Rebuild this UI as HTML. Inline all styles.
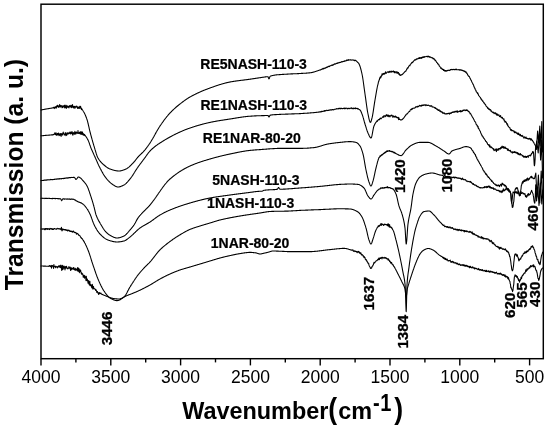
<!DOCTYPE html>
<html lang="en">
<head>
<meta charset="utf-8">
<title>FTIR spectra</title>
<style>
html,body{margin:0;padding:0;background:#fff;}
body{width:550px;height:435px;overflow:hidden;}
svg{display:block;}
text{font-family:"Liberation Sans",Arial,Helvetica,sans-serif;fill:#000;}
.curves path{fill:none;stroke:#000;stroke-width:1.08;stroke-linejoin:round;stroke-linecap:round;}
.frame{fill:none;stroke:#000;stroke-width:1.45;}
.ticks line{stroke:#000;stroke-width:1.4;}
.tl text{font-size:18.2px;text-anchor:middle;}
.sl text{font-size:15.2px;font-weight:bold;stroke:#000;stroke-width:0.25;}
.pl text{font-size:15.2px;font-weight:bold;stroke:#000;stroke-width:0.3;}
.ax{font-weight:bold;}
</style>
</head>
<body>
<svg width="550" height="435" viewBox="0 0 550 435">
<rect x="0" y="0" width="550" height="435" fill="#fff"/>
<g class="curves">
<path d="M41.0 110.0L41.3 109.9L41.6 109.9L41.9 109.8L42.2 109.8L42.5 109.7L42.8 109.6L43.1 109.6L43.4 109.5L43.7 109.5L44.0 109.4L44.3 109.4L44.6 109.3L44.9 109.2L45.2 109.2L45.5 109.1L45.8 109.1L46.1 109.0L46.4 109.0L46.7 108.9L47.0 108.9L47.3 108.8L47.6 108.8L47.9 108.7L48.0 108.7L48.2 108.7L48.5 108.6L48.8 108.6L49.1 108.5L49.4 108.5L49.7 108.4L50.0 108.4L50.3 108.3L50.6 108.3L50.9 108.2L51.2 108.2L51.5 108.1L51.8 108.1L52.1 108.0L52.4 108.0L52.7 107.9L53.0 107.6L53.3 107.7L53.6 107.3L53.9 107.8L54.2 108.6L54.5 107.3L54.8 107.1L55.0 108.0L55.1 107.9L55.4 107.7L55.7 106.6L56.0 107.4L56.3 108.1L56.6 106.0L56.9 106.9L57.2 105.4L57.5 106.0L57.8 105.4L58.1 106.9L58.4 105.9L58.7 107.4L59.0 107.2L59.3 106.8L59.6 104.5L59.9 106.4L60.2 106.8L60.5 107.0L60.8 105.3L61.1 106.3L61.4 105.8L61.7 105.9L62.0 107.8L62.3 105.9L62.6 106.6L62.9 107.5L63.2 106.0L63.5 106.5L63.8 106.7L64.0 106.7L64.1 105.4L64.4 106.7L64.7 107.9L65.0 105.0L65.3 107.4L65.6 106.7L65.9 105.9L66.2 108.5L66.5 107.3L66.8 105.3L67.1 106.6L67.4 107.1L67.7 106.3L68.0 107.2L68.3 106.4L68.6 107.2L68.9 107.9L69.2 105.8L69.5 106.7L69.8 106.0L70.0 106.6L70.1 105.3L70.4 105.9L70.7 106.3L71.0 107.4L71.3 107.7L71.6 105.2L71.9 105.8L72.2 107.2L72.5 104.6L72.8 106.2L73.1 106.5L73.4 107.9L73.7 107.4L74.0 106.4L74.3 106.4L74.6 106.6L74.9 108.4L75.2 106.4L75.5 106.6L75.8 107.3L76.1 106.9L76.4 106.8L76.7 106.0L77.0 107.1L77.3 106.7L77.6 108.4L77.9 107.9L78.0 107.3L78.2 108.0L78.5 107.1L78.8 108.5L79.1 107.5L79.4 108.2L79.7 106.4L80.0 108.2L80.3 106.4L80.6 106.4L80.9 108.0L81.0 107.7L81.2 108.5L81.5 109.7L81.8 108.7L82.1 109.2L82.4 109.8L82.7 110.3L83.0 110.7L83.3 111.2L83.5 111.5L83.6 111.7L83.9 112.2L84.2 112.7L84.5 113.3L84.8 113.9L85.1 114.6L85.4 115.3L85.7 116.0L86.0 116.7L86.3 117.5L86.6 118.4L86.9 119.2L87.0 119.5L87.2 120.1L87.5 121.1L87.8 122.3L88.1 123.5L88.4 124.8L88.7 126.1L89.0 127.4L89.3 128.8L89.6 130.1L89.9 131.3L90.2 132.5L90.2 132.5L90.5 133.6L90.8 134.8L91.1 135.9L91.4 137.0L91.7 138.1L92.0 139.2L92.3 140.2L92.6 141.3L92.9 142.3L93.2 143.3L93.5 144.3L93.8 145.3L94.0 146.0L94.1 146.3L94.4 147.3L94.7 148.3L95.0 149.4L95.3 150.4L95.6 151.4L95.9 152.4L96.2 153.4L96.5 154.3L96.8 155.2L97.1 156.0L97.4 156.8L97.7 157.4L98.0 158.0L98.0 158.0L98.3 158.5L98.6 159.0L98.9 159.5L99.2 159.9L99.5 160.3L99.8 160.7L100.1 161.1L100.4 161.5L100.7 161.8L101.0 162.2L101.3 162.5L101.6 162.8L101.9 163.1L102.2 163.4L102.5 163.7L102.8 164.0L103.1 164.2L103.4 164.5L103.7 164.7L104.0 165.0L104.0 165.0L104.3 165.3L104.6 165.5L104.9 165.8L105.2 166.0L105.5 166.2L105.8 166.5L106.1 166.7L106.4 166.9L106.7 167.2L107.0 167.4L107.3 167.6L107.6 167.8L107.9 168.0L108.2 168.2L108.5 168.3L108.8 168.5L109.1 168.6L109.4 168.8L109.7 168.9L110.0 169.0L110.0 169.0L110.3 169.1L110.6 169.2L110.9 169.3L111.2 169.4L111.5 169.5L111.8 169.6L112.1 169.7L112.4 169.8L112.7 169.9L113.0 170.0L113.3 170.1L113.6 170.2L113.9 170.2L114.2 170.3L114.5 170.4L114.8 170.5L115.1 170.5L115.4 170.6L115.7 170.7L116.0 170.7L116.3 170.8L116.6 170.8L116.9 170.9L117.2 170.9L117.5 170.9L117.8 171.0L118.1 171.0L118.4 171.0L118.7 171.0L119.0 171.0L119.0 171.0L119.3 171.0L119.6 171.0L119.9 171.0L120.2 170.9L120.5 170.9L120.8 170.8L121.1 170.8L121.4 170.7L121.7 170.6L122.0 170.5L122.3 170.4L122.6 170.3L122.9 170.2L123.2 170.1L123.5 170.0L123.8 169.9L124.1 169.8L124.4 169.7L124.7 169.5L125.0 169.4L125.3 169.3L125.6 169.2L125.9 169.0L126.0 169.0L126.2 168.9L126.5 168.8L126.8 168.6L127.1 168.4L127.4 168.2L127.7 168.0L128.0 167.8L128.3 167.6L128.6 167.4L128.9 167.1L129.2 166.9L129.5 166.6L129.8 166.3L130.1 166.0L130.4 165.7L130.7 165.4L131.0 165.1L131.3 164.8L131.6 164.5L131.9 164.2L132.2 163.9L132.5 163.6L132.8 163.3L133.1 163.0L133.4 162.6L133.7 162.3L134.0 162.0L134.0 162.0L134.3 161.7L134.6 161.3L134.9 161.0L135.2 160.6L135.5 160.2L135.8 159.8L136.1 159.4L136.4 159.0L136.7 158.6L137.0 158.2L137.3 157.8L137.6 157.5L137.9 157.1L138.0 157.0L138.2 156.8L138.5 156.5L138.8 156.1L139.1 155.8L139.4 155.5L139.7 155.2L140.0 155.0L140.3 154.7L140.6 154.4L140.9 154.1L141.2 153.8L141.5 153.5L141.8 153.3L142.1 153.0L142.4 152.7L142.7 152.4L143.0 152.1L143.3 151.8L143.6 151.4L143.9 151.1L144.0 151.0L144.2 150.8L144.5 150.4L144.8 150.1L145.1 149.7L145.4 149.3L145.7 149.0L146.0 148.6L146.3 148.2L146.6 147.8L146.9 147.4L147.2 147.0L147.5 146.6L147.8 146.2L148.1 145.7L148.4 145.3L148.7 144.9L149.0 144.5L149.3 144.0L149.6 143.6L149.9 143.1L150.0 143.0L150.2 142.7L150.5 142.2L150.8 141.8L151.1 141.3L151.4 140.8L151.7 140.3L152.0 139.8L152.3 139.3L152.6 138.8L152.9 138.3L153.2 137.7L153.5 137.2L153.8 136.7L154.1 136.1L154.4 135.6L154.7 135.0L155.0 134.5L155.3 133.9L155.6 133.4L155.9 132.9L156.2 132.3L156.5 131.8L156.8 131.3L157.1 130.7L157.4 130.2L157.7 129.7L158.0 129.2L158.3 128.7L158.6 128.2L158.9 127.7L159.2 127.2L159.5 126.8L159.8 126.3L160.0 126.0L160.1 125.9L160.4 125.4L160.7 125.0L161.0 124.5L161.3 124.1L161.6 123.7L161.9 123.2L162.2 122.8L162.5 122.4L162.8 122.0L163.1 121.6L163.4 121.1L163.7 120.7L164.0 120.3L164.3 119.9L164.6 119.5L164.9 119.1L165.2 118.7L165.5 118.3L165.8 117.9L166.1 117.6L166.4 117.2L166.7 116.8L167.0 116.4L167.3 116.1L167.6 115.7L167.9 115.4L168.2 115.0L168.5 114.7L168.8 114.3L169.1 114.0L169.4 113.6L169.7 113.3L170.0 113.0L170.0 113.0L170.3 112.7L170.6 112.4L170.9 112.1L171.2 111.8L171.5 111.5L171.8 111.2L172.1 110.9L172.4 110.6L172.7 110.3L173.0 110.0L173.3 109.7L173.6 109.4L173.9 109.1L174.2 108.9L174.5 108.6L174.8 108.3L175.1 108.1L175.4 107.8L175.7 107.5L176.0 107.3L176.3 107.0L176.6 106.8L176.9 106.5L177.2 106.3L177.5 106.0L177.8 105.8L178.1 105.5L178.4 105.3L178.7 105.0L179.0 104.8L179.3 104.6L179.6 104.3L179.9 104.1L180.0 104.0L180.2 103.8L180.5 103.6L180.8 103.4L181.1 103.1L181.4 102.9L181.7 102.7L182.0 102.4L182.3 102.2L182.6 102.0L182.9 101.8L183.2 101.5L183.5 101.3L183.8 101.1L184.1 100.9L184.4 100.6L184.7 100.4L185.0 100.2L185.3 100.0L185.6 99.8L185.9 99.6L186.2 99.4L186.5 99.2L186.8 99.0L187.1 98.8L187.4 98.6L187.7 98.4L188.0 98.2L188.3 98.0L188.6 97.8L188.9 97.6L189.2 97.5L189.5 97.3L189.8 97.1L190.0 97.0L190.1 96.9L190.4 96.8L190.7 96.6L191.0 96.4L191.3 96.3L191.6 96.1L191.9 96.0L192.2 95.8L192.5 95.6L192.8 95.5L193.1 95.3L193.4 95.2L193.7 95.0L194.0 94.9L194.3 94.7L194.6 94.6L194.9 94.4L195.2 94.3L195.5 94.1L195.8 94.0L196.1 93.8L196.4 93.7L196.7 93.5L197.0 93.4L197.3 93.2L197.6 93.1L197.9 93.0L198.2 92.8L198.5 92.7L198.8 92.5L199.1 92.4L199.4 92.3L199.7 92.1L200.0 92.0L200.3 91.9L200.6 91.7L200.9 91.6L201.2 91.5L201.5 91.3L201.8 91.2L202.1 91.1L202.4 91.0L202.7 90.8L203.0 90.7L203.3 90.6L203.6 90.5L203.9 90.3L204.2 90.2L204.5 90.1L204.8 90.0L205.1 89.9L205.4 89.7L205.7 89.6L206.0 89.5L206.3 89.4L206.6 89.3L206.9 89.2L207.2 89.0L207.5 88.9L207.8 88.8L208.1 88.7L208.4 88.6L208.7 88.5L209.0 88.4L209.3 88.3L209.6 88.1L209.9 88.0L210.0 88.0L210.2 87.9L210.5 87.8L210.8 87.7L211.1 87.6L211.4 87.5L211.7 87.4L212.0 87.3L212.3 87.2L212.6 87.1L212.9 87.0L213.2 86.9L213.5 86.8L213.8 86.6L214.1 86.5L214.4 86.4L214.7 86.3L215.0 86.2L215.3 86.1L215.6 86.0L215.9 85.9L216.2 85.8L216.5 85.7L216.8 85.6L217.1 85.5L217.4 85.4L217.7 85.3L218.0 85.2L218.3 85.1L218.6 85.0L218.9 84.9L219.2 84.8L219.5 84.7L219.8 84.6L220.1 84.5L220.4 84.5L220.7 84.4L221.0 84.3L221.3 84.2L221.6 84.1L221.9 84.0L222.2 83.9L222.5 83.8L222.8 83.7L223.1 83.7L223.4 83.6L223.7 83.5L224.0 83.4L224.3 83.3L224.6 83.2L224.9 83.2L225.2 83.1L225.5 83.0L225.8 82.9L226.1 82.9L226.4 82.8L226.7 82.7L227.0 82.6L227.3 82.6L227.6 82.5L227.9 82.4L228.2 82.4L228.5 82.3L228.8 82.2L229.1 82.2L229.4 82.1L229.7 82.1L230.0 82.0L230.0 82.0L230.3 81.9L230.6 81.9L230.9 81.8L231.2 81.8L231.5 81.7L231.8 81.7L232.1 81.6L232.4 81.6L232.7 81.5L233.0 81.5L233.3 81.4L233.6 81.4L233.9 81.3L234.2 81.3L234.5 81.2L234.8 81.2L235.1 81.1L235.4 81.1L235.7 81.1L236.0 81.0L236.3 81.0L236.6 80.9L236.9 80.9L237.2 80.9L237.5 80.8L237.8 80.8L238.1 80.7L238.4 80.7L238.7 80.7L239.0 80.6L239.3 80.6L239.6 80.5L239.9 80.5L240.2 80.5L240.5 80.4L240.8 80.4L241.1 80.3L241.4 80.3L241.7 80.3L242.0 80.2L242.3 80.2L242.6 80.2L242.9 80.1L243.2 80.1L243.5 80.1L243.8 80.0L244.1 80.0L244.4 79.9L244.7 79.9L245.0 79.9L245.3 79.8L245.6 79.8L245.9 79.8L246.2 79.7L246.5 79.7L246.8 79.6L247.1 79.6L247.4 79.6L247.7 79.5L248.0 79.5L248.3 79.4L248.6 79.4L248.9 79.4L249.2 79.3L249.5 79.3L249.8 79.2L250.0 79.2L250.1 79.2L250.4 79.1L250.7 79.1L251.0 79.1L251.3 79.0L251.6 79.0L251.9 78.9L252.2 78.9L252.5 78.8L252.8 78.8L253.1 78.7L253.4 78.7L253.7 78.6L254.0 78.6L254.3 78.6L254.6 78.5L254.9 78.5L255.2 78.4L255.5 78.4L255.8 78.3L256.1 78.3L256.4 78.2L256.7 78.2L257.0 78.1L257.3 78.1L257.6 78.1L257.9 78.0L258.2 78.0L258.5 77.9L258.8 77.9L259.1 77.8L259.4 77.8L259.7 77.7L260.0 77.7L260.0 77.7L260.3 77.7L260.6 77.6L260.9 77.6L261.2 77.5L261.5 77.5L261.8 77.4L262.1 77.4L262.4 77.3L262.7 77.3L263.0 77.2L263.3 77.2L263.6 77.2L263.9 77.1L264.2 77.1L264.5 77.0L264.8 77.0L265.1 76.9L265.4 76.9L265.7 76.9L266.0 76.8L266.3 76.8L266.5 76.8L266.6 76.8L266.9 76.8L267.2 76.7L267.5 76.7L267.8 76.7L267.9 76.7L268.1 76.9L268.4 77.7L268.7 78.5L269.0 78.9L269.0 78.9L269.3 78.5L269.6 77.6L269.9 76.7L270.2 76.2L270.2 76.2L270.5 76.1L270.8 76.0L271.1 75.9L271.4 75.8L271.7 75.7L272.0 75.7L272.3 75.6L272.6 75.5L272.9 75.5L273.2 75.4L273.5 75.3L273.8 75.3L274.1 75.2L274.4 75.2L274.7 75.1L275.0 75.1L275.3 75.0L275.6 75.0L275.9 74.9L276.2 74.9L276.5 74.9L276.8 74.8L277.1 74.8L277.4 74.8L277.7 74.8L278.0 74.7L278.3 74.7L278.6 74.7L278.9 74.7L279.2 74.6L279.5 74.6L279.8 74.6L280.1 74.6L280.4 74.6L280.7 74.5L281.0 74.5L281.3 74.5L281.6 74.5L281.9 74.5L282.2 74.4L282.5 74.4L282.8 74.4L283.1 74.4L283.4 74.4L283.7 74.4L284.0 74.3L284.3 74.3L284.5 74.3L284.6 74.3L284.9 74.3L285.2 74.2L285.5 74.2L285.8 74.2L286.1 74.2L286.4 74.2L286.7 74.2L287.0 74.1L287.3 74.1L287.6 74.1L287.9 74.1L288.2 74.1L288.5 74.0L288.8 74.0L289.1 74.0L289.4 74.0L289.7 74.0L290.0 74.0L290.3 74.0L290.6 73.9L290.9 73.9L291.2 73.9L291.5 73.9L291.8 73.9L292.1 73.9L292.4 73.9L292.7 73.9L293.0 73.8L293.3 73.8L293.6 73.8L293.9 73.8L294.2 73.8L294.5 73.8L294.8 73.8L295.1 73.7L295.4 73.7L295.7 73.7L296.0 73.7L296.3 73.7L296.6 73.7L296.9 73.7L297.2 73.7L297.5 73.6L297.8 73.6L298.1 73.6L298.4 73.6L298.7 73.6L299.0 73.6L299.3 73.5L299.6 73.5L299.9 73.5L300.0 73.5L300.2 73.5L300.5 73.5L300.8 73.5L301.1 73.4L301.4 73.4L301.7 73.4L302.0 73.4L302.3 73.4L302.6 73.4L302.9 73.3L303.2 73.3L303.5 73.3L303.8 73.3L304.1 73.3L304.4 73.3L304.7 73.2L305.0 73.2L305.3 73.2L305.6 73.2L305.9 73.2L306.2 73.1L306.5 73.1L306.8 73.1L307.1 73.1L307.4 73.0L307.7 73.0L308.0 73.0L308.3 73.0L308.6 72.9L308.9 72.9L309.2 72.9L309.5 72.9L309.8 72.8L310.0 72.8L310.1 72.8L310.4 72.8L310.7 72.7L311.0 72.7L311.3 72.6L311.6 72.6L311.9 72.5L312.2 72.4L312.5 72.4L312.8 72.3L313.1 72.2L313.4 72.1L313.7 72.1L314.0 72.0L314.3 71.9L314.6 71.8L314.9 71.7L315.2 71.6L315.5 71.5L315.8 71.4L316.1 71.3L316.4 71.2L316.7 71.1L317.0 71.0L317.3 70.9L317.6 70.8L317.9 70.7L318.2 70.6L318.5 70.5L318.8 70.4L319.1 70.2L319.4 70.2L319.7 70.1L320.0 69.9L320.0 70.0L320.3 69.8L320.6 70.0L320.9 69.7L321.2 69.6L321.5 69.3L321.8 69.3L322.1 68.8L322.4 68.9L322.7 69.1L323.0 68.4L323.3 69.0L323.6 68.3L323.9 68.7L324.2 68.2L324.5 68.4L324.8 68.2L325.1 67.7L325.4 68.2L325.7 68.1L326.0 67.6L326.3 67.4L326.6 67.3L326.9 67.0L327.2 67.4L327.5 66.9L327.8 66.9L328.1 66.6L328.4 66.5L328.7 66.2L329.0 66.7L329.3 66.2L329.6 66.4L329.9 66.0L330.0 65.8L330.2 65.9L330.5 65.7L330.8 65.7L331.1 65.5L331.4 65.4L331.7 65.0L332.0 65.1L332.3 65.5L332.6 64.9L332.9 64.7L333.2 64.8L333.5 65.0L333.8 64.2L334.1 64.4L334.4 64.2L334.7 63.8L335.0 64.2L335.3 64.0L335.6 63.9L335.9 63.6L336.2 63.7L336.5 63.4L336.8 63.4L337.1 63.1L337.4 63.0L337.7 63.4L338.0 62.9L338.3 63.0L338.6 62.8L338.9 62.6L339.2 62.5L339.5 62.7L339.8 62.4L340.0 62.4L340.1 62.4L340.4 62.5L340.7 62.3L341.0 62.2L341.3 61.9L341.6 61.6L341.9 62.0L342.2 61.9L342.5 61.6L342.8 61.6L343.1 61.6L343.4 61.5L343.7 61.4L344.0 61.0L344.3 61.4L344.6 60.7L344.9 61.1L345.2 60.9L345.5 60.9L345.8 61.0L346.1 60.9L346.4 60.2L346.7 60.0L347.0 60.5L347.3 60.1L347.6 60.2L347.9 60.4L348.2 59.8L348.5 59.6L348.8 60.1L349.1 60.0L349.4 60.0L349.7 60.0L350.0 59.8L350.0 59.7L350.3 60.0L350.6 59.8L350.9 59.7L351.2 60.1L351.5 60.0L351.8 60.1L352.1 59.9L352.4 60.0L352.7 59.9L353.0 60.0L353.3 60.2L353.6 60.0L353.9 60.3L354.2 60.4L354.5 60.8L354.8 60.1L355.0 60.6L355.1 60.4L355.4 60.5L355.7 60.3L356.0 60.7L356.3 61.1L356.6 61.2L356.9 61.5L357.2 61.7L357.5 62.3L357.8 62.4L358.1 62.5L358.4 63.1L358.7 63.4L359.0 63.7L359.0 64.0L359.3 64.6L359.6 65.2L359.9 66.0L360.2 66.9L360.5 67.9L360.8 69.0L361.1 70.2L361.4 71.4L361.7 72.7L362.0 74.0L362.0 74.0L362.3 75.5L362.6 77.1L362.9 79.0L363.2 81.0L363.5 83.2L363.8 85.4L364.1 87.6L364.4 89.8L364.7 91.9L365.0 94.0L365.0 94.0L365.3 96.1L365.6 98.2L365.9 100.4L366.2 102.6L366.5 104.8L366.8 106.9L367.1 108.9L367.4 110.8L367.7 112.5L368.0 114.0L368.0 114.0L368.3 115.4L368.6 116.8L368.9 118.3L369.2 119.6L369.5 120.7L369.8 121.6L370.1 122.2L370.4 122.4L370.4 122.4L370.7 122.2L371.0 121.5L371.3 120.6L371.6 119.5L371.9 118.4L372.0 118.0L372.2 117.2L372.5 115.8L372.8 114.2L373.1 112.4L373.4 110.4L373.7 108.4L374.0 106.4L374.3 104.4L374.6 102.4L374.9 100.6L375.0 100.0L375.2 98.9L375.5 97.1L375.8 95.4L376.1 93.6L376.4 91.9L376.7 90.2L377.0 88.6L377.3 87.0L377.6 85.7L377.9 84.6L378.0 84.2L378.2 83.3L378.5 81.7L378.8 81.4L379.1 79.8L379.4 79.9L379.7 77.9L380.0 77.9L380.0 78.0L380.3 76.8L380.6 78.0L380.9 77.4L381.2 75.9L381.5 76.2L381.8 75.6L382.1 73.7L382.4 74.9L382.7 74.5L383.0 74.3L383.3 73.4L383.6 73.7L383.9 73.6L384.0 74.3L384.2 73.7L384.5 73.3L384.8 74.0L385.1 72.7L385.4 72.7L385.7 71.7L386.0 73.5L386.3 73.0L386.6 72.9L386.9 72.6L387.2 72.2L387.5 72.1L387.8 71.8L388.1 71.7L388.4 71.8L388.7 72.6L389.0 72.0L389.3 71.6L389.6 71.3L389.9 71.3L390.0 72.5L390.2 71.9L390.5 71.6L390.8 71.4L391.1 71.0L391.4 71.6L391.7 72.1L392.0 71.5L392.3 71.6L392.6 71.6L392.9 71.8L393.2 70.9L393.5 71.7L393.8 71.4L394.1 72.4L394.4 71.5L394.7 72.3L395.0 72.9L395.3 71.9L395.6 71.8L395.9 72.3L396.2 72.2L396.5 71.8L396.8 72.6L397.0 73.5L397.1 72.3L397.4 72.4L397.7 72.1L398.0 73.1L398.3 72.5L398.6 72.8L398.9 74.4L399.2 73.5L399.5 74.7L399.8 75.1L400.1 74.8L400.4 75.0L400.7 75.5L401.0 75.0L401.0 74.9L401.3 74.8L401.6 74.9L401.9 74.7L402.2 74.5L402.5 74.3L402.8 74.0L403.1 73.7L403.4 73.4L403.7 73.0L404.0 72.7L404.3 72.4L404.6 72.0L404.9 71.7L405.0 71.7L405.2 71.4L405.5 71.2L405.8 71.3L406.1 70.5L406.4 69.9L406.7 69.0L407.0 69.2L407.3 68.1L407.6 67.8L407.9 68.1L408.2 67.6L408.5 66.9L408.8 66.0L409.1 66.0L409.4 65.5L409.7 65.5L410.0 65.7L410.0 65.1L410.3 64.4L410.6 64.0L410.9 63.9L411.2 63.6L411.5 62.9L411.8 63.0L412.1 62.2L412.4 62.6L412.7 62.3L413.0 62.0L413.3 61.2L413.6 61.2L413.9 60.7L414.2 60.4L414.5 60.2L414.8 59.7L415.0 59.6L415.1 60.2L415.4 59.7L415.7 59.7L416.0 59.8L416.3 58.8L416.6 58.9L416.9 59.1L417.2 59.0L417.5 58.7L417.8 59.0L418.1 58.6L418.4 58.1L418.7 58.1L419.0 58.5L419.3 58.3L419.6 57.5L419.9 58.4L420.0 58.2L420.2 58.4L420.5 57.8L420.8 57.7L421.1 57.4L421.4 58.4L421.7 57.5L422.0 58.0L422.3 57.2L422.6 57.4L422.9 56.8L423.2 57.1L423.5 57.4L423.8 56.7L424.1 57.4L424.4 57.1L424.7 56.6L425.0 56.7L425.3 56.7L425.6 56.8L425.9 56.6L426.2 56.5L426.5 56.6L426.8 56.3L427.1 56.2L427.4 56.6L427.7 56.9L428.0 56.1L428.0 56.6L428.3 56.4L428.6 56.3L428.9 56.9L429.2 56.6L429.5 57.3L429.8 56.7L430.1 57.1L430.4 57.1L430.7 57.0L431.0 57.6L431.3 57.5L431.6 57.8L431.9 57.8L432.2 57.6L432.5 58.1L432.8 58.3L433.0 58.7L433.1 58.2L433.4 58.6L433.7 58.4L434.0 59.3L434.3 59.1L434.6 59.2L434.9 60.1L435.2 60.8L435.5 60.3L435.8 60.9L436.1 61.3L436.4 61.6L436.7 62.5L437.0 62.5L437.3 62.9L437.6 63.7L437.9 63.7L438.0 64.1L438.2 64.0L438.5 64.3L438.8 64.5L439.1 66.0L439.4 65.8L439.7 66.4L440.0 66.7L440.3 67.2L440.6 67.6L440.9 68.5L441.2 68.0L441.5 68.1L441.8 68.5L442.0 68.6L442.1 69.3L442.4 69.5L442.7 69.2L443.0 69.3L443.3 69.8L443.6 70.5L443.9 69.5L444.2 70.6L444.5 70.3L444.8 71.1L445.1 70.5L445.4 70.8L445.7 70.5L446.0 70.7L446.0 71.4L446.3 71.2L446.6 70.8L446.9 70.7L447.2 70.3L447.5 70.7L447.8 70.7L448.1 70.6L448.4 70.5L448.7 70.1L449.0 70.3L449.3 70.2L449.6 70.5L449.9 70.6L450.2 69.9L450.5 69.6L450.8 69.7L451.1 69.5L451.4 69.4L451.7 69.6L452.0 69.3L452.0 69.8L452.3 69.6L452.6 69.7L452.9 69.6L453.2 69.4L453.5 69.3L453.8 69.6L454.1 69.5L454.4 69.7L454.7 69.7L455.0 69.3L455.3 69.7L455.6 69.3L455.9 69.5L456.2 69.6L456.5 69.1L456.8 69.8L457.1 69.8L457.4 69.7L457.7 69.7L458.0 69.7L458.3 69.6L458.6 69.8L458.9 69.7L459.2 70.0L459.5 69.6L459.8 70.1L460.0 70.0L460.1 70.0L460.4 69.9L460.7 70.2L461.0 69.6L461.3 70.3L461.6 70.3L461.9 70.4L462.2 70.5L462.5 70.3L462.8 70.5L463.1 70.9L463.4 70.9L463.7 70.9L464.0 70.5L464.0 71.2L464.3 71.5L464.6 71.6L464.9 71.6L465.2 71.3L465.5 72.3L465.8 72.3L466.1 71.9L466.4 73.1L466.7 72.9L467.0 73.3L467.3 73.9L467.6 74.9L467.9 74.8L468.0 75.1L468.2 75.8L468.5 76.2L468.8 76.1L469.1 76.5L469.4 76.7L469.7 77.4L470.0 78.3L470.3 78.8L470.6 79.3L470.9 80.1L471.2 80.2L471.5 81.0L471.8 81.8L472.0 82.2L472.1 82.5L472.4 82.9L472.7 83.4L473.0 84.3L473.3 84.6L473.6 85.1L473.9 86.5L474.2 87.1L474.5 87.9L474.8 88.0L475.1 89.1L475.4 89.7L475.7 90.2L476.0 90.3L476.0 90.9L476.3 91.8L476.6 92.1L476.9 92.2L477.2 92.8L477.5 93.5L477.8 92.9L478.0 94.0L478.1 94.3L478.4 94.8L478.7 95.6L479.0 95.9L479.3 96.1L479.6 96.5L479.9 97.1L480.2 97.2L480.5 97.8L480.8 98.5L481.1 99.3L481.4 99.1L481.7 99.6L482.0 100.1L482.0 100.4L482.3 100.4L482.6 101.3L482.9 101.0L483.2 101.7L483.5 102.1L483.8 102.8L484.1 103.3L484.4 103.0L484.7 103.6L485.0 104.4L485.3 104.5L485.6 104.7L485.9 105.8L486.2 106.1L486.5 106.5L486.8 106.5L487.1 107.2L487.4 107.5L487.7 108.4L488.0 108.4L488.0 107.9L488.3 108.4L488.6 109.2L488.9 108.9L489.2 108.7L489.5 109.6L489.8 110.0L490.1 109.7L490.4 109.6L490.7 109.9L491.0 111.3L491.3 110.8L491.6 111.4L491.9 111.8L492.2 112.2L492.5 112.0L492.8 112.6L493.1 112.1L493.4 112.5L493.7 112.3L494.0 113.6L494.0 113.0L494.3 112.8L494.6 113.1L494.9 113.2L495.2 113.8L495.5 112.7L495.8 113.1L496.1 113.5L496.4 115.0L496.7 114.4L497.0 113.9L497.0 114.4L497.3 115.2L497.6 114.2L497.9 114.3L498.2 115.3L498.5 115.1L498.8 115.4L499.1 115.0L499.4 116.5L499.7 116.6L500.0 116.3L500.3 116.6L500.6 115.5L500.9 117.1L501.2 117.0L501.5 117.6L501.8 118.0L502.1 117.8L502.4 117.4L502.7 118.7L503.0 118.5L503.3 119.0L503.6 119.2L503.8 119.5L503.9 118.7L504.2 120.8L504.5 120.6L504.8 121.5L505.1 122.3L505.4 121.8L505.7 121.3L506.0 122.2L506.3 122.5L506.6 123.4L506.9 124.2L507.2 123.6L507.5 125.3L507.8 124.8L508.1 126.2L508.4 126.4L508.7 126.8L509.0 127.3L509.3 127.5L509.6 127.8L509.9 127.7L510.2 128.8L510.5 130.0L510.7 130.3L510.8 130.0L511.1 130.0L511.4 129.5L511.7 130.8L512.0 130.2L512.3 130.4L512.6 130.5L512.9 130.9L513.2 130.8L513.5 131.2L513.8 130.8L514.1 131.3L514.4 132.8L514.7 131.8L515.0 131.9L515.3 132.4L515.6 132.7L515.9 131.9L516.2 132.5L516.5 133.2L516.8 133.1L517.1 133.2L517.4 134.1L517.6 133.1L517.7 133.5L518.0 133.4L518.3 134.6L518.6 133.1L518.9 133.9L519.2 134.2L519.5 135.0L519.8 135.1L520.1 135.7L520.4 134.4L520.7 135.8L521.0 135.5L521.3 135.5L521.6 136.3L521.9 135.8L522.2 135.4L522.5 136.4L522.8 136.0L523.1 136.6L523.4 137.3L523.7 137.4L524.0 138.2L524.3 137.4L524.5 136.8L524.6 137.3L524.9 137.3L525.2 137.2L525.5 138.2L525.8 137.7L526.1 137.1L526.4 138.5L526.7 138.2L527.0 138.5L527.3 138.4L527.6 138.8L527.9 138.5L528.2 139.2L528.5 138.9L528.8 138.9L529.1 139.0L529.4 138.2L529.7 138.9L530.0 139.0L530.3 139.3L530.6 138.6L530.9 140.3L531.2 139.6L531.4 139.1L531.5 138.9L531.8 139.8L532.1 140.2L532.4 140.3L532.7 141.0L533.0 141.2L533.3 142.0L533.6 142.2L533.9 142.8L534.2 143.5L534.5 144.1L534.8 144.5L535.1 145.1L535.4 145.7L535.5 145.9L536.4 149.5L537.6 131.0L538.6 143.0L539.8 126.0L540.8 146.0L541.8 121.5L542.6 152.0"/>
<path d="M41.0 135.8L41.3 135.8L41.6 135.8L41.9 135.7L42.2 135.7L42.5 135.7L42.8 135.7L43.1 135.6L43.4 135.6L43.7 135.6L44.0 135.5L44.3 135.5L44.6 135.5L44.9 135.5L45.2 135.4L45.5 135.4L45.8 135.4L46.1 135.4L46.4 135.3L46.7 135.3L47.0 135.3L47.3 135.3L47.6 135.2L47.9 135.2L48.2 135.2L48.5 135.2L48.8 135.1L49.1 135.1L49.4 135.1L49.7 135.1L50.0 135.0L50.3 135.0L50.6 135.0L50.9 135.0L51.2 134.9L51.5 134.9L51.8 134.9L52.1 134.9L52.4 134.8L52.7 134.9L53.0 134.5L53.3 134.6L53.6 134.7L53.9 134.2L54.2 134.1L54.5 134.3L54.8 132.9L55.0 133.3L55.1 134.2L55.4 134.7L55.7 134.4L56.0 132.7L56.3 134.0L56.6 135.3L56.9 135.0L57.2 134.3L57.5 133.5L57.8 135.0L58.1 133.7L58.4 133.1L58.7 133.5L59.0 135.7L59.3 134.4L59.6 135.3L59.9 133.7L60.2 135.1L60.5 133.5L60.8 133.9L61.1 136.5L61.4 134.8L61.7 133.5L62.0 133.9L62.3 134.3L62.6 135.1L62.9 133.4L63.2 132.1L63.5 133.5L63.8 133.8L64.1 133.9L64.4 135.1L64.7 134.0L65.0 134.5L65.3 132.6L65.6 134.5L65.9 135.7L66.0 134.4L66.2 133.8L66.5 133.7L66.8 135.3L67.1 132.6L67.4 133.4L67.7 133.9L68.0 134.1L68.3 132.9L68.6 133.6L68.9 133.0L69.2 133.4L69.5 133.1L69.8 132.1L70.1 133.2L70.4 134.0L70.7 132.1L71.0 132.8L71.3 133.7L71.6 131.9L71.9 133.2L72.2 131.9L72.5 134.1L72.8 135.2L73.1 134.9L73.4 132.6L73.7 133.5L74.0 132.9L74.3 132.9L74.6 134.3L74.9 131.4L75.2 133.7L75.5 132.6L75.8 134.1L76.1 132.8L76.4 132.0L76.7 132.9L77.0 133.3L77.3 132.6L77.6 133.1L77.9 132.1L78.0 130.5L78.2 133.5L78.5 133.3L78.8 132.8L79.1 132.7L79.4 133.7L79.7 132.3L80.0 132.1L80.3 132.6L80.6 134.1L80.9 131.6L81.2 134.2L81.5 132.4L81.8 132.0L82.0 134.5L82.1 133.1L82.4 132.0L82.7 133.1L83.0 134.6L83.3 135.1L83.6 133.7L83.9 134.8L84.2 135.3L84.5 134.5L84.8 135.6L85.0 135.5L85.1 135.3L85.4 135.7L85.7 136.3L86.0 136.7L86.3 137.0L86.6 137.5L86.9 138.0L87.2 138.5L87.5 139.1L87.8 139.6L88.0 140.0L88.1 140.2L88.4 140.9L88.7 141.6L89.0 142.4L89.3 143.2L89.6 144.1L89.9 145.0L90.2 145.8L90.5 146.7L90.8 147.5L91.0 148.0L91.1 148.2L91.4 149.0L91.7 149.7L92.0 150.4L92.3 151.1L92.6 151.7L92.9 152.4L93.2 153.1L93.5 153.7L93.8 154.4L94.1 155.0L94.4 155.7L94.7 156.3L95.0 157.0L95.0 157.0L95.3 157.7L95.6 158.4L95.9 159.0L96.2 159.7L96.5 160.4L96.8 161.1L97.1 161.8L97.4 162.5L97.7 163.2L98.0 163.8L98.3 164.5L98.6 165.1L98.9 165.8L99.2 166.4L99.5 167.0L99.8 167.6L100.0 168.0L100.1 168.2L100.4 168.8L100.7 169.3L101.0 169.9L101.3 170.4L101.6 171.0L101.9 171.5L102.2 172.1L102.5 172.6L102.8 173.1L103.1 173.7L103.4 174.2L103.7 174.7L104.0 175.1L104.3 175.6L104.6 176.1L104.9 176.5L105.2 176.9L105.5 177.4L105.8 177.7L106.0 178.0L106.1 178.1L106.4 178.5L106.7 178.9L107.0 179.2L107.3 179.6L107.6 179.9L107.9 180.3L108.2 180.6L108.5 180.9L108.8 181.2L109.1 181.5L109.4 181.8L109.7 182.1L110.0 182.4L110.3 182.7L110.6 182.9L110.9 183.2L111.2 183.4L111.5 183.6L111.8 183.9L112.0 184.0L112.1 184.1L112.4 184.3L112.7 184.5L113.0 184.7L113.3 184.9L113.6 185.1L113.9 185.3L114.2 185.5L114.5 185.7L114.8 185.9L115.1 186.1L115.4 186.2L115.7 186.4L116.0 186.5L116.3 186.6L116.6 186.8L116.9 186.8L117.2 186.9L117.5 187.0L117.8 187.0L118.0 187.0L118.1 187.0L118.4 187.0L118.7 187.0L119.0 186.9L119.3 186.9L119.6 186.8L119.9 186.7L120.2 186.6L120.5 186.6L120.8 186.4L121.1 186.3L121.4 186.2L121.7 186.1L122.0 186.0L122.3 185.8L122.6 185.7L122.9 185.5L123.2 185.4L123.5 185.2L123.8 185.1L124.0 185.0L124.1 184.9L124.4 184.8L124.7 184.6L125.0 184.4L125.3 184.1L125.6 183.9L125.9 183.6L126.2 183.3L126.5 183.0L126.8 182.7L127.1 182.4L127.4 182.1L127.7 181.7L128.0 181.4L128.3 181.0L128.6 180.7L128.9 180.3L129.2 180.0L129.5 179.6L129.8 179.2L130.0 179.0L130.1 178.9L130.4 178.5L130.7 178.1L131.0 177.7L131.3 177.3L131.6 176.9L131.9 176.5L132.2 176.0L132.5 175.6L132.8 175.1L133.1 174.6L133.4 174.2L133.7 173.7L134.0 173.2L134.3 172.7L134.6 172.3L134.9 171.8L135.2 171.3L135.5 170.8L135.8 170.3L136.1 169.9L136.4 169.4L136.7 168.9L137.0 168.5L137.3 168.0L137.6 167.6L137.9 167.1L138.0 167.0L138.2 166.7L138.5 166.3L138.8 165.9L139.1 165.5L139.4 165.1L139.7 164.7L140.0 164.3L140.3 163.9L140.6 163.5L140.9 163.1L141.2 162.7L141.5 162.3L141.8 161.9L142.1 161.5L142.4 161.1L142.7 160.7L143.0 160.3L143.3 159.9L143.6 159.5L143.9 159.1L144.0 159.0L144.2 158.7L144.5 158.3L144.8 157.9L145.1 157.5L145.4 157.1L145.7 156.6L146.0 156.2L146.3 155.8L146.6 155.4L146.9 154.9L147.2 154.5L147.5 154.1L147.8 153.7L148.1 153.3L148.4 152.9L148.7 152.5L149.0 152.1L149.3 151.8L149.6 151.4L149.9 151.1L150.0 151.0L150.2 150.8L150.5 150.5L150.8 150.2L151.1 149.9L151.4 149.6L151.7 149.3L152.0 149.0L152.3 148.8L152.6 148.5L152.9 148.2L153.2 148.0L153.5 147.7L153.8 147.5L154.1 147.2L154.4 147.0L154.7 146.7L155.0 146.5L155.0 146.5L155.3 146.3L155.6 146.0L155.9 145.8L156.2 145.6L156.5 145.4L156.8 145.2L157.1 144.9L157.4 144.7L157.7 144.5L158.0 144.3L158.3 144.1L158.6 143.9L158.9 143.7L159.2 143.5L159.5 143.3L159.8 143.1L160.0 143.0L160.1 142.9L160.4 142.7L160.7 142.5L161.0 142.4L161.3 142.2L161.6 142.0L161.9 141.8L162.2 141.6L162.5 141.4L162.8 141.2L163.1 141.0L163.4 140.8L163.7 140.7L164.0 140.5L164.3 140.3L164.6 140.1L164.9 139.9L165.2 139.7L165.5 139.6L165.8 139.4L166.1 139.2L166.4 139.0L166.7 138.9L167.0 138.7L167.3 138.5L167.6 138.3L167.9 138.2L168.2 138.0L168.5 137.8L168.8 137.7L169.1 137.5L169.4 137.3L169.7 137.2L170.0 137.0L170.0 137.0L170.3 136.8L170.6 136.7L170.9 136.5L171.2 136.4L171.5 136.2L171.8 136.0L172.1 135.9L172.4 135.7L172.7 135.6L173.0 135.4L173.3 135.2L173.6 135.1L173.9 134.9L174.2 134.8L174.5 134.6L174.8 134.5L175.1 134.3L175.4 134.2L175.7 134.0L176.0 133.9L176.3 133.7L176.6 133.6L176.9 133.4L177.2 133.3L177.5 133.2L177.8 133.0L178.1 132.9L178.4 132.7L178.7 132.6L179.0 132.5L179.3 132.3L179.6 132.2L179.9 132.0L180.0 132.0L180.2 131.9L180.5 131.8L180.8 131.6L181.1 131.5L181.4 131.4L181.7 131.3L182.0 131.1L182.3 131.0L182.6 130.9L182.9 130.7L183.2 130.6L183.5 130.5L183.8 130.4L184.1 130.2L184.4 130.1L184.7 130.0L185.0 129.9L185.3 129.7L185.6 129.6L185.9 129.5L186.2 129.4L186.5 129.3L186.8 129.2L187.1 129.0L187.4 128.9L187.7 128.8L188.0 128.7L188.3 128.6L188.6 128.5L188.9 128.4L189.2 128.3L189.5 128.2L189.8 128.1L190.0 128.0L190.1 128.0L190.4 127.9L190.7 127.8L191.0 127.7L191.3 127.6L191.6 127.5L191.9 127.4L192.2 127.3L192.5 127.2L192.8 127.1L193.1 127.0L193.4 126.9L193.7 126.8L194.0 126.7L194.3 126.6L194.6 126.5L194.9 126.4L195.2 126.3L195.5 126.2L195.8 126.1L196.1 126.0L196.4 125.9L196.7 125.9L197.0 125.8L197.3 125.7L197.6 125.6L197.9 125.5L198.2 125.4L198.5 125.3L198.8 125.2L199.1 125.1L199.4 125.1L199.7 125.0L200.0 124.9L200.3 124.8L200.6 124.7L200.9 124.6L201.2 124.6L201.5 124.5L201.8 124.4L202.1 124.3L202.4 124.2L202.7 124.1L203.0 124.1L203.3 124.0L203.6 123.9L203.9 123.8L204.2 123.8L204.5 123.7L204.8 123.6L205.1 123.5L205.4 123.5L205.7 123.4L206.0 123.3L206.3 123.2L206.6 123.2L206.9 123.1L207.2 123.0L207.5 123.0L207.8 122.9L208.1 122.8L208.4 122.7L208.7 122.7L209.0 122.6L209.3 122.6L209.6 122.5L209.9 122.4L210.0 122.4L210.2 122.4L210.5 122.3L210.8 122.2L211.1 122.2L211.4 122.1L211.7 122.0L212.0 122.0L212.3 121.9L212.6 121.9L212.9 121.8L213.2 121.8L213.5 121.7L213.8 121.6L214.1 121.6L214.4 121.5L214.7 121.5L215.0 121.4L215.3 121.4L215.6 121.3L215.9 121.3L216.2 121.2L216.5 121.1L216.8 121.1L217.1 121.0L217.4 121.0L217.7 120.9L218.0 120.9L218.3 120.8L218.6 120.8L218.9 120.7L219.2 120.7L219.5 120.6L219.8 120.6L220.1 120.5L220.4 120.5L220.7 120.4L221.0 120.4L221.3 120.3L221.6 120.3L221.9 120.2L222.2 120.2L222.5 120.2L222.8 120.1L223.1 120.1L223.4 120.0L223.7 120.0L224.0 119.9L224.3 119.9L224.6 119.8L224.9 119.8L225.2 119.7L225.5 119.7L225.8 119.6L226.1 119.6L226.4 119.6L226.7 119.5L227.0 119.5L227.3 119.4L227.6 119.4L227.9 119.3L228.2 119.3L228.5 119.2L228.8 119.2L229.1 119.1L229.4 119.1L229.7 119.0L230.0 119.0L230.0 119.0L230.3 119.0L230.6 118.9L230.9 118.9L231.2 118.8L231.5 118.8L231.8 118.7L232.1 118.7L232.4 118.6L232.7 118.6L233.0 118.5L233.3 118.5L233.6 118.4L233.9 118.4L234.2 118.3L234.5 118.3L234.8 118.2L235.1 118.2L235.4 118.1L235.7 118.1L236.0 118.0L236.3 118.0L236.6 117.9L236.9 117.9L237.2 117.8L237.5 117.8L237.8 117.7L238.1 117.7L238.4 117.6L238.7 117.6L239.0 117.5L239.3 117.5L239.6 117.5L239.9 117.4L240.2 117.4L240.5 117.3L240.8 117.3L241.1 117.2L241.4 117.2L241.7 117.1L242.0 117.1L242.3 117.0L242.6 117.0L242.9 117.0L243.2 116.9L243.5 116.9L243.8 116.8L244.1 116.8L244.4 116.8L244.7 116.7L245.0 116.7L245.3 116.7L245.6 116.6L245.9 116.6L246.2 116.5L246.5 116.5L246.8 116.5L247.1 116.5L247.4 116.4L247.7 116.4L248.0 116.4L248.3 116.3L248.6 116.3L248.9 116.3L249.2 116.3L249.5 116.2L249.8 116.2L250.0 116.2L250.1 116.2L250.4 116.2L250.7 116.2L251.0 116.1L251.3 116.1L251.6 116.1L251.9 116.1L252.2 116.1L252.5 116.0L252.8 116.0L253.1 116.0L253.4 116.0L253.7 116.0L254.0 116.0L254.3 115.9L254.6 115.9L254.9 115.9L255.2 115.9L255.5 115.9L255.8 115.9L256.1 115.9L256.4 115.8L256.7 115.8L257.0 115.8L257.3 115.8L257.6 115.8L257.9 115.8L258.2 115.8L258.5 115.8L258.8 115.7L259.1 115.7L259.4 115.7L259.7 115.7L260.0 115.7L260.0 115.7L260.3 115.7L260.6 115.7L260.9 115.7L261.2 115.7L261.5 115.6L261.8 115.6L262.1 115.6L262.4 115.6L262.7 115.6L263.0 115.6L263.3 115.6L263.6 115.6L263.9 115.6L264.2 115.6L264.5 115.6L264.8 115.5L265.1 115.5L265.4 115.5L265.7 115.5L266.0 115.5L266.3 115.5L266.6 115.5L266.9 115.5L267.2 115.5L267.5 115.5L267.8 115.5L267.9 115.5L268.1 115.6L268.4 116.1L268.7 116.7L269.0 117.0L269.0 117.0L269.3 116.7L269.6 116.1L269.9 115.5L270.2 115.2L270.2 115.2L270.5 115.1L270.8 115.1L271.1 115.0L271.4 115.0L271.7 114.9L272.0 114.9L272.3 114.9L272.6 114.8L272.9 114.8L273.2 114.8L273.5 114.7L273.8 114.7L274.1 114.7L274.4 114.7L274.7 114.6L275.0 114.6L275.3 114.6L275.6 114.6L275.9 114.6L276.2 114.6L276.5 114.6L276.8 114.5L277.1 114.5L277.4 114.5L277.7 114.5L278.0 114.5L278.3 114.5L278.6 114.5L278.9 114.5L279.2 114.4L279.5 114.4L279.8 114.4L280.0 114.4L280.1 114.4L280.4 114.4L280.7 114.4L281.0 114.3L281.3 114.3L281.6 114.3L281.9 114.3L282.2 114.3L282.5 114.3L282.8 114.3L283.1 114.2L283.4 114.2L283.7 114.2L284.0 114.2L284.3 114.2L284.6 114.2L284.9 114.2L285.2 114.2L285.5 114.1L285.8 114.1L286.1 114.1L286.4 114.1L286.7 114.1L287.0 114.1L287.3 114.1L287.6 114.1L287.9 114.1L288.2 114.1L288.5 114.0L288.8 114.0L289.1 114.0L289.4 114.0L289.7 114.0L290.0 114.0L290.3 114.0L290.6 114.0L290.9 114.0L291.2 114.0L291.5 113.9L291.8 113.9L292.1 113.9L292.4 113.9L292.7 113.9L293.0 113.9L293.3 113.9L293.6 113.9L293.9 113.9L294.2 113.9L294.5 113.8L294.8 113.8L295.1 113.8L295.4 113.8L295.7 113.8L296.0 113.8L296.3 113.8L296.6 113.8L296.9 113.7L297.2 113.7L297.5 113.7L297.8 113.7L298.1 113.7L298.4 113.7L298.7 113.7L299.0 113.7L299.3 113.6L299.6 113.6L299.9 113.6L300.0 113.6L300.2 113.6L300.5 113.6L300.8 113.6L301.1 113.5L301.4 113.5L301.7 113.5L302.0 113.5L302.3 113.5L302.6 113.5L302.9 113.4L303.2 113.4L303.5 113.4L303.8 113.4L304.1 113.4L304.4 113.3L304.7 113.3L305.0 113.3L305.3 113.3L305.6 113.3L305.9 113.3L306.2 113.2L306.5 113.2L306.8 113.2L307.1 113.2L307.4 113.1L307.7 113.1L308.0 113.1L308.3 113.1L308.6 113.1L308.9 113.0L309.2 113.0L309.5 113.0L309.8 113.0L310.1 112.9L310.4 112.9L310.7 112.9L311.0 112.9L311.3 112.8L311.6 112.8L311.9 112.8L312.2 112.8L312.5 112.7L312.8 112.7L313.1 112.7L313.4 112.7L313.7 112.6L314.0 112.6L314.3 112.6L314.6 112.5L314.9 112.5L315.2 112.5L315.5 112.5L315.8 112.4L316.0 112.4L316.1 112.4L316.4 112.4L316.7 112.3L317.0 112.3L317.3 112.2L317.6 112.2L317.9 112.2L318.2 112.1L318.5 112.1L318.8 112.1L319.1 112.0L319.4 112.1L319.7 111.8L320.0 111.9L320.3 111.7L320.6 112.0L320.9 112.0L321.2 111.2L321.5 111.3L321.8 111.6L322.1 111.6L322.4 111.5L322.7 111.3L323.0 111.4L323.3 111.3L323.6 111.1L323.9 111.3L324.2 110.5L324.5 111.1L324.8 110.7L325.1 111.1L325.4 110.7L325.7 110.5L326.0 110.8L326.3 110.4L326.6 110.4L326.9 110.2L327.2 110.4L327.5 110.5L327.8 110.6L328.1 110.3L328.4 110.5L328.7 110.2L329.0 110.1L329.3 110.2L329.6 110.3L329.9 109.9L330.0 109.9L330.2 109.9L330.5 109.9L330.8 109.7L331.1 110.1L331.4 109.7L331.7 109.9L332.0 109.5L332.3 109.7L332.6 109.7L332.9 109.5L333.2 110.0L333.5 109.6L333.8 109.8L334.1 109.6L334.4 109.2L334.7 109.2L335.0 109.3L335.3 109.2L335.6 109.2L335.9 109.1L336.2 108.7L336.5 109.0L336.8 108.5L337.1 109.0L337.4 108.7L337.7 108.7L338.0 108.8L338.3 108.9L338.6 108.4L338.9 108.3L339.2 108.5L339.5 108.2L339.8 108.4L340.1 108.9L340.4 108.3L340.7 108.7L341.0 108.2L341.3 108.6L341.6 108.4L341.9 108.4L342.2 108.6L342.5 108.8L342.8 108.5L343.1 108.4L343.4 108.2L343.7 108.5L344.0 108.3L344.0 108.6L344.3 108.4L344.6 108.8L344.9 108.0L345.2 108.3L345.5 108.6L345.8 108.3L346.1 108.2L346.4 108.3L346.7 108.1L347.0 108.4L347.3 108.9L347.6 108.7L347.9 108.2L348.2 108.2L348.5 108.3L348.8 108.6L349.1 108.2L349.4 108.2L349.7 108.6L350.0 108.6L350.3 108.3L350.6 108.2L350.9 108.1L351.2 108.2L351.5 107.9L351.8 108.6L352.1 108.3L352.4 108.5L352.7 108.8L353.0 108.7L353.3 108.1L353.6 108.6L353.9 108.7L354.2 108.2L354.5 108.2L354.8 108.4L355.1 108.0L355.4 108.7L355.7 107.9L356.0 108.2L356.0 108.3L356.3 108.4L356.6 108.5L356.9 108.6L357.2 108.5L357.5 108.9L357.8 108.4L358.1 108.9L358.4 108.9L358.7 109.2L359.0 109.4L359.3 109.5L359.6 109.7L359.9 109.9L360.0 110.0L360.2 110.2L360.5 110.6L360.8 111.1L361.1 111.8L361.4 112.5L361.7 113.3L362.0 114.0L362.0 114.0L362.3 114.8L362.6 115.7L362.9 116.6L363.2 117.7L363.5 118.7L363.8 119.8L364.1 120.9L364.4 122.0L364.7 123.0L365.0 124.0L365.0 124.0L365.3 125.0L365.6 125.9L365.9 126.9L366.2 127.9L366.5 128.9L366.8 129.8L367.1 130.7L367.4 131.5L367.7 132.3L368.0 133.0L368.0 133.0L368.3 133.7L368.6 134.3L368.9 135.0L369.2 135.7L369.5 136.3L369.8 136.9L370.1 137.3L370.4 137.7L370.7 137.9L371.0 138.0L371.0 138.0L371.3 137.7L371.6 137.0L371.9 135.9L372.2 134.5L372.5 132.9L372.8 131.2L373.1 129.6L373.4 128.2L373.7 126.9L374.0 126.0L374.0 126.0L374.3 125.3L374.6 124.7L374.9 124.1L375.2 123.5L375.5 123.0L375.8 122.5L376.1 122.1L376.4 121.8L376.7 121.5L377.0 120.8L377.0 121.1L377.3 121.4L377.6 120.7L377.9 120.3L378.2 120.0L378.5 119.6L378.8 119.6L379.1 119.2L379.4 119.8L379.7 119.0L380.0 118.8L380.0 118.3L380.3 118.8L380.6 118.1L380.9 118.2L381.2 118.7L381.5 118.1L381.8 117.9L382.1 117.6L382.4 117.2L382.7 116.9L383.0 116.6L383.3 117.1L383.6 115.9L383.9 117.2L384.0 116.4L384.2 115.9L384.5 116.0L384.8 115.8L385.1 116.2L385.4 115.7L385.7 116.7L386.0 115.6L386.3 114.7L386.6 115.5L386.9 114.7L387.2 115.8L387.5 116.3L387.8 116.1L388.1 115.0L388.4 115.2L388.7 116.6L389.0 115.8L389.3 115.6L389.6 116.2L389.9 116.9L390.0 116.3L390.2 115.7L390.5 115.8L390.8 116.0L391.1 115.3L391.4 115.1L391.7 115.8L392.0 115.3L392.3 115.9L392.6 116.0L392.9 117.4L393.2 115.7L393.5 116.2L393.8 116.3L394.1 116.7L394.4 117.1L394.7 116.4L395.0 116.3L395.3 116.0L395.6 116.5L395.9 117.4L396.2 117.3L396.5 116.8L396.8 117.3L397.0 117.6L397.1 117.9L397.4 117.5L397.7 117.8L398.0 117.2L398.3 117.8L398.6 119.6L398.9 117.7L399.2 119.0L399.5 119.5L399.8 119.4L400.1 119.5L400.4 119.9L400.7 120.0L401.0 120.0L401.0 119.7L401.3 120.0L401.6 119.8L401.9 119.7L402.2 119.5L402.5 119.3L402.8 119.0L403.1 118.6L403.4 118.3L403.7 118.0L404.0 117.7L404.3 117.3L404.6 116.7L404.9 116.2L405.2 116.1L405.5 115.1L405.8 115.3L406.0 114.8L406.1 114.8L406.4 114.1L406.7 114.0L407.0 113.9L407.3 113.9L407.6 113.6L407.9 112.9L408.2 112.5L408.5 112.0L408.8 112.0L409.1 111.5L409.4 111.5L409.7 111.5L410.0 110.6L410.3 109.9L410.6 109.8L410.9 109.4L411.2 109.2L411.5 109.7L411.8 109.2L412.0 108.5L412.1 109.1L412.4 109.1L412.7 108.5L413.0 108.2L413.3 108.2L413.6 108.2L413.9 108.1L414.2 108.2L414.5 108.0L414.8 107.9L415.1 107.8L415.4 107.5L415.7 106.7L416.0 107.0L416.3 107.0L416.6 106.7L416.9 107.0L417.2 106.5L417.5 106.3L417.8 106.9L418.0 106.6L418.1 106.4L418.4 106.6L418.7 106.5L419.0 106.2L419.3 105.3L419.6 105.8L419.9 105.8L420.2 105.6L420.5 105.8L420.8 106.1L421.1 105.5L421.4 105.2L421.7 106.1L422.0 105.3L422.3 105.0L422.6 105.4L422.9 105.4L423.2 105.0L423.5 105.4L423.8 105.0L424.1 104.8L424.4 105.1L424.7 105.3L425.0 104.8L425.3 105.1L425.6 105.0L425.9 105.8L426.0 104.8L426.2 105.4L426.5 105.0L426.8 105.0L427.1 105.3L427.4 105.4L427.7 105.5L428.0 105.3L428.3 105.1L428.6 105.2L428.9 105.6L429.2 105.7L429.5 106.0L429.8 105.8L430.1 106.1L430.4 106.3L430.7 106.0L431.0 105.6L431.3 105.8L431.6 105.8L431.9 106.8L432.0 106.1L432.2 106.8L432.5 106.8L432.8 107.2L433.1 107.1L433.4 107.0L433.7 107.1L434.0 107.3L434.3 107.5L434.6 107.5L434.9 107.8L435.2 108.5L435.5 107.7L435.8 108.5L436.1 108.3L436.4 108.9L436.7 109.3L437.0 109.2L437.3 109.6L437.6 109.1L437.9 110.1L438.2 109.8L438.5 110.4L438.8 110.4L439.1 109.7L439.4 110.5L439.7 110.9L440.0 111.5L440.0 111.1L440.3 111.2L440.6 110.9L440.9 111.9L441.2 112.2L441.5 111.8L441.8 111.9L442.1 111.7L442.4 112.6L442.7 113.3L443.0 112.9L443.3 113.2L443.6 113.1L443.9 112.8L444.2 113.7L444.5 113.0L444.8 113.5L445.1 113.7L445.4 114.0L445.7 113.9L446.0 114.0L446.3 113.7L446.6 113.6L446.9 114.0L447.0 113.8L447.2 113.6L447.5 113.6L447.8 113.8L448.1 113.3L448.4 113.4L448.7 113.3L449.0 113.7L449.3 113.7L449.6 114.1L449.9 112.9L450.2 113.1L450.5 113.4L450.8 113.0L451.1 112.8L451.4 113.3L451.7 112.6L452.0 112.2L452.3 112.1L452.6 112.5L452.9 112.4L453.2 111.8L453.5 111.8L453.8 112.2L454.0 112.2L454.1 111.8L454.4 112.1L454.7 112.1L455.0 111.3L455.3 111.7L455.6 111.9L455.9 111.6L456.2 111.0L456.5 111.6L456.8 111.8L457.1 112.1L457.4 110.9L457.7 112.3L458.0 111.2L458.3 111.8L458.6 111.8L458.9 111.7L459.2 111.4L459.5 111.0L459.8 111.5L460.1 111.1L460.4 110.5L460.7 112.0L461.0 111.4L461.3 111.7L461.6 110.8L461.9 111.5L462.0 111.5L462.2 111.4L462.5 110.9L462.8 110.4L463.1 110.7L463.4 110.0L463.7 110.0L464.0 110.4L464.3 110.0L464.6 110.2L464.9 110.1L465.2 110.7L465.5 110.4L465.8 110.0L466.0 110.4L466.1 109.8L466.4 109.9L466.7 110.4L467.0 109.9L467.3 110.4L467.6 110.3L467.9 110.9L468.2 111.6L468.5 111.2L468.8 111.8L469.1 111.8L469.4 112.0L469.7 112.3L470.0 113.4L470.0 113.7L470.3 113.5L470.6 113.5L470.9 114.4L471.2 114.6L471.5 115.5L471.8 115.9L472.1 116.4L472.4 117.1L472.7 117.4L473.0 118.0L473.3 118.2L473.6 119.1L473.9 119.4L474.0 120.0L474.2 120.1L474.5 120.9L474.8 121.5L475.1 121.5L475.4 122.2L475.7 122.6L476.0 123.7L476.3 124.5L476.6 124.7L476.9 124.9L477.2 126.0L477.5 125.6L477.8 127.1L478.0 126.8L478.1 126.4L478.4 128.6L478.7 128.8L479.0 128.7L479.3 129.7L479.6 130.2L479.9 130.9L480.2 131.1L480.5 132.0L480.8 133.0L481.1 133.5L481.4 134.4L481.7 134.7L482.0 135.9L482.3 135.6L482.6 136.4L482.9 136.3L483.0 136.6L483.2 137.7L483.5 137.5L483.8 138.4L484.1 138.7L484.4 138.8L484.7 139.5L485.0 139.9L485.3 140.3L485.6 141.1L485.9 141.5L486.2 141.5L486.5 141.8L486.8 142.5L487.1 142.6L487.4 143.8L487.7 144.3L488.0 144.6L488.3 144.5L488.6 145.2L488.9 144.7L489.2 145.5L489.5 147.0L489.8 145.1L490.0 146.6L490.1 147.0L490.4 146.6L490.7 147.1L491.0 147.7L491.3 146.9L491.6 147.8L491.9 147.4L492.2 147.8L492.5 148.1L492.8 148.6L493.1 149.0L493.4 149.4L493.7 148.6L494.0 150.7L494.3 150.4L494.6 150.2L494.9 149.7L495.2 149.9L495.5 150.3L495.5 150.2L495.8 149.0L496.1 150.4L496.4 151.6L496.7 148.8L497.0 150.3L497.3 149.9L497.6 149.5L497.9 150.2L498.2 148.6L498.5 149.3L498.8 149.9L499.1 148.8L499.4 148.5L499.7 148.6L500.0 148.2L500.3 149.1L500.6 147.6L500.9 148.5L501.2 147.1L501.5 148.1L501.8 147.6L502.1 146.0L502.4 147.4L502.7 146.7L503.0 147.0L503.3 148.1L503.6 146.6L503.8 146.6L503.9 148.0L504.2 147.3L504.5 148.2L504.8 147.6L505.1 147.0L505.4 147.6L505.7 148.5L506.0 148.6L506.3 148.2L506.6 148.5L506.9 148.6L507.2 148.6L507.5 150.3L507.8 149.4L508.1 149.0L508.4 149.6L508.7 150.6L509.0 150.7L509.3 150.5L509.6 150.4L509.9 151.0L510.2 150.2L510.5 150.6L510.7 151.9L510.8 151.2L511.1 151.8L511.4 152.3L511.7 152.1L512.0 151.9L512.3 153.1L512.6 152.4L512.9 151.9L513.2 152.6L513.5 152.5L513.8 151.9L514.1 152.5L514.4 152.4L514.7 151.5L515.0 152.6L515.3 152.6L515.6 152.6L515.9 152.0L516.2 152.8L516.5 153.0L516.8 153.2L517.1 152.6L517.4 153.7L517.6 152.7L517.7 153.3L518.0 154.3L518.3 153.3L518.6 153.5L518.9 154.6L519.2 153.9L519.5 154.1L519.8 154.5L520.1 155.2L520.4 153.5L520.7 154.4L521.0 154.5L521.3 154.6L521.6 154.9L521.9 155.1L522.2 155.9L522.5 155.4L522.8 156.1L523.1 156.4L523.4 155.9L523.7 156.5L524.0 157.5L524.3 156.8L524.6 156.4L524.9 156.8L525.2 156.3L525.5 157.0L525.8 157.4L525.9 156.4L526.1 156.8L526.4 157.5L526.7 156.5L527.0 156.8L527.3 156.1L527.6 156.1L527.9 156.1L528.2 157.4L528.5 155.9L528.8 155.6L529.1 155.4L529.4 155.4L529.7 155.7L530.0 155.2L530.3 156.0L530.6 154.8L530.9 155.3L531.2 154.4L531.4 154.4L531.5 153.2L531.8 153.6L532.1 153.3L532.4 152.7L532.7 151.5L533.0 152.5L533.3 151.9L533.4 151.9L533.6 153.4L533.9 158.9L534.2 164.5L534.4 165.8L534.5 165.7L534.8 163.6L535.1 158.9L535.4 151.6L535.5 148.6L536.8 141.0L538.2 153.0L539.4 134.0L540.6 160.0L541.6 140.0L542.6 178.0"/>
<path d="M41.0 180.6L41.3 180.6L41.6 180.5L41.9 180.5L42.2 180.5L42.5 180.5L42.8 180.4L43.1 180.5L43.4 180.5L43.7 180.3L44.0 180.4L44.3 180.1L44.6 180.1L44.9 180.1L45.2 180.2L45.5 180.1L45.8 180.1L46.1 180.1L46.4 179.8L46.7 180.1L47.0 179.9L47.3 179.9L47.6 179.9L47.9 179.8L48.2 179.8L48.5 179.8L48.8 179.9L49.1 179.9L49.4 179.9L49.7 179.7L50.0 179.7L50.3 179.6L50.6 179.8L50.9 179.4L51.2 179.8L51.5 179.6L51.8 179.5L52.1 179.6L52.4 179.7L52.7 179.5L53.0 179.6L53.3 179.5L53.6 179.6L53.9 179.5L54.2 179.3L54.5 179.5L54.8 179.3L55.1 179.3L55.4 179.1L55.7 179.2L56.0 179.3L56.3 179.0L56.6 179.2L56.9 179.1L57.2 179.1L57.5 178.8L57.8 179.0L58.1 179.1L58.4 178.9L58.7 178.9L59.0 178.6L59.3 178.9L59.6 178.8L59.9 178.9L60.0 178.6L60.2 178.9L60.5 178.7L60.8 178.8L61.1 178.6L61.4 178.6L61.7 178.9L62.0 178.5L62.3 178.5L62.6 178.5L62.9 178.4L63.2 178.6L63.5 178.6L63.8 178.3L64.1 178.1L64.4 178.4L64.7 178.4L65.0 178.3L65.3 178.3L65.6 178.0L65.9 178.1L66.2 177.9L66.5 177.8L66.8 178.1L67.1 177.9L67.4 178.2L67.7 177.9L68.0 177.7L68.3 177.9L68.6 178.0L68.9 177.8L69.2 177.5L69.5 177.7L69.8 177.8L70.1 177.5L70.4 177.5L70.7 177.7L71.0 177.5L71.3 177.4L71.6 177.5L71.9 177.4L72.2 177.5L72.5 177.4L72.8 177.5L73.1 177.4L73.4 177.4L73.7 177.4L74.0 177.4L74.3 177.4L74.3 177.4L74.6 177.6L74.9 178.0L75.2 178.5L75.5 179.0L75.8 179.3L76.0 179.4L76.1 179.4L76.4 179.2L76.7 178.9L77.0 178.5L77.3 178.1L77.6 177.6L77.9 177.3L78.2 177.0L78.4 177.0L78.5 177.0L78.8 177.1L79.1 177.2L79.4 177.3L79.7 177.5L80.0 177.7L80.3 177.9L80.5 178.0L80.6 178.1L80.9 178.3L81.2 178.6L81.5 178.9L81.8 179.3L82.1 179.6L82.4 180.0L82.4 180.0L82.7 180.3L83.0 180.7L83.3 181.0L83.6 181.3L83.9 181.7L84.2 182.0L84.5 182.4L84.8 182.7L85.1 183.1L85.4 183.5L85.7 183.9L86.0 184.3L86.3 184.7L86.6 185.2L86.9 185.7L87.0 185.9L87.2 186.3L87.5 186.9L87.8 187.6L88.1 188.3L88.4 189.1L88.7 190.0L89.0 190.8L89.3 191.7L89.6 192.6L89.9 193.5L90.2 194.4L90.4 195.0L90.5 195.3L90.8 196.2L91.1 197.1L91.4 198.0L91.7 199.0L92.0 199.9L92.3 200.9L92.6 201.9L92.9 202.9L93.2 203.9L93.5 205.0L93.8 206.0L93.9 206.4L94.1 207.1L94.4 208.3L94.7 209.6L95.0 210.9L95.3 212.1L95.6 213.3L95.9 214.4L96.2 215.3L96.2 215.3L96.5 216.1L96.8 216.8L97.1 217.5L97.4 218.2L97.7 218.8L98.0 219.4L98.3 220.0L98.6 220.6L98.9 221.1L99.2 221.6L99.5 222.1L99.8 222.6L100.1 223.2L100.3 223.5L100.4 223.7L100.7 224.2L101.0 224.7L101.3 225.2L101.6 225.7L101.9 226.2L102.2 226.7L102.5 227.2L102.8 227.7L103.1 228.2L103.4 228.7L103.7 229.1L104.0 229.5L104.3 230.0L104.6 230.4L104.9 230.8L105.2 231.1L105.5 231.5L105.8 231.8L105.8 231.8L106.1 232.1L106.4 232.4L106.7 232.7L107.0 233.0L107.3 233.3L107.6 233.6L107.9 233.8L108.2 234.1L108.5 234.3L108.8 234.5L109.1 234.7L109.4 234.9L109.7 235.1L110.0 235.3L110.0 235.3L110.3 235.5L110.6 235.6L110.9 235.8L111.2 236.0L111.5 236.1L111.8 236.3L112.1 236.4L112.4 236.6L112.7 236.7L113.0 236.9L113.3 237.0L113.6 237.2L113.9 237.3L114.2 237.4L114.5 237.5L114.8 237.6L115.1 237.7L115.4 237.8L115.7 237.9L116.0 237.9L116.3 238.0L116.6 238.0L116.9 238.0L117.0 238.0L117.2 238.0L117.5 238.0L117.8 238.0L118.1 237.9L118.4 237.9L118.7 237.8L119.0 237.8L119.3 237.7L119.6 237.7L119.9 237.6L120.2 237.5L120.5 237.4L120.8 237.3L121.1 237.2L121.4 237.1L121.7 237.0L122.0 236.9L122.3 236.7L122.6 236.6L122.9 236.5L123.2 236.4L123.5 236.2L123.8 236.1L124.0 236.0L124.1 236.0L124.4 235.8L124.7 235.6L125.0 235.4L125.3 235.2L125.6 234.9L125.9 234.6L126.2 234.3L126.5 234.0L126.8 233.7L127.1 233.4L127.4 233.1L127.7 232.7L128.0 232.4L128.3 232.0L128.6 231.6L128.9 231.3L129.2 230.9L129.5 230.6L129.8 230.2L130.0 230.0L130.1 229.9L130.4 229.5L130.7 229.2L131.0 228.9L131.3 228.5L131.6 228.2L131.9 227.8L132.2 227.4L132.5 227.0L132.8 226.7L133.1 226.3L133.4 225.9L133.7 225.4L134.0 225.0L134.0 225.0L134.3 224.5L134.6 224.0L134.9 223.5L135.2 223.0L135.5 222.4L135.8 221.8L136.1 221.3L136.4 220.7L136.7 220.1L137.0 219.6L137.3 219.1L137.6 218.6L137.9 218.1L138.0 218.0L138.2 217.7L138.5 217.3L138.8 216.9L139.1 216.5L139.4 216.2L139.7 215.8L140.0 215.4L140.3 215.1L140.6 214.7L140.9 214.4L141.2 214.1L141.5 213.7L141.8 213.4L142.1 213.1L142.4 212.8L142.7 212.5L143.0 212.2L143.3 211.9L143.6 211.6L143.9 211.3L144.2 211.0L144.5 210.7L144.8 210.4L145.1 210.1L145.4 209.8L145.7 209.5L146.0 209.2L146.3 208.9L146.6 208.6L146.9 208.3L147.2 208.0L147.5 207.7L147.8 207.4L148.1 207.1L148.4 206.8L148.7 206.5L149.0 206.1L149.3 205.8L149.6 205.5L149.9 205.1L150.0 205.0L150.2 204.8L150.5 204.4L150.8 204.0L151.1 203.7L151.4 203.3L151.7 202.9L152.0 202.5L152.3 202.1L152.6 201.7L152.9 201.3L153.2 200.9L153.5 200.5L153.8 200.1L154.1 199.7L154.4 199.3L154.7 198.9L155.0 198.5L155.3 198.0L155.6 197.6L155.9 197.2L156.2 196.7L156.5 196.3L156.8 195.9L157.1 195.4L157.4 195.0L157.7 194.6L158.0 194.1L158.3 193.7L158.6 193.3L158.9 192.8L159.2 192.4L159.5 192.0L159.8 191.5L160.1 191.1L160.4 190.7L160.7 190.2L161.0 189.8L161.3 189.4L161.6 189.0L161.9 188.5L162.2 188.1L162.5 187.7L162.8 187.3L163.1 186.9L163.4 186.5L163.7 186.1L164.0 185.7L164.3 185.3L164.6 184.9L164.9 184.5L165.2 184.1L165.5 183.8L165.8 183.4L166.1 183.1L166.4 182.7L166.7 182.4L167.0 182.0L167.3 181.7L167.6 181.3L167.9 181.0L168.2 180.7L168.5 180.4L168.8 180.1L169.1 179.8L169.4 179.5L169.7 179.3L170.0 179.0L170.0 179.0L170.3 178.7L170.6 178.5L170.9 178.2L171.2 178.0L171.5 177.7L171.8 177.5L172.1 177.2L172.4 177.0L172.7 176.7L173.0 176.5L173.3 176.3L173.6 176.0L173.9 175.8L174.2 175.6L174.5 175.3L174.8 175.1L175.1 174.9L175.4 174.7L175.7 174.4L176.0 174.2L176.3 174.0L176.6 173.8L176.9 173.6L177.2 173.4L177.5 173.1L177.8 172.9L178.1 172.7L178.4 172.5L178.7 172.3L179.0 172.1L179.3 171.9L179.6 171.7L179.9 171.5L180.2 171.3L180.5 171.2L180.8 171.0L181.1 170.8L181.4 170.6L181.7 170.4L182.0 170.2L182.3 170.0L182.6 169.9L182.9 169.7L183.2 169.5L183.5 169.3L183.8 169.2L184.1 169.0L184.4 168.8L184.7 168.7L185.0 168.5L185.3 168.3L185.6 168.2L185.9 168.0L186.2 167.9L186.5 167.7L186.8 167.5L187.1 167.4L187.4 167.2L187.7 167.1L188.0 166.9L188.3 166.8L188.6 166.7L188.9 166.5L189.2 166.4L189.5 166.2L189.8 166.1L190.0 166.0L190.1 166.0L190.4 165.8L190.7 165.7L191.0 165.6L191.3 165.4L191.6 165.3L191.9 165.2L192.2 165.0L192.5 164.9L192.8 164.8L193.1 164.7L193.4 164.5L193.7 164.4L194.0 164.3L194.3 164.2L194.6 164.1L194.9 163.9L195.2 163.8L195.5 163.7L195.8 163.6L196.1 163.5L196.4 163.4L196.7 163.3L197.0 163.1L197.3 163.0L197.6 162.9L197.9 162.8L198.2 162.7L198.5 162.6L198.8 162.5L199.1 162.4L199.4 162.3L199.7 162.2L200.0 162.1L200.3 162.0L200.6 161.9L200.9 161.8L201.2 161.7L201.5 161.6L201.8 161.5L202.1 161.4L202.4 161.3L202.7 161.2L203.0 161.1L203.3 161.0L203.6 160.9L203.9 160.8L204.2 160.7L204.5 160.6L204.8 160.5L205.1 160.5L205.4 160.4L205.7 160.3L206.0 160.2L206.3 160.1L206.6 160.0L206.9 159.9L207.2 159.8L207.5 159.7L207.8 159.6L208.1 159.6L208.4 159.5L208.7 159.4L209.0 159.3L209.3 159.2L209.6 159.1L209.9 159.0L210.0 159.0L210.2 158.9L210.5 158.9L210.8 158.8L211.1 158.7L211.4 158.6L211.7 158.5L212.0 158.4L212.3 158.3L212.6 158.3L212.9 158.2L213.2 158.1L213.5 158.0L213.8 157.9L214.1 157.8L214.4 157.8L214.7 157.7L215.0 157.6L215.3 157.5L215.6 157.4L215.9 157.4L216.2 157.3L216.5 157.2L216.8 157.1L217.1 157.0L217.4 157.0L217.7 156.9L218.0 156.8L218.3 156.7L218.6 156.6L218.9 156.6L219.2 156.5L219.5 156.4L219.8 156.3L220.1 156.3L220.4 156.2L220.7 156.1L221.0 156.0L221.3 156.0L221.6 155.9L221.9 155.8L222.2 155.8L222.5 155.7L222.8 155.6L223.1 155.5L223.4 155.5L223.7 155.4L224.0 155.3L224.3 155.3L224.6 155.2L224.9 155.1L225.2 155.1L225.5 155.0L225.8 154.9L226.1 154.8L226.4 154.8L226.7 154.7L227.0 154.6L227.3 154.6L227.6 154.5L227.9 154.4L228.2 154.4L228.5 154.3L228.8 154.3L229.1 154.2L229.4 154.1L229.7 154.1L230.0 154.0L230.0 154.0L230.3 153.9L230.6 153.9L230.9 153.8L231.2 153.7L231.5 153.7L231.8 153.6L232.1 153.6L232.4 153.5L232.7 153.4L233.0 153.4L233.3 153.3L233.6 153.2L233.9 153.2L234.2 153.1L234.5 153.1L234.8 153.0L235.1 152.9L235.4 152.9L235.7 152.8L236.0 152.7L236.3 152.7L236.6 152.6L236.9 152.6L237.2 152.5L237.5 152.4L237.8 152.4L238.1 152.3L238.4 152.3L238.7 152.2L239.0 152.1L239.3 152.1L239.6 152.0L239.9 152.0L240.2 151.9L240.5 151.8L240.8 151.8L241.1 151.7L241.4 151.7L241.7 151.6L242.0 151.6L242.3 151.5L242.6 151.5L242.9 151.4L243.2 151.4L243.5 151.3L243.8 151.3L244.1 151.2L244.4 151.2L244.7 151.1L245.0 151.1L245.3 151.0L245.6 151.0L245.9 150.9L246.2 150.9L246.5 150.8L246.8 150.8L247.1 150.8L247.4 150.7L247.7 150.7L248.0 150.6L248.3 150.6L248.6 150.6L248.9 150.5L249.2 150.5L249.5 150.5L249.8 150.4L250.0 150.4L250.1 150.4L250.4 150.4L250.7 150.3L251.0 150.3L251.3 150.3L251.6 150.2L251.9 150.2L252.2 150.2L252.5 150.2L252.8 150.1L253.1 150.1L253.4 150.1L253.7 150.1L254.0 150.0L254.3 150.0L254.6 150.0L254.9 150.0L255.2 149.9L255.5 149.9L255.8 149.9L256.1 149.9L256.4 149.9L256.7 149.8L257.0 149.8L257.3 149.8L257.6 149.8L257.9 149.7L258.2 149.7L258.5 149.7L258.8 149.7L259.1 149.7L259.4 149.6L259.7 149.6L260.0 149.6L260.0 149.6L260.3 149.6L260.6 149.6L260.9 149.5L261.2 149.5L261.5 149.5L261.8 149.5L262.1 149.4L262.4 149.4L262.7 149.4L263.0 149.4L263.3 149.4L263.6 149.3L263.9 149.3L264.2 149.3L264.5 149.3L264.8 149.2L265.1 149.2L265.4 149.2L265.7 149.2L266.0 149.1L266.3 149.1L266.6 149.1L266.9 149.1L267.2 149.0L267.5 149.0L267.8 149.0L268.1 149.0L268.4 148.9L268.7 148.9L269.0 148.9L269.3 148.9L269.6 148.9L269.9 148.8L270.2 148.8L270.5 148.8L270.8 148.8L271.1 148.7L271.4 148.7L271.7 148.7L272.0 148.7L272.3 148.7L272.6 148.7L272.9 148.6L273.2 148.6L273.5 148.6L273.8 148.6L274.1 148.6L274.4 148.6L274.7 148.5L275.0 148.5L275.3 148.5L275.6 148.5L275.9 148.5L276.2 148.5L276.5 148.5L276.8 148.5L277.1 148.4L277.4 148.4L277.7 148.4L278.0 148.4L278.3 148.4L278.6 148.4L278.9 148.4L279.2 148.4L279.5 148.4L279.8 148.4L280.0 148.4L280.1 148.4L280.4 148.4L280.7 148.4L281.0 148.4L281.3 148.4L281.6 148.4L281.9 148.4L282.2 148.4L282.5 148.4L282.8 148.4L283.1 148.4L283.4 148.4L283.7 148.4L284.0 148.4L284.3 148.4L284.6 148.4L284.9 148.4L285.2 148.4L285.5 148.4L285.8 148.4L286.1 148.4L286.4 148.4L286.7 148.4L287.0 148.4L287.3 148.4L287.6 148.4L287.9 148.4L288.2 148.4L288.5 148.4L288.8 148.4L289.1 148.4L289.4 148.4L289.7 148.4L290.0 148.4L290.3 148.4L290.6 148.4L290.9 148.4L291.2 148.4L291.5 148.4L291.8 148.4L292.1 148.4L292.4 148.4L292.7 148.4L293.0 148.4L293.3 148.4L293.6 148.4L293.9 148.4L294.2 148.4L294.5 148.4L294.8 148.4L295.1 148.4L295.4 148.4L295.7 148.4L296.0 148.4L296.3 148.4L296.6 148.4L296.9 148.4L297.2 148.4L297.5 148.4L297.8 148.4L298.1 148.4L298.4 148.4L298.7 148.4L299.0 148.4L299.3 148.4L299.6 148.4L299.9 148.4L300.0 148.4L300.2 148.4L300.5 148.4L300.8 148.4L301.1 148.4L301.4 148.4L301.7 148.4L302.0 148.4L302.3 148.4L302.6 148.4L302.9 148.4L303.2 148.3L303.5 148.3L303.8 148.3L304.1 148.3L304.4 148.3L304.7 148.3L305.0 148.3L305.3 148.3L305.6 148.2L305.9 148.2L306.2 148.2L306.5 148.2L306.8 148.2L307.1 148.2L307.4 148.1L307.7 148.1L308.0 148.1L308.3 148.1L308.6 148.1L308.9 148.0L309.2 148.0L309.5 148.0L309.8 148.0L310.1 147.9L310.4 147.9L310.7 147.9L311.0 147.9L311.3 147.8L311.6 147.8L311.9 147.8L312.2 147.8L312.5 147.7L312.8 147.7L313.1 147.7L313.4 147.7L313.7 147.6L314.0 147.6L314.0 147.6L314.3 147.6L314.6 147.5L314.9 147.5L315.2 147.4L315.5 147.4L315.8 147.3L316.1 147.3L316.4 147.2L316.7 147.2L317.0 147.1L317.3 147.0L317.6 146.9L317.9 146.9L318.2 146.8L318.5 146.7L318.8 146.6L319.1 146.5L319.4 146.4L319.7 146.3L320.0 146.3L320.3 146.2L320.6 146.1L320.9 146.0L321.2 145.9L321.5 145.8L321.8 145.7L322.1 145.6L322.4 145.5L322.7 145.4L323.0 145.3L323.3 145.2L323.6 145.1L323.9 145.0L324.2 144.9L324.5 144.8L324.8 144.8L325.1 144.7L325.4 144.6L325.7 144.5L326.0 144.4L326.3 144.4L326.6 144.3L326.9 144.2L327.2 144.2L327.5 144.1L327.8 144.0L328.0 144.0L328.1 144.0L328.4 143.9L328.7 143.9L329.0 143.8L329.3 143.8L329.6 143.7L329.9 143.7L330.2 143.6L330.5 143.6L330.8 143.5L331.1 143.5L331.4 143.5L331.7 143.4L332.0 143.4L332.3 143.3L332.6 143.3L332.9 143.2L333.2 143.2L333.5 143.2L333.8 143.1L334.1 143.1L334.4 143.0L334.7 143.0L335.0 143.0L335.3 142.9L335.6 142.9L335.9 142.8L336.2 142.8L336.5 142.8L336.8 142.7L337.1 142.7L337.4 142.7L337.7 142.6L338.0 142.6L338.3 142.6L338.6 142.5L338.9 142.5L339.2 142.5L339.5 142.5L339.8 142.4L340.0 142.4L340.1 142.4L340.4 142.4L340.7 142.3L341.0 142.3L341.3 142.3L341.6 142.2L341.9 142.2L342.2 142.2L342.5 142.1L342.8 142.1L343.1 142.1L343.4 142.0L343.7 142.0L344.0 142.0L344.3 141.9L344.6 141.9L344.9 141.9L345.2 141.9L345.5 141.8L345.8 141.8L346.1 141.8L346.4 141.8L346.7 141.7L347.0 141.7L347.3 141.7L347.6 141.7L347.9 141.7L348.2 141.6L348.5 141.6L348.8 141.6L349.1 141.6L349.4 141.6L349.7 141.6L350.0 141.6L350.0 141.6L350.3 141.6L350.6 141.6L350.9 141.6L351.2 141.6L351.5 141.7L351.8 141.7L352.1 141.7L352.4 141.7L352.7 141.8L353.0 141.8L353.3 141.9L353.6 141.9L353.9 142.0L354.2 142.0L354.5 142.1L354.8 142.1L355.1 142.2L355.4 142.3L355.7 142.3L356.0 142.4L356.0 142.4L356.3 142.5L356.6 142.6L356.9 142.8L357.2 143.0L357.5 143.2L357.8 143.4L358.1 143.7L358.4 144.0L358.7 144.4L359.0 144.7L359.3 145.1L359.6 145.5L359.9 145.9L360.0 146.0L360.2 146.3L360.5 146.8L360.8 147.4L361.1 148.1L361.4 148.9L361.7 149.8L362.0 150.7L362.3 151.6L362.6 152.6L362.9 153.6L363.0 154.0L363.2 154.8L363.5 156.1L363.8 157.6L364.1 159.3L364.4 161.0L364.7 162.8L365.0 164.6L365.3 166.4L365.6 168.0L365.9 169.5L366.0 170.0L366.2 170.9L366.5 172.3L366.8 173.7L367.1 175.0L367.4 176.3L367.7 177.6L368.0 178.7L368.3 179.8L368.6 180.8L368.9 181.7L369.0 182.0L369.2 182.5L369.5 183.4L369.8 184.2L370.1 184.9L370.4 185.5L370.7 185.9L371.0 186.0L371.0 186.0L371.3 185.8L371.6 185.3L371.9 184.6L372.2 183.7L372.5 182.7L372.8 181.6L373.0 181.0L373.1 180.7L373.4 179.6L373.7 178.4L374.0 177.1L374.3 175.7L374.6 174.3L374.9 172.8L375.2 171.4L375.5 170.1L375.8 168.8L376.0 168.0L376.1 167.6L376.4 166.4L376.7 165.2L377.0 164.2L377.3 162.8L377.6 161.5L377.9 161.0L378.2 159.7L378.5 159.0L378.8 158.0L379.0 157.6L379.1 157.5L379.4 157.3L379.7 157.1L380.0 155.9L380.3 156.5L380.6 155.6L380.9 155.4L381.2 155.6L381.5 155.1L381.8 154.5L382.1 155.2L382.4 154.2L382.7 154.3L383.0 154.1L383.0 154.4L383.3 153.6L383.6 153.8L383.9 153.1L384.2 153.4L384.5 152.6L384.8 152.4L385.1 152.9L385.4 152.2L385.7 151.9L386.0 152.4L386.3 151.6L386.6 151.1L386.9 151.4L387.2 150.8L387.5 151.4L387.8 151.4L388.0 150.8L388.1 150.8L388.4 151.1L388.7 151.0L389.0 150.8L389.3 151.3L389.6 150.5L389.9 151.1L390.2 151.1L390.5 151.3L390.8 151.5L391.1 151.1L391.4 151.8L391.7 151.6L392.0 151.6L392.3 151.4L392.6 151.6L392.9 152.2L393.2 151.9L393.5 152.3L393.8 152.7L394.0 152.7L394.1 152.9L394.4 152.5L394.7 152.3L395.0 153.1L395.3 153.0L395.6 153.5L395.9 153.3L396.2 153.8L396.5 153.9L396.8 154.0L397.1 154.1L397.4 154.3L397.7 154.4L398.0 154.6L398.3 154.9L398.6 154.8L398.9 155.2L399.2 155.2L399.5 155.3L399.8 155.4L400.1 155.5L400.4 155.5L400.7 155.6L401.0 155.6L401.0 155.6L401.3 155.6L401.6 155.4L401.9 155.2L402.2 155.0L402.5 154.7L402.8 154.3L403.1 154.0L403.4 153.5L403.7 153.1L404.0 152.7L404.3 152.2L404.6 151.8L404.9 151.3L405.2 150.9L405.5 150.5L405.8 150.2L406.0 150.0L406.1 149.9L406.4 149.6L406.7 149.3L407.0 149.0L407.3 148.7L407.6 148.4L407.9 148.2L408.2 147.9L408.5 147.6L408.8 147.3L409.1 147.0L409.4 146.8L409.7 146.5L410.0 146.3L410.3 146.1L410.6 145.8L410.9 145.6L411.2 145.4L411.5 145.3L411.8 145.1L412.0 145.0L412.1 145.0L412.4 144.8L412.7 144.7L413.0 144.5L413.3 144.4L413.6 144.2L413.9 144.1L414.2 144.0L414.5 143.8L414.8 143.7L415.1 143.6L415.4 143.5L415.7 143.3L416.0 143.2L416.3 143.1L416.6 143.0L416.9 142.9L417.2 142.8L417.5 142.7L417.8 142.7L418.1 142.6L418.4 142.5L418.7 142.5L419.0 142.5L419.3 142.4L419.6 142.4L419.9 142.4L420.0 142.4L420.2 142.4L420.5 142.4L420.8 142.4L421.1 142.4L421.4 142.4L421.7 142.4L422.0 142.4L422.3 142.4L422.6 142.4L422.9 142.4L423.2 142.4L423.5 142.4L423.8 142.4L424.1 142.4L424.4 142.4L424.7 142.4L425.0 142.4L425.3 142.4L425.6 142.4L425.9 142.4L426.2 142.4L426.5 142.4L426.8 142.4L427.1 142.4L427.4 142.4L427.7 142.4L428.0 142.4L428.0 142.4L428.3 142.4L428.6 142.4L428.9 142.5L429.2 142.5L429.5 142.6L429.8 142.7L430.1 142.8L430.4 142.9L430.7 143.0L431.0 143.2L431.3 143.3L431.6 143.5L431.9 143.6L432.2 143.8L432.5 144.0L432.8 144.1L433.1 144.3L433.4 144.5L433.7 144.7L434.0 144.8L434.3 145.0L434.6 145.2L434.9 145.4L435.2 145.6L435.5 145.7L435.8 145.9L436.0 146.0L436.1 146.1L436.4 146.2L436.7 146.4L437.0 146.5L437.3 146.7L437.6 146.9L437.9 147.1L438.2 147.3L438.5 147.4L438.8 147.6L439.1 147.8L439.4 148.0L439.7 148.2L440.0 148.4L440.3 148.6L440.6 148.8L440.9 149.0L441.2 149.2L441.5 149.4L441.8 149.6L442.1 149.8L442.4 150.0L442.7 150.2L443.0 150.4L443.3 150.6L443.6 150.8L443.9 150.9L444.0 151.0L444.2 151.1L444.5 151.3L444.8 151.6L445.1 151.8L445.4 152.0L445.7 152.3L446.0 152.5L446.3 152.7L446.6 153.0L446.9 153.2L447.2 153.4L447.5 153.5L447.8 153.7L448.1 153.8L448.4 153.9L448.7 154.0L449.0 154.0L449.0 154.0L449.3 153.9L449.6 153.7L449.9 153.5L450.2 153.1L450.5 152.7L450.8 152.3L451.1 151.9L451.4 151.5L451.7 151.2L452.0 151.0L452.0 151.0L452.3 150.8L452.6 150.7L452.9 150.6L453.2 150.4L453.5 150.3L453.8 150.2L454.1 150.1L454.4 150.0L454.7 149.9L455.0 149.8L455.3 149.7L455.6 149.6L455.9 149.5L456.2 149.4L456.5 149.3L456.8 149.3L457.1 149.2L457.4 149.1L457.7 149.0L458.0 149.0L458.3 148.9L458.6 148.8L458.9 148.7L459.2 148.6L459.5 148.6L459.8 148.5L460.0 148.4L460.1 148.4L460.4 148.3L460.7 148.2L461.0 148.1L461.3 147.9L461.6 147.8L461.9 147.7L462.2 147.6L462.5 147.5L462.8 147.3L463.1 147.2L463.4 147.1L463.7 147.0L464.0 146.9L464.3 146.8L464.6 146.8L464.9 146.7L465.2 146.7L465.5 146.6L465.8 146.6L466.0 146.6L466.1 146.6L466.4 146.6L466.7 146.6L467.0 146.7L467.3 146.7L467.6 146.8L467.9 146.9L468.2 146.9L468.5 147.0L468.8 147.1L469.1 147.2L469.4 147.4L469.7 147.5L470.0 147.6L470.0 147.6L470.3 147.8L470.6 148.0L470.9 148.2L471.2 148.5L471.5 148.9L471.8 149.8L472.1 149.9L472.4 150.5L472.7 150.5L473.0 151.3L473.3 151.9L473.5 152.6L473.6 151.9L473.9 152.8L474.2 153.2L474.5 153.3L474.8 154.2L475.1 154.7L475.4 154.5L475.7 156.1L476.0 156.7L476.3 157.0L476.6 157.2L476.9 158.8L477.2 158.9L477.4 159.6L477.5 159.9L477.8 159.7L478.1 160.8L478.4 160.9L478.7 161.6L479.0 162.1L479.3 162.7L479.6 163.6L479.9 163.8L480.2 164.3L480.5 164.8L480.8 165.6L481.1 165.7L481.4 166.4L481.7 167.0L482.0 167.4L482.3 168.1L482.6 168.4L482.9 169.8L483.2 170.1L483.5 170.3L483.8 170.6L484.1 171.9L484.4 171.7L484.7 172.0L484.7 172.1L485.0 172.5L485.3 173.4L485.6 173.3L485.9 174.5L486.2 173.8L486.5 174.8L486.8 174.6L487.1 176.0L487.4 175.7L487.7 176.2L488.0 176.9L488.3 177.4L488.6 177.0L488.9 177.6L489.2 177.6L489.5 178.5L489.8 178.8L490.1 179.1L490.4 179.3L490.7 179.7L491.0 180.0L491.3 180.7L491.6 181.4L491.9 180.5L492.0 181.3L492.2 181.4L492.5 182.0L492.8 181.9L493.1 182.5L493.4 182.5L493.7 183.5L494.0 183.6L494.3 183.8L494.6 184.3L494.9 184.3L495.2 184.1L495.5 185.0L495.8 185.0L496.0 184.9L496.1 185.4L496.4 185.6L496.7 184.9L497.0 184.9L497.3 185.8L497.6 185.5L497.9 185.9L498.2 185.5L498.5 184.9L498.8 185.5L499.1 185.8L499.4 185.9L499.4 186.6L499.7 186.3L500.0 185.1L500.3 185.2L500.6 184.3L500.9 185.0L501.2 184.7L501.5 186.1L501.8 184.4L502.1 183.0L502.1 183.9L502.4 184.4L502.7 183.6L503.0 183.9L503.3 184.4L503.6 185.0L503.9 184.8L504.2 184.6L504.5 185.9L504.8 185.3L505.1 185.6L505.4 185.4L505.7 186.1L506.0 187.3L506.3 186.2L506.3 187.2L506.6 188.2L506.9 188.2L507.1 188.9L507.2 188.3L507.5 190.1L507.8 190.3L508.1 190.1L508.4 189.1L508.7 189.8L509.0 191.3L509.3 192.0L509.6 191.5L509.6 192.0L509.9 191.3L510.2 191.9L510.3 192.2L510.5 193.1L510.8 193.9L511.1 198.0L511.4 201.2L511.7 202.6L512.0 204.8L512.3 207.4L512.5 207.1L512.6 206.0L512.9 207.1L513.2 205.2L513.5 202.6L513.8 201.7L514.1 197.8L514.4 194.6L514.7 192.7L515.0 190.1L515.3 189.0L515.4 189.4L515.6 188.5L515.9 188.0L516.2 188.8L516.5 188.0L516.8 187.7L517.0 187.5L517.1 187.5L517.4 188.6L517.7 188.7L518.0 191.1L518.3 190.6L518.6 192.2L518.7 191.8L518.9 193.0L519.2 194.5L519.5 195.9L519.8 195.1L519.9 195.5L520.1 195.0L520.4 193.2L520.7 190.7L521.0 189.0L521.3 185.6L521.6 185.2L521.6 185.1L521.9 183.8L522.2 182.7L522.5 181.9L522.8 183.3L522.8 181.4L523.1 182.8L523.4 181.9L523.7 181.0L524.0 180.2L524.3 181.3L524.6 181.5L524.9 179.8L525.2 180.0L525.3 180.7L525.5 180.2L525.8 181.1L526.1 179.4L526.4 180.0L526.7 178.8L527.0 180.7L527.3 179.0L527.6 178.0L527.9 179.1L528.2 179.0L528.5 180.1L528.6 178.7L528.8 178.8L529.1 178.9L529.4 179.2L529.7 177.8L530.0 178.1L530.3 177.5L530.6 176.8L530.9 176.9L531.1 176.8L531.2 176.3L531.5 177.6L531.8 176.3L532.1 178.0L532.4 178.1L532.7 177.9L533.0 177.9L533.3 178.3L533.6 178.6L533.6 178.7L533.9 178.6L534.2 178.7L534.5 178.6L534.5 178.6L535.8 173.0L537.0 197.0L538.4 175.0L539.8 203.0L541.2 171.0L542.6 198.0"/>
<path d="M41.0 198.3L41.3 198.3L41.6 198.3L41.9 198.3L42.2 198.4L42.5 198.3L42.8 198.1L43.1 198.3L43.4 198.2L43.7 198.4L44.0 198.6L44.3 198.3L44.6 198.3L44.9 198.3L45.2 198.4L45.5 198.4L45.8 198.5L46.1 198.2L46.4 198.5L46.7 198.2L47.0 198.4L47.3 198.5L47.6 198.5L47.9 198.3L48.2 198.3L48.5 198.3L48.8 198.4L49.1 198.5L49.4 198.3L49.7 198.5L50.0 198.5L50.3 198.5L50.6 198.5L50.9 198.6L51.2 198.5L51.5 198.6L51.8 198.5L52.1 198.7L52.4 198.3L52.7 198.7L53.0 198.5L53.3 198.5L53.6 198.4L53.9 198.3L54.2 198.5L54.5 198.5L54.8 198.6L55.1 198.4L55.4 198.8L55.7 198.6L56.0 198.6L56.3 198.5L56.6 198.5L56.9 198.5L57.2 198.6L57.5 198.7L57.8 198.7L58.0 198.5L58.1 198.7L58.4 198.6L58.7 198.7L59.0 199.0L59.3 198.8L59.6 198.7L59.9 198.6L60.2 198.7L60.5 198.7L60.6 199.0L60.8 199.0L61.1 199.6L61.4 200.1L61.7 200.5L61.7 200.7L62.0 200.1L62.3 199.6L62.6 199.0L62.8 199.1L62.9 198.9L63.2 198.9L63.5 198.8L63.8 198.8L64.1 199.1L64.4 199.3L64.7 198.9L65.0 199.1L65.3 199.0L65.6 198.9L65.9 199.0L66.2 199.0L66.5 199.0L66.8 199.3L67.1 198.8L67.4 199.1L67.7 199.1L68.0 199.0L68.3 199.1L68.6 199.2L68.9 199.1L69.2 199.2L69.5 199.2L69.8 198.9L70.1 199.3L70.4 199.4L70.7 199.3L71.0 199.3L71.3 199.0L71.6 199.2L71.9 199.1L72.2 199.2L72.5 199.4L72.8 199.2L73.0 199.3L73.1 199.1L73.4 199.3L73.7 199.4L74.0 199.4L74.3 199.6L74.6 200.0L74.9 199.8L75.2 200.0L75.5 200.2L75.8 200.6L76.1 200.9L76.4 200.9L76.7 200.9L77.0 201.1L77.3 201.5L77.6 201.4L77.8 201.8L77.9 201.8L78.2 201.8L78.5 202.0L78.8 202.1L79.1 202.3L79.4 202.1L79.7 202.5L80.0 202.5L80.3 202.5L80.6 202.8L80.9 202.9L81.2 202.9L81.5 203.0L81.8 203.3L82.1 203.6L82.4 203.8L82.4 203.7L82.7 204.0L83.0 204.1L83.3 204.4L83.6 204.6L83.9 204.9L84.2 205.2L84.5 205.6L84.8 205.9L85.1 206.2L85.4 206.6L85.7 207.0L86.0 207.4L86.3 207.7L86.6 208.2L86.9 208.6L87.0 208.7L87.2 209.0L87.5 209.4L87.8 209.9L88.1 210.4L88.4 211.0L88.7 211.5L89.0 212.1L89.3 212.7L89.6 213.3L89.9 213.9L90.2 214.6L90.4 215.0L90.5 215.2L90.8 215.9L91.1 216.7L91.4 217.5L91.7 218.4L92.0 219.2L92.3 220.1L92.6 221.0L92.9 221.8L93.2 222.6L93.5 223.4L93.8 224.1L94.0 224.5L94.1 224.7L94.4 225.3L94.7 225.9L95.0 226.5L95.3 227.0L95.6 227.6L95.9 228.1L96.2 228.6L96.5 229.2L96.8 229.7L97.1 230.1L97.4 230.6L97.7 231.1L98.0 231.5L98.3 231.9L98.6 232.3L98.9 232.7L99.2 233.1L99.5 233.5L99.8 233.8L100.0 234.0L100.1 234.1L100.4 234.4L100.7 234.7L101.0 235.0L101.3 235.3L101.6 235.6L101.9 235.9L102.2 236.2L102.5 236.4L102.8 236.7L103.1 237.0L103.4 237.2L103.7 237.5L104.0 237.7L104.3 237.9L104.6 238.1L104.9 238.4L105.2 238.6L105.5 238.8L105.8 238.9L106.1 239.1L106.4 239.3L106.7 239.4L107.0 239.6L107.3 239.7L107.6 239.9L107.9 240.0L108.0 240.0L108.2 240.1L108.5 240.2L108.8 240.3L109.1 240.4L109.4 240.5L109.7 240.6L110.0 240.7L110.3 240.8L110.6 240.9L110.9 241.0L111.2 241.0L111.5 241.1L111.8 241.2L112.1 241.3L112.4 241.4L112.7 241.4L113.0 241.5L113.3 241.6L113.6 241.6L113.9 241.7L114.2 241.7L114.5 241.8L114.8 241.8L115.1 241.9L115.4 241.9L115.7 241.9L116.0 242.0L116.3 242.0L116.6 242.0L116.9 242.0L117.0 242.0L117.2 242.0L117.5 242.0L117.8 242.0L118.1 242.0L118.4 241.9L118.7 241.9L119.0 241.9L119.3 241.9L119.6 241.8L119.9 241.8L120.2 241.8L120.5 241.7L120.8 241.7L121.1 241.6L121.4 241.6L121.7 241.5L122.0 241.4L122.3 241.4L122.6 241.3L122.9 241.3L123.2 241.2L123.5 241.1L123.8 241.0L124.0 241.0L124.1 241.0L124.4 240.9L124.7 240.8L125.0 240.6L125.3 240.5L125.6 240.3L125.9 240.1L126.2 240.0L126.5 239.8L126.8 239.5L127.1 239.3L127.4 239.1L127.7 238.8L128.0 238.6L128.3 238.4L128.6 238.1L128.9 237.9L129.2 237.6L129.5 237.4L129.8 237.2L130.0 237.0L130.1 236.9L130.4 236.7L130.7 236.4L131.0 236.2L131.3 235.9L131.6 235.7L131.9 235.4L132.2 235.1L132.5 234.9L132.8 234.6L133.1 234.3L133.4 234.0L133.7 233.7L134.0 233.4L134.3 233.1L134.6 232.8L134.9 232.6L135.2 232.3L135.5 232.0L135.8 231.7L136.1 231.4L136.4 231.1L136.7 230.8L137.0 230.5L137.3 230.2L137.6 230.0L137.9 229.7L138.2 229.4L138.5 229.2L138.8 228.9L139.1 228.7L139.4 228.4L139.7 228.2L140.0 228.0L140.0 228.0L140.3 227.8L140.6 227.6L140.9 227.4L141.2 227.2L141.5 227.0L141.8 226.8L142.1 226.6L142.4 226.4L142.7 226.2L143.0 226.1L143.3 225.9L143.6 225.7L143.9 225.5L144.2 225.4L144.5 225.2L144.8 225.0L145.1 224.9L145.4 224.7L145.7 224.5L146.0 224.4L146.3 224.2L146.6 224.0L146.9 223.8L147.2 223.7L147.5 223.5L147.8 223.3L148.1 223.2L148.4 223.0L148.7 222.8L149.0 222.6L149.3 222.4L149.6 222.3L149.9 222.1L150.0 222.0L150.2 221.9L150.5 221.7L150.8 221.5L151.1 221.3L151.4 221.1L151.7 220.8L152.0 220.6L152.3 220.4L152.6 220.2L152.9 220.0L153.2 219.8L153.5 219.5L153.8 219.3L154.1 219.1L154.4 218.9L154.7 218.6L155.0 218.4L155.3 218.2L155.6 218.0L155.9 217.8L156.2 217.5L156.5 217.3L156.8 217.1L157.1 216.9L157.4 216.7L157.7 216.5L158.0 216.3L158.3 216.1L158.6 215.9L158.9 215.7L159.2 215.5L159.5 215.3L159.8 215.1L160.0 215.0L160.1 214.9L160.4 214.8L160.7 214.6L161.0 214.4L161.3 214.3L161.6 214.1L161.9 213.9L162.2 213.8L162.5 213.6L162.8 213.4L163.1 213.3L163.4 213.1L163.7 213.0L164.0 212.8L164.3 212.6L164.6 212.5L164.9 212.3L165.2 212.2L165.5 212.0L165.8 211.9L166.1 211.8L166.4 211.6L166.7 211.5L167.0 211.3L167.3 211.2L167.6 211.1L167.9 210.9L168.2 210.8L168.5 210.6L168.8 210.5L169.1 210.4L169.4 210.3L169.7 210.1L170.0 210.0L170.0 210.0L170.3 209.9L170.6 209.7L170.9 209.6L171.2 209.5L171.5 209.4L171.8 209.3L172.1 209.1L172.4 209.0L172.7 208.9L173.0 208.8L173.3 208.7L173.6 208.5L173.9 208.4L174.2 208.3L174.5 208.2L174.8 208.1L175.1 208.0L175.4 207.8L175.7 207.7L176.0 207.6L176.3 207.5L176.6 207.4L176.9 207.3L177.2 207.2L177.5 207.1L177.8 207.0L178.1 206.9L178.4 206.7L178.7 206.6L179.0 206.5L179.3 206.4L179.6 206.3L179.9 206.2L180.2 206.1L180.5 206.0L180.8 205.9L181.1 205.8L181.4 205.7L181.7 205.6L182.0 205.5L182.3 205.4L182.6 205.3L182.9 205.2L183.2 205.1L183.5 205.0L183.8 204.9L184.1 204.8L184.4 204.7L184.7 204.6L185.0 204.5L185.3 204.4L185.6 204.3L185.9 204.2L186.2 204.1L186.5 204.1L186.8 204.0L187.1 203.9L187.4 203.8L187.7 203.7L188.0 203.6L188.3 203.5L188.6 203.4L188.9 203.3L189.2 203.2L189.5 203.1L189.8 203.1L190.0 203.0L190.1 203.0L190.4 202.9L190.7 202.8L191.0 202.7L191.3 202.6L191.6 202.5L191.9 202.4L192.2 202.4L192.5 202.3L192.8 202.2L193.1 202.1L193.4 202.0L193.7 201.9L194.0 201.9L194.3 201.8L194.6 201.7L194.9 201.6L195.2 201.5L195.5 201.4L195.8 201.4L196.1 201.3L196.4 201.2L196.7 201.1L197.0 201.0L197.3 200.9L197.6 200.9L197.9 200.8L198.2 200.7L198.5 200.6L198.8 200.5L199.1 200.5L199.4 200.4L199.7 200.3L200.0 200.2L200.3 200.2L200.6 200.1L200.9 200.0L201.2 199.9L201.5 199.9L201.8 199.8L202.1 199.7L202.4 199.6L202.7 199.6L203.0 199.5L203.3 199.4L203.6 199.4L203.9 199.3L204.2 199.2L204.5 199.1L204.8 199.1L205.1 199.0L205.4 198.9L205.7 198.9L206.0 198.8L206.3 198.7L206.6 198.7L206.9 198.6L207.2 198.6L207.5 198.5L207.8 198.4L208.1 198.4L208.4 198.3L208.7 198.3L209.0 198.2L209.3 198.1L209.6 198.1L209.9 198.0L210.0 198.0L210.2 198.0L210.5 197.9L210.8 197.9L211.1 197.8L211.4 197.7L211.7 197.7L212.0 197.6L212.3 197.6L212.6 197.5L212.9 197.5L213.2 197.4L213.5 197.4L213.8 197.3L214.1 197.3L214.4 197.2L214.7 197.2L215.0 197.1L215.3 197.1L215.6 197.0L215.9 197.0L216.2 196.9L216.5 196.9L216.8 196.9L217.1 196.8L217.4 196.8L217.7 196.7L218.0 196.7L218.3 196.6L218.6 196.6L218.9 196.5L219.2 196.5L219.5 196.5L219.8 196.4L220.1 196.4L220.4 196.3L220.7 196.3L221.0 196.2L221.3 196.2L221.6 196.2L221.9 196.1L222.2 196.1L222.5 196.0L222.8 196.0L223.1 195.9L223.4 195.9L223.7 195.9L224.0 195.8L224.3 195.8L224.6 195.7L224.9 195.7L225.2 195.7L225.5 195.6L225.8 195.6L226.1 195.5L226.4 195.5L226.7 195.5L227.0 195.4L227.3 195.4L227.6 195.3L227.9 195.3L228.2 195.2L228.5 195.2L228.8 195.2L229.1 195.1L229.4 195.1L229.7 195.0L230.0 195.0L230.0 195.0L230.3 195.0L230.6 194.9L230.9 194.9L231.2 194.8L231.5 194.8L231.8 194.8L232.1 194.7L232.4 194.7L232.7 194.6L233.0 194.6L233.3 194.5L233.6 194.5L233.9 194.5L234.2 194.4L234.5 194.4L234.8 194.3L235.1 194.3L235.4 194.3L235.7 194.2L236.0 194.2L236.3 194.1L236.6 194.1L236.9 194.1L237.2 194.0L237.5 194.0L237.8 194.0L238.1 193.9L238.4 193.9L238.7 193.8L239.0 193.8L239.3 193.8L239.6 193.7L239.9 193.7L240.2 193.6L240.5 193.6L240.8 193.6L241.1 193.5L241.4 193.5L241.7 193.5L242.0 193.4L242.3 193.4L242.6 193.3L242.9 193.3L243.2 193.3L243.5 193.2L243.8 193.2L244.1 193.1L244.4 193.1L244.7 193.1L245.0 193.0L245.3 193.0L245.6 193.0L245.9 192.9L246.2 192.9L246.5 192.8L246.8 192.8L247.1 192.8L247.4 192.7L247.7 192.7L248.0 192.7L248.3 192.6L248.6 192.6L248.9 192.5L249.2 192.5L249.5 192.5L249.8 192.4L250.0 192.4L250.1 192.4L250.4 192.3L250.7 192.3L251.0 192.3L251.3 192.2L251.6 192.2L251.9 192.1L252.2 192.1L252.5 192.1L252.8 192.0L253.1 192.0L253.4 191.9L253.7 191.9L254.0 191.8L254.3 191.8L254.6 191.8L254.9 191.7L255.2 191.7L255.5 191.6L255.8 191.6L256.1 191.6L256.4 191.5L256.7 191.5L257.0 191.5L257.3 191.5L257.6 191.4L257.9 191.4L258.0 191.4L258.2 191.4L258.5 191.4L258.8 191.4L259.1 191.3L259.4 191.3L259.7 191.3L260.0 191.3L260.3 191.3L260.6 191.3L260.9 191.3L261.2 191.3L261.5 191.2L261.8 191.2L262.0 191.2L262.1 191.2L262.4 191.1L262.7 190.9L263.0 190.8L263.3 190.6L263.6 190.4L263.9 190.3L264.0 190.3L264.2 190.3L264.5 190.2L264.8 190.2L265.1 190.2L265.4 190.1L265.7 190.1L266.0 190.1L266.3 190.0L266.6 190.0L266.9 190.0L267.2 190.0L267.5 190.0L267.8 189.9L268.1 189.9L268.4 189.9L268.7 189.9L269.0 189.9L269.3 189.8L269.6 189.8L269.9 189.8L270.0 189.8L270.2 189.8L270.5 189.8L270.8 189.7L271.1 189.7L271.4 189.7L271.7 189.7L272.0 189.7L272.3 189.7L272.6 189.7L272.9 189.7L273.2 189.6L273.5 189.6L273.8 189.6L274.1 189.6L274.4 189.6L274.7 189.6L275.0 189.6L275.3 189.5L275.6 189.5L275.9 189.5L276.2 189.4L276.5 189.4L276.8 189.4L277.1 189.3L277.2 189.3L277.4 189.2L277.7 188.7L278.0 188.2L278.3 187.7L278.6 187.5L278.6 187.5L278.9 187.7L279.2 188.2L279.5 188.7L279.8 189.1L280.0 189.2L280.1 189.2L280.4 189.2L280.7 189.2L281.0 189.2L281.3 189.2L281.6 189.2L281.9 189.2L282.2 189.2L282.5 189.2L282.8 189.2L283.1 189.2L283.4 189.1L283.7 189.1L284.0 189.1L284.3 189.1L284.6 189.1L284.9 189.1L285.2 189.1L285.5 189.1L285.8 189.0L286.1 189.0L286.4 189.0L286.7 189.0L287.0 189.0L287.3 189.0L287.6 188.9L287.9 188.9L288.2 188.9L288.5 188.9L288.8 188.9L289.1 188.8L289.4 188.8L289.7 188.8L290.0 188.8L290.3 188.7L290.6 188.7L290.9 188.7L291.2 188.7L291.5 188.7L291.8 188.6L292.1 188.6L292.4 188.6L292.7 188.6L293.0 188.5L293.3 188.5L293.6 188.5L293.9 188.5L294.2 188.4L294.5 188.4L294.8 188.4L295.1 188.4L295.4 188.3L295.7 188.3L296.0 188.3L296.3 188.3L296.6 188.3L296.9 188.2L297.2 188.2L297.5 188.2L297.8 188.2L298.1 188.1L298.4 188.1L298.7 188.1L299.0 188.1L299.3 188.0L299.6 188.0L299.9 188.0L300.0 188.0L300.2 188.0L300.5 188.0L300.8 187.9L301.1 187.9L301.4 187.9L301.7 187.9L302.0 187.9L302.3 187.8L302.6 187.8L302.9 187.8L303.2 187.8L303.5 187.8L303.8 187.7L304.1 187.7L304.4 187.7L304.7 187.7L305.0 187.6L305.3 187.6L305.6 187.6L305.9 187.6L306.2 187.5L306.5 187.5L306.8 187.5L307.1 187.5L307.4 187.5L307.7 187.4L308.0 187.4L308.3 187.4L308.6 187.4L308.9 187.3L309.2 187.3L309.5 187.3L309.8 187.3L310.1 187.2L310.4 187.2L310.7 187.2L311.0 187.2L311.3 187.1L311.6 187.1L311.9 187.1L312.2 187.1L312.5 187.0L312.8 187.0L313.1 187.0L313.4 187.0L313.7 186.9L314.0 186.9L314.3 186.9L314.6 186.9L314.9 186.8L315.2 186.8L315.5 186.8L315.8 186.8L316.1 186.7L316.4 186.7L316.7 186.7L317.0 186.7L317.3 186.6L317.6 186.6L317.9 186.6L318.2 186.6L318.5 186.5L318.8 186.5L319.1 186.5L319.4 186.5L319.7 186.4L320.0 186.4L320.0 186.4L320.3 186.4L320.6 186.3L320.9 186.3L321.2 186.3L321.5 186.3L321.8 186.2L322.1 186.2L322.4 186.2L322.7 186.1L323.0 186.1L323.3 186.1L323.6 186.0L323.9 186.0L324.2 186.0L324.5 185.9L324.8 185.9L325.1 185.9L325.4 185.8L325.7 185.8L326.0 185.8L326.3 185.7L326.6 185.7L326.9 185.7L327.2 185.6L327.5 185.6L327.8 185.6L328.1 185.5L328.4 185.5L328.7 185.5L329.0 185.4L329.3 185.4L329.6 185.4L329.9 185.3L330.2 185.3L330.5 185.3L330.8 185.2L331.1 185.2L331.4 185.2L331.7 185.1L332.0 185.1L332.3 185.1L332.6 185.0L332.9 185.0L333.2 185.0L333.5 184.9L333.8 184.9L334.1 184.9L334.4 184.8L334.7 184.8L335.0 184.8L335.3 184.8L335.6 184.7L335.9 184.7L336.2 184.7L336.5 184.6L336.8 184.6L337.1 184.6L337.4 184.6L337.7 184.6L338.0 184.5L338.3 184.5L338.6 184.5L338.9 184.5L339.2 184.4L339.5 184.4L339.8 184.4L340.0 184.4L340.1 184.4L340.4 184.4L340.7 184.4L341.0 184.3L341.3 184.3L341.6 184.3L341.9 184.3L342.2 184.3L342.5 184.3L342.8 184.2L343.1 184.2L343.4 184.2L343.7 184.2L344.0 184.2L344.3 184.2L344.6 184.2L344.9 184.1L345.2 184.1L345.5 184.1L345.8 184.1L346.1 184.1L346.4 184.1L346.7 184.1L347.0 184.1L347.3 184.0L347.6 184.0L347.9 184.0L348.2 184.0L348.5 184.0L348.8 184.0L349.1 184.0L349.4 184.0L349.7 184.0L350.0 184.0L350.0 184.0L350.3 184.0L350.6 184.0L350.9 184.0L351.2 184.0L351.5 184.0L351.8 184.0L352.1 184.0L352.4 184.0L352.7 184.0L353.0 184.1L353.3 184.1L353.6 184.1L353.9 184.1L354.2 184.1L354.5 184.1L354.8 184.1L355.1 184.2L355.4 184.2L355.7 184.2L356.0 184.2L356.3 184.3L356.6 184.3L356.9 184.3L357.2 184.3L357.5 184.4L357.8 184.4L358.0 184.4L358.1 184.4L358.4 184.5L358.7 184.5L359.0 184.6L359.3 184.7L359.6 184.8L359.9 184.9L360.2 185.1L360.5 185.3L360.8 185.4L361.1 185.6L361.4 185.8L361.7 186.0L362.0 186.3L362.3 186.5L362.6 186.7L362.9 187.0L363.2 187.3L363.5 187.5L363.8 187.8L364.0 188.0L364.1 188.1L364.4 188.5L364.7 189.0L365.0 189.5L365.3 190.2L365.6 190.9L365.9 191.6L366.2 192.3L366.5 193.0L366.8 193.7L367.1 194.4L367.4 195.0L367.7 195.6L368.0 196.0L368.0 196.0L368.3 196.4L368.6 196.8L368.9 197.2L369.2 197.6L369.5 198.0L369.8 198.3L370.1 198.6L370.4 198.8L370.7 199.0L371.0 199.0L371.0 199.0L371.3 198.9L371.6 198.7L371.9 198.4L372.2 198.0L372.5 197.5L372.8 197.0L373.1 196.4L373.4 195.9L373.7 195.4L374.0 195.0L374.0 195.0L374.3 194.6L374.6 194.2L374.9 193.8L375.2 193.3L375.5 192.9L375.8 192.5L376.1 192.1L376.4 191.7L376.7 191.3L377.0 190.9L377.3 190.7L377.6 190.3L377.9 190.2L378.0 190.0L378.2 189.8L378.5 189.7L378.8 189.4L379.1 189.0L379.4 188.9L379.7 189.1L380.0 188.9L380.3 188.9L380.6 187.9L380.9 188.2L381.2 188.1L381.5 188.1L381.8 187.9L382.0 187.8L382.1 188.2L382.4 188.0L382.7 187.6L383.0 188.3L383.3 188.2L383.6 187.7L383.9 188.0L384.2 187.5L384.5 188.1L384.8 187.7L385.1 187.5L385.4 187.6L385.7 187.4L386.0 187.7L386.3 187.7L386.6 187.6L386.9 187.4L387.2 186.5L387.5 187.6L387.8 187.0L388.0 187.7L388.1 187.9L388.4 187.7L388.7 187.5L389.0 187.6L389.3 187.7L389.6 187.6L389.9 187.6L390.2 187.6L390.5 188.3L390.8 188.1L391.1 188.5L391.4 188.2L391.7 188.4L392.0 188.5L392.3 188.8L392.6 189.0L392.9 189.0L393.0 188.8L393.2 188.9L393.5 189.8L393.8 189.7L394.1 190.1L394.4 190.9L394.7 191.3L395.0 191.8L395.3 192.4L395.6 193.2L395.9 193.8L396.0 194.0L396.2 194.5L396.5 195.5L396.8 196.6L397.1 197.9L397.4 199.2L397.7 200.6L398.0 202.0L398.3 203.3L398.6 204.6L398.9 205.7L399.0 206.0L399.2 206.6L399.5 207.5L399.8 208.2L400.1 209.0L400.4 209.7L400.7 210.4L401.0 211.1L401.3 211.9L401.6 212.7L401.9 213.7L402.0 214.0L402.2 214.7L402.5 215.7L402.8 216.8L403.1 217.9L403.4 219.1L403.7 220.4L404.0 221.8L404.3 223.4L404.6 225.2L404.9 227.3L405.0 228.0L405.2 230.2L405.5 235.3L405.8 240.5L406.1 243.7L406.2 244.0L406.4 243.5L406.7 241.0L407.0 237.1L407.3 232.7L407.6 228.3L407.9 224.8L408.0 224.0L408.2 222.6L408.5 220.7L408.8 219.0L409.1 217.4L409.4 216.0L409.7 214.6L410.0 213.2L410.3 211.8L410.6 210.3L410.9 208.6L411.0 208.0L411.2 206.7L411.5 204.6L411.8 202.3L412.1 199.9L412.4 197.7L412.7 195.7L413.0 194.0L413.0 194.0L413.3 192.6L413.6 191.2L413.9 189.9L414.2 188.6L414.5 187.5L414.8 186.4L415.1 185.4L415.4 184.5L415.7 183.7L416.0 183.0L416.0 183.0L416.3 182.4L416.6 181.8L416.9 181.2L417.2 180.6L417.5 180.1L417.8 179.6L418.1 179.2L418.4 178.7L418.7 178.3L419.0 178.0L419.3 177.6L419.6 177.3L419.9 177.1L420.0 177.0L420.2 176.8L420.5 176.6L420.8 176.4L421.1 176.2L421.4 176.0L421.7 175.8L422.0 175.6L422.3 175.5L422.6 175.3L422.9 175.2L423.2 175.0L423.5 174.9L423.8 174.7L424.1 174.6L424.4 174.5L424.7 174.4L425.0 174.3L425.3 174.2L425.6 174.1L425.9 174.0L426.0 174.0L426.2 174.0L426.5 173.9L426.8 173.8L427.1 173.7L427.4 173.7L427.7 173.6L428.0 173.5L428.3 173.5L428.6 173.4L428.9 173.3L429.2 173.3L429.5 173.2L429.8 173.2L430.1 173.1L430.4 173.1L430.7 173.1L431.0 173.0L431.3 173.0L431.6 173.0L431.9 173.0L432.0 173.0L432.2 173.0L432.5 173.0L432.8 173.0L433.1 173.1L433.4 173.1L433.7 173.2L434.0 173.2L434.3 173.3L434.6 173.4L434.9 173.4L435.2 173.5L435.5 173.6L435.8 173.7L436.1 173.8L436.4 173.9L436.7 174.0L437.0 174.1L437.3 174.2L437.6 174.3L437.9 174.4L438.2 174.5L438.5 174.6L438.8 174.7L439.1 174.8L439.4 174.9L439.7 174.9L440.0 175.0L440.0 175.0L440.3 175.0L440.6 175.0L440.9 175.2L441.2 175.3L441.5 175.3L441.8 175.2L442.1 175.1L442.4 175.4L442.7 175.2L443.0 175.9L443.3 176.1L443.6 176.8L443.9 176.2L444.2 175.7L444.5 175.7L444.8 174.8L445.1 175.9L445.4 176.1L445.7 176.6L446.0 176.5L446.3 176.5L446.6 176.5L446.9 176.7L447.2 177.0L447.5 176.2L447.8 176.5L448.1 176.2L448.4 177.3L448.7 177.2L449.0 177.1L449.3 176.5L449.6 177.0L449.9 176.9L450.0 177.0L450.2 177.0L450.5 177.3L450.8 177.0L451.1 177.5L451.4 177.3L451.7 177.1L452.0 177.3L452.3 177.2L452.6 177.7L452.9 177.3L453.2 177.5L453.5 177.3L453.8 177.0L454.1 177.9L454.4 177.2L454.7 177.9L455.0 177.8L455.3 177.1L455.6 177.4L455.9 177.6L456.2 177.5L456.5 177.4L456.8 178.1L457.1 177.8L457.4 178.1L457.7 177.9L458.0 178.2L458.3 177.8L458.6 178.1L458.9 178.4L459.2 178.3L459.5 178.1L459.8 178.0L460.0 178.5L460.1 178.5L460.4 178.4L460.7 178.3L461.0 178.8L461.3 179.6L461.6 178.7L461.9 179.0L462.2 179.1L462.5 178.1L462.8 179.2L463.1 179.0L463.4 179.8L463.7 179.4L464.0 179.3L464.3 179.6L464.6 179.8L464.9 179.7L465.2 180.0L465.5 179.6L465.8 180.2L466.1 180.6L466.4 181.2L466.7 180.8L467.0 180.8L467.3 181.3L467.6 181.3L467.9 181.7L468.2 181.6L468.5 181.3L468.8 181.6L469.1 181.7L469.4 181.9L469.7 181.9L470.0 181.7L470.0 181.3L470.3 181.9L470.6 181.6L470.9 182.5L471.2 182.6L471.5 182.2L471.8 183.2L472.1 183.4L472.4 183.4L472.7 184.1L473.0 184.4L473.3 183.5L473.6 184.5L473.9 184.5L474.2 184.7L474.5 185.1L474.8 184.7L475.1 185.0L475.4 185.1L475.7 185.3L476.0 185.7L476.3 185.4L476.6 185.8L476.9 186.5L477.2 186.5L477.5 186.8L477.8 186.2L478.1 186.7L478.4 186.9L478.7 187.2L479.0 187.1L479.3 187.8L479.6 187.5L479.9 187.6L480.2 187.6L480.5 187.9L480.8 187.5L481.0 188.1L481.1 187.9L481.4 187.7L481.7 187.7L482.0 187.8L482.3 188.0L482.6 187.9L482.9 187.7L483.2 187.8L483.5 187.5L483.8 187.8L484.1 187.3L484.4 186.6L484.7 187.7L485.0 187.2L485.3 186.7L485.6 187.0L485.9 186.7L486.2 187.7L486.5 187.1L486.8 186.4L487.1 187.1L487.4 186.7L487.7 187.5L488.0 186.4L488.3 186.0L488.4 186.8L488.6 186.7L488.9 186.7L489.2 186.1L489.5 187.1L489.8 187.6L490.1 186.4L490.4 187.6L490.7 187.1L491.0 188.2L491.3 187.6L491.6 187.6L491.9 188.1L492.2 188.1L492.5 187.8L492.8 188.5L493.1 188.2L493.4 187.9L493.7 189.4L494.0 188.7L494.3 188.8L494.6 189.3L494.9 188.8L495.2 189.0L495.5 189.4L495.8 189.6L496.1 189.9L496.4 190.3L496.7 190.1L497.0 190.5L497.3 190.4L497.6 190.4L497.6 190.4L497.9 190.2L498.2 190.8L498.5 190.3L498.8 190.5L499.1 190.6L499.4 191.8L499.7 191.8L500.0 190.9L500.3 192.1L500.6 191.1L500.9 191.4L501.2 191.8L501.5 191.4L501.8 192.7L502.1 191.4L502.1 190.6L502.4 192.0L502.7 190.9L503.0 190.7L503.3 188.9L503.6 191.0L503.9 190.7L504.2 190.4L504.5 190.3L504.6 190.7L504.8 189.6L505.1 190.0L505.4 188.9L505.7 189.0L506.0 189.7L506.3 189.2L506.6 188.1L506.9 189.0L507.1 188.7L507.2 188.3L507.5 189.2L507.8 188.9L508.1 188.5L508.4 189.1L508.7 191.2L509.0 189.6L509.3 191.1L509.6 191.7L509.6 191.7L509.9 190.9L510.2 191.7L510.5 192.5L510.6 193.1L510.8 193.4L511.1 196.5L511.4 201.4L511.7 203.2L511.7 202.7L512.0 200.8L512.3 198.5L512.6 195.1L512.9 193.5L513.0 192.1L513.2 192.8L513.5 192.6L513.8 192.0L514.1 192.7L514.4 192.6L514.7 192.3L515.0 192.7L515.3 191.6L515.6 192.4L515.9 192.7L516.2 192.6L516.5 193.1L516.8 191.7L517.0 191.5L517.1 192.5L517.4 192.7L517.7 193.7L518.0 192.9L518.3 192.1L518.6 193.2L518.7 192.3L518.9 192.1L519.2 195.1L519.5 194.4L519.8 195.0L519.9 194.9L520.1 195.6L520.4 194.1L520.7 194.0L521.0 192.1L521.2 191.8L521.3 193.5L521.6 193.5L521.9 193.0L522.2 192.9L522.5 192.9L522.8 192.5L523.1 194.0L523.4 193.6L523.7 193.6L524.0 193.7L524.3 194.3L524.5 194.1L524.6 194.3L524.9 193.5L525.2 195.0L525.5 196.6L525.8 195.6L526.1 196.3L526.4 197.2L526.6 197.3L526.7 197.1L527.0 195.4L527.3 196.2L527.6 194.5L527.9 194.1L528.2 194.4L528.5 193.6L528.6 194.3L528.8 195.7L529.1 194.6L529.4 194.8L529.7 194.1L530.0 194.4L530.0 194.2L530.3 194.1L530.6 192.9L530.9 192.1L531.2 191.5L531.5 190.7L531.5 190.4L531.8 190.6L532.1 192.0L532.4 192.3L532.7 193.3L532.7 193.3L533.0 193.7L533.3 195.7L533.6 197.1L533.9 200.1L534.2 201.6L534.5 202.8L534.8 203.2L534.8 203.3L535.1 200.4L535.4 193.4L535.7 184.8L535.7 184.8L536.6 201.0L537.8 187.0L539.0 205.5L540.4 183.0L541.8 204.0L542.8 190.0"/>
<path d="M41.0 229.0L41.3 229.0L41.6 229.0L41.9 229.0L42.2 228.9L42.5 229.2L42.8 228.8L43.1 229.1L43.4 228.9L43.7 228.8L44.0 229.1L44.3 228.7L44.6 229.7L44.9 228.8L45.2 229.7L45.5 228.6L45.8 229.2L46.1 228.6L46.4 228.5L46.7 229.1L47.0 229.2L47.3 228.6L47.6 229.4L47.9 228.7L48.2 229.0L48.5 229.1L48.8 229.2L49.1 228.4L49.4 229.6L49.7 229.2L50.0 228.9L50.3 228.6L50.6 228.4L50.9 228.5L51.2 229.2L51.5 228.9L51.8 228.6L52.1 228.8L52.4 229.5L52.7 228.9L53.0 228.8L53.3 229.5L53.6 229.2L53.9 229.0L54.2 228.8L54.5 228.5L54.8 228.6L55.1 228.8L55.4 228.9L55.7 229.1L56.0 229.2L56.3 229.1L56.6 229.1L56.9 228.6L57.2 228.2L57.5 228.8L57.8 228.7L58.1 228.8L58.4 228.9L58.7 228.6L59.0 228.6L59.3 229.0L59.6 229.0L59.9 228.8L60.0 229.2L60.2 228.9L60.5 228.7L60.8 229.0L61.1 229.7L61.4 227.2L61.7 229.5L62.0 231.0L62.3 229.7L62.6 228.9L62.9 230.0L63.2 229.3L63.5 229.3L63.8 229.3L64.1 229.7L64.4 229.6L64.7 229.5L65.0 230.1L65.3 229.5L65.6 229.5L65.9 230.2L66.2 230.2L66.5 230.4L66.8 229.8L67.1 230.6L67.4 230.5L67.7 231.0L68.0 230.0L68.3 230.6L68.6 230.5L68.9 230.2L69.2 230.5L69.5 231.3L69.8 230.8L70.0 230.7L70.1 231.3L70.4 231.4L70.7 231.5L71.0 231.0L71.3 231.3L71.6 231.8L71.9 231.3L72.2 231.3L72.5 232.0L72.8 232.3L73.1 231.4L73.4 231.0L73.7 231.5L74.0 231.8L74.3 232.2L74.6 232.6L74.9 232.5L75.2 232.4L75.5 232.8L75.8 232.6L76.0 233.0L76.1 232.8L76.4 234.2L76.7 233.7L77.0 233.3L77.3 233.4L77.6 233.9L77.9 233.7L78.2 234.3L78.5 234.5L78.8 235.4L79.1 235.2L79.4 235.4L79.7 235.5L80.0 235.9L80.3 236.6L80.6 236.9L80.9 237.7L81.2 237.5L81.5 238.3L81.8 238.5L82.1 238.8L82.4 238.8L82.7 239.4L83.0 240.1L83.0 240.1L83.3 240.4L83.6 240.9L83.9 241.4L84.2 241.9L84.5 242.4L84.8 243.0L85.1 243.5L85.4 244.1L85.7 244.8L86.0 245.4L86.3 246.1L86.6 246.7L86.9 247.4L87.2 248.1L87.5 248.8L87.8 249.5L88.0 250.0L88.1 250.2L88.4 251.0L88.7 251.8L89.0 252.6L89.3 253.5L89.6 254.4L89.9 255.3L90.2 256.2L90.5 257.2L90.8 258.1L91.1 259.1L91.4 260.1L91.7 261.0L92.0 262.0L92.3 262.9L92.6 263.8L92.9 264.7L93.0 265.0L93.2 265.6L93.5 266.5L93.8 267.3L94.1 268.2L94.4 269.1L94.7 270.0L95.0 270.9L95.3 271.8L95.6 272.6L95.9 273.5L96.2 274.3L96.5 275.2L96.8 276.0L97.1 276.8L97.4 277.5L97.7 278.3L98.0 279.0L98.0 279.0L98.3 279.7L98.6 280.4L98.9 281.1L99.2 281.8L99.5 282.4L99.8 283.1L100.1 283.8L100.4 284.4L100.7 285.0L101.0 285.7L101.3 286.3L101.6 286.9L101.9 287.4L102.2 288.0L102.5 288.5L102.8 289.1L103.1 289.6L103.4 290.1L103.7 290.5L104.0 291.0L104.0 291.0L104.3 291.4L104.6 291.9L104.9 292.3L105.2 292.8L105.5 293.2L105.8 293.6L106.1 294.0L106.4 294.4L106.7 294.8L107.0 295.2L107.3 295.5L107.6 295.9L107.9 296.2L108.2 296.5L108.5 296.8L108.8 297.1L109.1 297.4L109.4 297.6L109.7 297.8L110.0 298.0L110.0 298.0L110.3 298.2L110.6 298.3L110.9 298.5L111.2 298.7L111.5 298.8L111.8 299.0L112.1 299.1L112.4 299.3L112.7 299.4L113.0 299.6L113.3 299.7L113.6 299.8L113.9 300.0L114.2 300.1L114.5 300.2L114.8 300.3L115.1 300.3L115.4 300.4L115.7 300.5L116.0 300.5L116.3 300.6L116.6 300.6L116.9 300.6L117.0 300.6L117.2 300.6L117.5 300.6L117.8 300.5L118.1 300.5L118.4 300.4L118.7 300.3L119.0 300.2L119.3 300.1L119.6 300.0L119.9 299.8L120.2 299.7L120.5 299.5L120.8 299.3L121.1 299.1L121.4 298.9L121.7 298.7L122.0 298.5L122.3 298.3L122.6 298.1L122.9 297.9L123.2 297.6L123.5 297.4L123.8 297.2L124.0 297.0L124.1 296.9L124.4 296.6L124.7 296.3L125.0 295.9L125.3 295.5L125.6 295.1L125.9 294.6L126.2 294.1L126.5 293.5L126.8 293.0L127.1 292.4L127.4 291.8L127.7 291.2L128.0 290.6L128.3 290.1L128.6 289.5L128.9 288.9L129.2 288.4L129.5 287.8L129.8 287.3L130.0 287.0L130.1 286.8L130.4 286.4L130.7 285.9L131.0 285.4L131.3 284.9L131.6 284.5L131.9 284.0L132.2 283.5L132.5 283.0L132.8 282.6L133.1 282.1L133.4 281.6L133.7 281.2L134.0 280.7L134.3 280.3L134.6 279.8L134.9 279.4L135.2 278.9L135.5 278.5L135.8 278.0L136.1 277.6L136.4 277.2L136.7 276.8L137.0 276.3L137.3 275.9L137.6 275.5L137.9 275.1L138.0 275.0L138.2 274.7L138.5 274.4L138.8 274.0L139.1 273.6L139.4 273.2L139.7 272.9L140.0 272.5L140.3 272.1L140.6 271.8L140.9 271.4L141.2 271.1L141.5 270.8L141.8 270.4L142.1 270.1L142.4 269.7L142.7 269.4L143.0 269.1L143.3 268.8L143.6 268.4L143.9 268.1L144.0 268.0L144.2 267.8L144.5 267.5L144.8 267.2L145.1 266.9L145.4 266.6L145.7 266.3L146.0 266.0L146.3 265.7L146.6 265.4L146.9 265.1L147.2 264.8L147.5 264.5L147.8 264.2L148.1 263.9L148.4 263.7L148.7 263.4L149.0 263.1L149.3 262.7L149.6 262.4L149.9 262.1L150.0 262.0L150.2 261.8L150.5 261.4L150.8 261.1L151.1 260.7L151.4 260.4L151.7 260.0L152.0 259.7L152.3 259.3L152.6 258.9L152.9 258.5L153.2 258.1L153.5 257.7L153.8 257.3L154.1 257.0L154.4 256.6L154.7 256.2L155.0 255.8L155.3 255.4L155.6 255.0L155.9 254.6L156.2 254.2L156.5 253.8L156.8 253.5L157.1 253.1L157.4 252.7L157.7 252.3L158.0 252.0L158.3 251.6L158.6 251.3L158.9 251.0L159.2 250.6L159.5 250.3L159.8 250.0L160.0 249.8L160.1 249.7L160.4 249.4L160.7 249.1L161.0 248.8L161.3 248.6L161.6 248.3L161.9 248.0L162.2 247.7L162.5 247.5L162.8 247.2L163.1 246.9L163.4 246.7L163.7 246.4L164.0 246.2L164.3 245.9L164.6 245.7L164.9 245.4L165.2 245.2L165.5 244.9L165.8 244.7L166.1 244.5L166.4 244.2L166.7 244.0L167.0 243.8L167.3 243.5L167.6 243.3L167.9 243.1L168.2 242.8L168.5 242.6L168.8 242.4L169.1 242.2L169.4 241.9L169.7 241.7L170.0 241.5L170.0 241.5L170.3 241.3L170.6 241.1L170.9 240.8L171.2 240.6L171.5 240.4L171.8 240.2L172.1 240.0L172.4 239.8L172.7 239.5L173.0 239.3L173.3 239.1L173.6 238.9L173.9 238.7L174.2 238.5L174.5 238.3L174.8 238.1L175.1 237.9L175.4 237.7L175.7 237.5L176.0 237.3L176.3 237.1L176.6 236.9L176.9 236.7L177.2 236.5L177.5 236.3L177.8 236.2L178.1 236.0L178.4 235.8L178.7 235.6L179.0 235.4L179.3 235.2L179.6 235.0L179.9 234.9L180.0 234.8L180.2 234.7L180.5 234.5L180.8 234.3L181.1 234.1L181.4 234.0L181.7 233.8L182.0 233.6L182.3 233.4L182.6 233.3L182.9 233.1L183.2 232.9L183.5 232.7L183.8 232.6L184.1 232.4L184.4 232.2L184.7 232.0L185.0 231.9L185.3 231.7L185.6 231.5L185.9 231.4L186.2 231.2L186.5 231.1L186.8 230.9L187.1 230.8L187.4 230.6L187.7 230.5L188.0 230.3L188.3 230.2L188.6 230.0L188.9 229.9L189.2 229.7L189.5 229.6L189.8 229.5L190.0 229.4L190.1 229.4L190.4 229.2L190.7 229.1L191.0 229.0L191.3 228.9L191.6 228.8L191.9 228.7L192.2 228.5L192.5 228.4L192.8 228.3L193.1 228.2L193.4 228.1L193.7 228.0L194.0 227.9L194.3 227.8L194.6 227.7L194.9 227.6L195.2 227.5L195.5 227.4L195.8 227.3L196.1 227.2L196.4 227.1L196.7 227.0L197.0 226.9L197.3 226.8L197.6 226.8L197.9 226.7L198.2 226.6L198.5 226.5L198.8 226.4L199.1 226.3L199.4 226.2L199.7 226.1L200.0 226.0L200.0 226.0L200.3 225.9L200.6 225.8L200.9 225.7L201.2 225.6L201.5 225.5L201.8 225.4L202.1 225.3L202.4 225.3L202.7 225.2L203.0 225.1L203.3 225.0L203.6 224.9L203.9 224.8L204.2 224.7L204.5 224.6L204.8 224.5L205.1 224.4L205.4 224.4L205.7 224.3L206.0 224.2L206.3 224.1L206.6 224.0L206.9 223.9L207.2 223.8L207.5 223.7L207.8 223.7L208.1 223.6L208.4 223.5L208.7 223.4L209.0 223.3L209.3 223.2L209.6 223.1L209.9 223.0L210.0 223.0L210.2 222.9L210.5 222.8L210.8 222.8L211.1 222.7L211.4 222.6L211.7 222.5L212.0 222.4L212.3 222.3L212.6 222.2L212.9 222.1L213.2 222.0L213.5 221.9L213.8 221.8L214.1 221.7L214.4 221.6L214.7 221.5L215.0 221.4L215.3 221.3L215.6 221.2L215.9 221.2L216.2 221.1L216.5 221.0L216.8 220.9L217.1 220.8L217.4 220.7L217.7 220.6L218.0 220.5L218.3 220.4L218.6 220.4L218.9 220.3L219.2 220.2L219.5 220.1L219.8 220.0L220.0 220.0L220.1 220.0L220.4 219.9L220.7 219.8L221.0 219.8L221.3 219.7L221.6 219.6L221.9 219.5L222.2 219.5L222.5 219.4L222.8 219.3L223.1 219.3L223.4 219.2L223.7 219.1L224.0 219.1L224.3 219.0L224.6 218.9L224.9 218.9L225.2 218.8L225.5 218.7L225.8 218.7L226.1 218.6L226.4 218.5L226.7 218.5L227.0 218.4L227.3 218.4L227.6 218.3L227.9 218.2L228.2 218.2L228.5 218.1L228.8 218.1L229.1 218.0L229.4 217.9L229.7 217.9L230.0 217.8L230.3 217.8L230.6 217.7L230.9 217.6L231.2 217.6L231.5 217.5L231.8 217.5L232.1 217.4L232.4 217.4L232.7 217.3L233.0 217.2L233.3 217.2L233.6 217.1L233.9 217.1L234.2 217.0L234.5 217.0L234.8 216.9L235.1 216.9L235.4 216.8L235.7 216.8L236.0 216.7L236.3 216.6L236.6 216.6L236.9 216.5L237.2 216.5L237.5 216.4L237.8 216.4L238.1 216.3L238.4 216.3L238.7 216.2L239.0 216.2L239.3 216.1L239.6 216.1L239.9 216.0L240.0 216.0L240.2 216.0L240.5 215.9L240.8 215.9L241.1 215.8L241.4 215.8L241.7 215.7L242.0 215.7L242.3 215.6L242.6 215.6L242.9 215.5L243.2 215.5L243.5 215.4L243.8 215.4L244.1 215.3L244.4 215.3L244.7 215.2L245.0 215.2L245.3 215.1L245.6 215.1L245.9 215.1L246.2 215.0L246.5 215.0L246.8 214.9L247.1 214.9L247.4 214.8L247.7 214.8L248.0 214.7L248.3 214.7L248.6 214.7L248.9 214.6L249.2 214.6L249.5 214.5L249.8 214.5L250.1 214.4L250.4 214.4L250.7 214.3L251.0 214.3L251.3 214.3L251.6 214.2L251.9 214.2L252.2 214.1L252.5 214.1L252.8 214.0L253.1 214.0L253.4 214.0L253.7 213.9L254.0 213.9L254.3 213.8L254.6 213.8L254.9 213.7L255.2 213.7L255.5 213.7L255.8 213.6L256.1 213.6L256.4 213.5L256.7 213.5L257.0 213.4L257.3 213.4L257.6 213.4L257.9 213.3L258.2 213.3L258.5 213.2L258.8 213.2L259.1 213.1L259.4 213.1L259.7 213.0L260.0 213.0L260.0 213.0L260.3 213.0L260.6 212.9L260.9 212.9L261.2 212.8L261.5 212.8L261.8 212.7L262.1 212.6L262.4 212.6L262.7 212.5L263.0 212.5L263.3 212.4L263.6 212.4L263.9 212.3L264.2 212.3L264.5 212.2L264.8 212.2L265.1 212.1L265.4 212.1L265.7 212.0L266.0 212.0L266.3 211.9L266.6 211.9L266.9 211.8L267.2 211.8L267.5 211.7L267.8 211.7L268.1 211.7L268.4 211.6L268.7 211.6L269.0 211.6L269.3 211.5L269.6 211.5L269.9 211.5L270.0 211.5L270.2 211.5L270.5 211.5L270.8 211.5L271.1 211.5L271.4 211.4L271.7 211.4L272.0 211.4L272.3 211.4L272.6 211.4L272.9 211.4L273.2 211.4L273.5 211.4L273.8 211.4L274.1 211.3L274.4 211.3L274.7 211.3L275.0 211.3L275.3 211.3L275.6 211.3L275.9 211.3L276.2 211.3L276.5 211.3L276.8 211.3L277.1 211.3L277.4 211.3L277.7 211.3L278.0 211.3L278.3 211.3L278.6 211.3L278.9 211.2L279.2 211.2L279.5 211.2L279.8 211.2L280.1 211.2L280.4 211.2L280.7 211.2L281.0 211.2L281.3 211.2L281.6 211.2L281.9 211.2L282.2 211.2L282.5 211.2L282.8 211.2L283.1 211.2L283.4 211.2L283.7 211.2L284.0 211.2L284.3 211.2L284.6 211.1L284.9 211.1L285.2 211.1L285.5 211.1L285.8 211.1L286.1 211.1L286.4 211.1L286.7 211.1L287.0 211.1L287.3 211.1L287.6 211.1L287.9 211.1L288.2 211.1L288.5 211.1L288.8 211.0L289.1 211.0L289.4 211.0L289.7 211.0L290.0 211.0L290.0 211.0L290.3 211.0L290.6 211.0L290.9 211.0L291.2 210.9L291.5 210.9L291.8 210.9L292.1 210.9L292.4 210.9L292.7 210.9L293.0 210.8L293.3 210.8L293.6 210.8L293.9 210.8L294.2 210.8L294.5 210.7L294.8 210.7L295.1 210.7L295.4 210.7L295.7 210.7L296.0 210.6L296.3 210.6L296.6 210.6L296.9 210.6L297.2 210.6L297.5 210.5L297.8 210.5L298.1 210.5L298.4 210.5L298.7 210.5L299.0 210.5L299.3 210.4L299.6 210.4L299.9 210.4L300.0 210.4L300.2 210.4L300.5 210.4L300.8 210.4L301.1 210.3L301.4 210.3L301.7 210.3L302.0 210.3L302.3 210.3L302.6 210.3L302.9 210.3L303.2 210.3L303.5 210.2L303.8 210.2L304.1 210.2L304.4 210.2L304.7 210.2L305.0 210.2L305.3 210.2L305.6 210.1L305.9 210.1L306.2 210.1L306.5 210.1L306.8 210.1L307.1 210.1L307.4 210.1L307.7 210.1L308.0 210.1L308.3 210.0L308.6 210.0L308.9 210.0L309.2 210.0L309.5 210.0L309.8 210.0L310.1 210.0L310.4 210.0L310.7 210.0L311.0 209.9L311.3 209.9L311.6 209.9L311.9 209.9L312.2 209.9L312.5 209.9L312.8 209.9L313.1 209.9L313.4 209.9L313.7 209.8L314.0 209.8L314.3 209.8L314.6 209.8L314.9 209.8L315.2 209.8L315.5 209.8L315.8 209.8L316.1 209.8L316.4 209.7L316.7 209.7L317.0 209.7L317.3 209.7L317.6 209.7L317.9 209.7L318.2 209.7L318.5 209.7L318.8 209.6L319.1 209.6L319.4 209.6L319.7 209.6L320.0 209.6L320.0 209.6L320.3 209.6L320.6 209.6L320.9 209.6L321.2 209.5L321.5 209.5L321.8 209.5L322.1 209.5L322.4 209.5L322.7 209.5L323.0 209.5L323.3 209.4L323.6 209.4L323.9 209.4L324.2 209.4L324.5 209.4L324.8 209.4L325.1 209.4L325.4 209.3L325.7 209.3L326.0 209.3L326.3 209.3L326.6 209.3L326.9 209.3L327.2 209.2L327.5 209.2L327.8 209.2L328.1 209.2L328.4 209.2L328.7 209.2L329.0 209.2L329.3 209.1L329.6 209.1L329.9 209.1L330.2 209.1L330.5 209.1L330.8 209.1L331.1 209.0L331.4 209.0L331.7 209.0L332.0 209.0L332.3 209.0L332.6 209.0L332.9 209.0L333.2 209.0L333.5 208.9L333.8 208.9L334.1 208.9L334.4 208.9L334.7 208.9L335.0 208.9L335.3 208.9L335.6 208.9L335.9 208.9L336.2 208.9L336.5 208.8L336.8 208.8L337.1 208.8L337.4 208.8L337.7 208.8L338.0 208.8L338.3 208.8L338.6 208.8L338.9 208.8L339.2 208.8L339.5 208.8L339.8 208.8L340.0 208.8L340.1 208.8L340.4 208.8L340.7 208.8L341.0 208.8L341.3 208.8L341.6 208.8L341.9 208.8L342.2 208.8L342.5 208.8L342.8 208.8L343.1 208.8L343.4 208.8L343.7 208.8L344.0 208.8L344.3 208.8L344.6 208.8L344.9 208.8L345.2 208.9L345.5 208.9L345.8 208.9L346.1 208.9L346.4 208.9L346.7 208.9L347.0 208.9L347.3 208.9L347.6 208.9L347.9 208.9L348.2 208.9L348.5 208.9L348.8 209.0L349.1 209.0L349.4 209.0L349.7 209.0L350.0 209.0L350.0 209.0L350.3 209.0L350.6 209.0L350.9 209.1L351.2 209.1L351.5 209.2L351.8 209.2L352.1 209.3L352.4 209.4L352.7 209.5L353.0 209.6L353.3 209.7L353.6 209.8L353.9 209.9L354.2 210.0L354.5 210.1L354.8 210.3L355.1 210.4L355.4 210.6L355.7 210.7L356.0 210.9L356.3 211.0L356.6 211.2L356.9 211.3L357.2 211.5L357.5 211.7L357.8 211.9L358.0 212.0L358.1 212.1L358.4 212.3L358.7 212.5L359.0 212.8L359.3 213.1L359.6 213.5L359.9 213.8L360.2 214.2L360.5 214.6L360.8 215.1L361.1 215.5L361.4 216.0L361.7 216.5L362.0 217.0L362.0 217.0L362.3 217.5L362.6 218.2L362.9 218.8L363.2 219.6L363.5 220.3L363.8 221.1L364.1 222.0L364.4 222.9L364.7 223.8L365.0 224.8L365.3 225.7L365.6 226.7L365.9 227.7L366.0 228.0L366.2 228.7L366.5 229.8L366.8 231.1L367.1 232.4L367.4 233.8L367.7 235.2L368.0 236.5L368.3 237.7L368.6 238.8L368.9 239.7L369.0 240.0L369.2 240.5L369.5 241.4L369.8 242.2L370.1 242.9L370.4 243.5L370.7 243.9L371.0 244.0L371.0 244.0L371.3 243.8L371.6 243.3L371.9 242.5L372.2 241.5L372.5 240.5L372.8 239.6L373.0 239.0L373.1 238.7L373.4 237.8L373.7 236.9L374.0 235.9L374.3 234.9L374.6 233.9L374.9 232.9L375.2 232.0L375.5 231.2L375.8 230.4L376.0 230.0L376.1 229.8L376.4 229.3L376.7 228.7L377.0 228.0L377.3 227.5L377.6 227.2L377.9 226.7L378.2 225.9L378.5 226.7L378.8 225.8L379.0 225.6L379.1 226.4L379.4 226.0L379.7 225.3L380.0 225.5L380.3 224.5L380.6 224.6L380.9 223.6L381.2 225.5L381.5 223.7L381.8 225.0L382.1 224.1L382.4 224.0L382.7 224.4L383.0 224.6L383.3 224.8L383.6 225.4L383.9 224.6L384.0 224.9L384.2 224.1L384.5 224.8L384.8 224.5L385.1 224.2L385.4 224.5L385.7 224.5L386.0 224.7L386.3 224.9L386.6 224.5L386.9 224.5L387.2 225.4L387.5 224.1L387.8 224.8L388.1 226.1L388.4 223.9L388.7 225.1L389.0 226.0L389.0 224.7L389.3 227.2L389.6 224.5L389.9 226.9L390.2 227.2L390.5 227.1L390.8 226.8L391.1 227.4L391.4 227.2L391.7 228.3L392.0 228.0L392.3 228.8L392.6 229.6L392.9 229.6L393.0 229.9L393.2 230.4L393.5 231.0L393.8 231.9L394.1 232.9L394.4 233.9L394.7 235.0L395.0 236.1L395.3 237.3L395.6 238.5L395.9 239.6L396.0 240.0L396.2 240.7L396.5 241.9L396.8 243.1L397.1 244.3L397.4 245.5L397.7 246.8L398.0 248.1L398.3 249.4L398.6 250.7L398.6 250.7L398.9 252.0L399.2 253.4L399.5 254.8L399.8 256.2L400.1 257.6L400.4 259.0L400.7 260.5L401.0 262.0L401.3 263.5L401.6 265.0L401.9 266.6L402.2 268.2L402.5 269.8L402.8 271.4L402.8 271.4L403.1 272.9L403.4 274.3L403.7 275.7L404.0 277.1L404.3 278.8L404.6 280.7L404.9 283.1L405.2 286.0L405.2 286.0L405.5 293.1L405.8 303.6L406.1 311.0L406.2 311.6L406.4 308.0L406.7 295.2L407.0 285.0L407.0 285.0L407.3 280.9L407.6 277.6L407.9 275.0L408.2 272.8L408.5 270.8L408.8 268.7L409.0 267.2L409.1 266.4L409.4 264.1L409.7 261.9L410.0 259.7L410.3 257.5L410.6 255.4L410.9 253.4L411.2 251.4L411.5 249.5L411.8 247.7L412.0 246.5L412.1 245.9L412.4 244.2L412.7 242.4L413.0 240.7L413.3 239.1L413.6 237.5L413.9 236.0L414.2 234.5L414.5 233.0L414.8 231.7L415.1 230.4L415.2 230.0L415.4 229.2L415.7 228.1L416.0 227.1L416.3 226.1L416.5 225.5L416.6 225.2L416.9 224.2L417.2 223.3L417.5 222.4L417.8 221.4L418.1 220.5L418.4 219.7L418.7 218.8L419.0 218.1L419.3 217.3L419.6 216.7L419.9 216.2L420.0 216.0L420.2 215.7L420.5 215.2L420.8 214.8L421.1 214.3L421.4 213.9L421.7 213.5L422.0 213.1L422.3 212.8L422.6 212.5L422.9 212.2L423.2 212.0L423.5 211.8L423.8 211.7L424.0 211.6L424.1 211.6L424.4 211.5L424.7 211.5L425.0 211.4L425.3 211.3L425.6 211.3L425.9 211.2L426.2 211.2L426.5 211.2L426.8 211.1L427.1 211.1L427.4 211.1L427.7 211.0L428.0 211.0L428.3 211.0L428.6 211.0L428.9 211.0L429.0 211.0L429.2 211.0L429.5 211.1L429.8 211.2L430.1 211.3L430.4 211.5L430.7 211.7L431.0 212.0L431.3 212.2L431.6 212.5L431.9 212.8L432.2 213.1L432.5 213.4L432.8 213.8L433.1 214.1L433.4 214.4L433.7 214.7L434.0 215.0L434.0 215.0L434.3 215.3L434.6 215.6L434.9 215.9L435.2 216.3L435.5 216.6L435.8 217.0L436.1 217.3L436.4 217.7L436.7 218.1L437.0 218.5L437.3 218.8L437.6 219.2L437.9 219.6L438.2 220.0L438.5 220.3L438.8 220.7L439.1 221.0L439.4 221.4L439.7 221.7L440.0 222.0L440.0 222.0L440.3 222.3L440.6 222.6L440.9 222.8L441.2 223.1L441.5 223.6L441.8 223.7L442.1 224.4L442.4 224.2L442.7 225.0L443.0 224.9L443.3 225.5L443.6 225.2L443.9 225.3L444.0 225.1L444.2 225.9L444.5 226.2L444.8 226.8L445.1 226.6L445.4 226.3L445.7 226.2L446.0 226.6L446.3 226.5L446.6 227.2L446.9 227.1L447.2 226.5L447.5 226.6L447.8 227.5L448.1 227.2L448.4 227.0L448.7 227.7L449.0 227.2L449.3 227.3L449.6 227.3L449.9 226.8L450.0 227.9L450.2 227.2L450.5 227.5L450.8 227.5L451.1 228.2L451.4 228.0L451.7 228.1L452.0 227.5L452.3 228.3L452.6 227.8L452.9 228.6L453.2 228.7L453.5 228.7L453.8 229.6L454.1 229.1L454.4 229.2L454.7 229.1L455.0 229.1L455.3 229.6L455.6 229.7L455.9 228.9L456.2 229.9L456.5 229.8L456.8 230.0L457.1 229.9L457.4 229.3L457.7 229.4L458.0 230.7L458.3 230.1L458.6 229.5L458.9 230.3L459.2 230.1L459.5 229.6L459.8 229.4L460.0 229.8L460.1 230.5L460.4 230.5L460.7 230.4L461.0 230.7L461.3 230.9L461.6 229.8L461.9 230.6L462.2 230.4L462.5 230.3L462.8 230.6L463.1 230.9L463.4 230.8L463.7 230.4L464.0 230.8L464.3 231.9L464.6 230.7L464.9 230.5L465.2 231.3L465.5 231.4L465.8 231.4L466.1 230.8L466.4 231.7L466.7 231.1L467.0 231.0L467.3 231.2L467.6 231.5L467.9 231.8L468.2 231.9L468.5 231.7L468.8 232.1L469.1 231.8L469.4 232.2L469.7 231.4L470.0 231.4L470.0 232.3L470.3 231.5L470.6 232.1L470.9 232.2L471.2 232.2L471.5 232.4L471.8 233.2L472.1 231.8L472.4 233.3L472.7 234.1L473.0 233.3L473.3 233.5L473.6 234.0L473.9 234.6L474.2 233.6L474.5 234.3L474.8 234.4L475.1 234.9L475.4 234.9L475.7 235.3L476.0 235.1L476.3 235.4L476.6 235.3L476.9 235.5L477.2 235.9L477.5 236.0L477.8 235.8L478.1 237.0L478.4 236.5L478.7 236.1L479.0 237.2L479.0 236.5L479.3 237.1L479.6 237.0L479.9 237.2L480.2 237.3L480.5 237.1L480.8 237.4L481.1 238.3L481.4 236.6L481.7 237.6L482.0 237.9L482.3 237.3L482.6 237.3L482.9 238.8L483.2 237.8L483.5 238.9L483.8 238.3L484.1 238.2L484.4 238.4L484.7 238.6L485.0 238.9L485.3 238.7L485.6 238.6L485.9 238.7L486.2 239.3L486.5 239.1L486.8 238.5L487.1 238.8L487.4 239.2L487.7 239.0L488.0 239.2L488.3 239.1L488.4 239.4L488.6 239.8L488.9 240.1L489.2 239.9L489.5 240.9L489.8 240.3L490.1 241.8L490.4 241.1L490.7 241.2L491.0 241.0L491.3 240.4L491.6 241.7L491.9 242.1L492.2 243.1L492.5 242.0L492.8 243.6L493.1 243.1L493.4 243.7L493.7 242.7L494.0 244.1L494.3 244.2L494.6 244.9L494.9 244.9L495.2 244.7L495.5 245.8L495.8 245.9L496.1 246.1L496.4 246.5L496.7 246.6L497.0 246.4L497.3 246.4L497.6 246.7L497.6 247.2L497.9 247.3L498.2 247.1L498.5 246.7L498.8 248.2L499.1 247.8L499.4 249.1L499.7 247.3L500.0 247.8L500.3 248.5L500.6 247.9L500.9 247.3L501.2 247.7L501.5 248.4L501.8 248.6L502.1 248.4L502.4 249.2L502.7 249.3L503.0 249.0L503.3 248.9L503.6 248.8L503.9 249.4L504.2 249.7L504.5 249.4L504.8 249.7L505.1 249.4L505.4 248.9L505.7 249.3L506.0 250.5L506.3 250.5L506.6 251.4L506.8 250.6L506.9 251.2L507.2 251.7L507.5 251.9L507.8 251.3L508.1 252.0L508.4 252.7L508.7 252.6L509.0 254.1L509.3 255.1L509.5 254.7L509.6 256.5L509.9 256.3L510.2 258.0L510.5 259.8L510.8 261.7L511.1 264.4L511.4 266.2L511.7 269.0L512.0 269.8L512.3 270.8L512.6 270.7L512.6 270.0L512.9 270.0L513.2 267.7L513.5 266.1L513.8 262.4L514.1 260.3L514.4 257.1L514.7 255.2L515.0 254.1L515.0 254.1L515.3 254.4L515.6 254.7L515.9 253.8L516.2 254.7L516.5 256.2L516.8 254.8L517.0 254.8L517.1 254.7L517.4 254.7L517.7 257.0L518.0 257.2L518.3 258.2L518.6 259.9L518.9 260.9L519.2 259.1L519.3 260.3L519.5 260.0L519.8 259.7L520.1 259.4L520.4 258.6L520.7 259.0L521.0 257.8L521.3 257.0L521.6 257.0L521.9 256.2L522.2 255.5L522.4 255.2L522.5 256.0L522.8 254.9L523.1 254.3L523.4 253.6L523.7 253.6L524.0 253.0L524.3 253.4L524.6 253.3L524.9 251.7L525.2 252.7L525.5 252.9L525.8 252.4L526.1 251.6L526.4 252.7L526.7 251.3L527.0 250.8L527.0 250.9L527.3 251.3L527.6 251.7L527.9 251.6L528.2 250.8L528.5 249.8L528.8 249.9L529.1 249.6L529.4 249.8L529.7 248.5L529.7 249.7L530.0 249.7L530.3 248.8L530.6 248.6L530.9 247.3L531.2 246.4L531.5 246.5L531.8 247.1L532.1 246.8L532.4 245.7L532.5 246.7L532.7 245.9L533.0 247.3L533.3 247.3L533.6 247.5L533.9 249.2L534.2 249.3L534.5 250.2L534.8 250.9L535.1 252.9L535.3 253.3L535.4 253.5L535.7 254.2L536.0 256.2L536.3 255.9L536.6 256.6L536.9 258.7L537.2 259.6L537.5 259.8L537.8 259.2L538.0 260.3L538.1 261.3L538.4 261.6L538.7 263.2L539.0 262.0L539.3 263.8L539.6 263.4L539.9 264.8L540.0 264.0L540.2 264.3L540.5 262.1L540.8 259.8L541.1 257.9L541.4 256.2L541.7 254.7L541.7 255.3L542.0 254.4L542.3 253.3L542.6 252.5L542.9 252.1L543.0 252.0"/>
<path d="M41.0 266.0L41.3 266.0L41.6 266.0L41.9 266.0L42.2 266.0L42.5 266.0L42.8 266.0L43.1 266.1L43.4 266.1L43.7 266.1L44.0 266.1L44.3 266.1L44.6 266.1L44.9 266.1L45.2 266.1L45.5 266.1L45.8 266.2L46.1 266.2L46.4 266.2L46.7 266.2L47.0 266.2L47.3 266.2L47.6 266.2L47.9 266.2L48.2 266.3L48.5 266.3L48.8 266.4L49.1 266.2L49.4 265.5L49.7 266.0L50.0 265.7L50.3 266.6L50.6 266.5L50.9 265.7L51.2 266.0L51.5 268.2L51.8 265.4L52.1 265.5L52.4 266.2L52.7 265.7L53.0 266.1L53.3 267.1L53.6 268.5L53.9 264.6L54.2 266.6L54.5 266.7L54.8 266.6L55.1 266.5L55.4 266.3L55.7 267.8L56.0 266.2L56.3 266.6L56.6 266.8L56.9 266.9L57.2 266.6L57.5 267.9L57.8 266.8L58.1 267.1L58.4 266.8L58.7 265.8L59.0 266.0L59.3 265.8L59.6 267.2L59.9 266.2L60.0 265.8L60.2 267.3L60.5 267.6L60.8 265.1L61.1 265.7L61.4 267.1L61.7 270.4L62.0 268.3L62.3 265.2L62.6 266.5L62.9 269.6L63.2 266.1L63.5 267.2L63.8 268.2L64.1 266.1L64.4 267.2L64.7 267.8L65.0 270.0L65.3 266.5L65.6 267.4L65.9 268.2L66.2 267.6L66.5 266.2L66.8 268.0L67.1 267.7L67.4 268.2L67.7 268.9L68.0 268.8L68.3 268.2L68.6 268.2L68.9 266.6L69.2 267.7L69.5 268.2L69.8 267.5L70.0 268.1L70.1 267.1L70.4 269.7L70.7 270.5L71.0 267.7L71.3 268.6L71.6 268.0L71.9 269.7L72.2 268.8L72.5 268.5L72.8 268.2L73.1 268.7L73.4 267.5L73.7 269.4L74.0 267.9L74.3 269.4L74.6 269.0L74.9 270.2L75.2 269.0L75.5 270.3L75.8 268.2L76.1 270.0L76.4 269.2L76.7 269.7L77.0 269.7L77.3 270.8L77.6 267.6L77.9 270.3L78.0 268.4L78.2 271.4L78.5 268.1L78.8 269.3L79.1 268.8L79.4 272.7L79.7 269.7L80.0 271.5L80.3 271.1L80.6 270.0L80.9 272.0L81.2 273.4L81.5 272.8L81.8 274.4L82.1 273.3L82.4 274.1L82.7 274.0L83.0 275.2L83.3 277.3L83.6 275.9L83.9 276.1L84.0 275.3L84.2 275.4L84.5 278.2L84.8 275.7L85.1 276.4L85.4 277.6L85.7 277.7L86.0 280.7L86.3 276.4L86.6 279.8L86.9 280.6L87.2 279.0L87.5 280.0L87.8 281.6L88.1 283.3L88.4 281.0L88.7 280.6L89.0 283.8L89.3 284.8L89.6 283.2L89.9 281.4L90.0 285.6L90.2 284.0L90.5 285.8L90.8 284.9L91.1 284.9L91.4 285.1L91.7 287.6L92.0 287.9L92.3 284.3L92.6 285.9L92.9 289.3L93.2 287.2L93.5 286.5L93.8 288.3L94.1 288.5L94.4 288.8L94.7 288.7L95.0 289.2L95.3 289.3L95.6 290.4L95.9 289.4L96.2 290.3L96.5 290.7L96.8 292.5L97.1 291.8L97.4 291.5L97.7 292.4L98.0 292.4L98.0 293.2L98.3 292.8L98.6 294.4L98.9 293.9L99.2 292.7L99.5 292.6L99.8 293.7L100.1 293.6L100.4 293.4L100.7 293.0L101.0 293.2L101.3 294.0L101.6 294.2L101.9 294.2L102.2 294.4L102.5 294.5L102.8 294.7L103.1 294.8L103.4 294.9L103.7 295.1L104.0 295.2L104.3 295.3L104.6 295.4L104.9 295.6L105.2 295.7L105.5 295.8L105.8 295.9L106.0 296.0L106.1 296.0L106.4 296.2L106.7 296.3L107.0 296.4L107.3 296.5L107.6 296.6L107.9 296.8L108.2 296.9L108.5 297.0L108.8 297.1L109.1 297.2L109.4 297.4L109.7 297.5L110.0 297.6L110.3 297.7L110.6 297.8L110.9 297.9L111.2 298.0L111.5 298.1L111.8 298.1L112.1 298.2L112.4 298.3L112.7 298.4L113.0 298.4L113.3 298.5L113.6 298.5L113.9 298.6L114.0 298.6L114.2 298.6L114.5 298.7L114.8 298.7L115.1 298.7L115.4 298.8L115.7 298.8L116.0 298.8L116.3 298.9L116.6 298.9L116.9 298.9L117.2 298.9L117.5 299.0L117.8 299.0L118.1 299.0L118.4 299.0L118.7 299.0L119.0 299.0L119.0 299.0L119.3 299.0L119.6 299.0L119.9 298.9L120.2 298.8L120.5 298.8L120.8 298.6L121.1 298.5L121.4 298.4L121.7 298.3L122.0 298.1L122.3 298.0L122.6 297.8L122.9 297.6L123.2 297.5L123.5 297.3L123.8 297.1L124.1 297.0L124.4 296.8L124.7 296.6L125.0 296.5L125.3 296.3L125.6 296.2L125.9 296.0L126.0 296.0L126.2 295.9L126.5 295.8L126.8 295.7L127.1 295.6L127.4 295.4L127.7 295.3L128.0 295.2L128.3 295.1L128.6 295.0L128.9 294.8L129.2 294.7L129.5 294.6L129.8 294.5L130.1 294.4L130.4 294.3L130.7 294.1L131.0 294.0L131.3 293.9L131.6 293.8L131.9 293.7L132.2 293.6L132.5 293.5L132.8 293.3L133.1 293.2L133.4 293.1L133.7 293.0L134.0 292.8L134.3 292.7L134.6 292.6L134.9 292.5L135.2 292.3L135.5 292.2L135.8 292.1L136.0 292.0L136.1 292.0L136.4 291.8L136.7 291.7L137.0 291.6L137.3 291.4L137.6 291.3L137.9 291.1L138.2 291.0L138.5 290.9L138.8 290.7L139.1 290.6L139.4 290.4L139.7 290.3L140.0 290.2L140.3 290.0L140.6 289.9L140.9 289.7L141.2 289.6L141.5 289.4L141.8 289.3L142.1 289.1L142.4 289.0L142.7 288.8L143.0 288.7L143.3 288.5L143.6 288.4L143.9 288.2L144.2 288.1L144.5 287.9L144.8 287.8L145.1 287.6L145.4 287.5L145.7 287.3L146.0 287.1L146.3 287.0L146.6 286.8L146.9 286.7L147.2 286.5L147.5 286.4L147.8 286.2L148.1 286.0L148.4 285.9L148.7 285.7L149.0 285.5L149.3 285.4L149.6 285.2L149.9 285.1L150.0 285.0L150.2 284.9L150.5 284.7L150.8 284.6L151.1 284.4L151.4 284.2L151.7 284.0L152.0 283.8L152.3 283.7L152.6 283.5L152.9 283.3L153.2 283.1L153.5 282.9L153.8 282.7L154.1 282.6L154.4 282.4L154.7 282.2L155.0 282.0L155.3 281.8L155.6 281.6L155.9 281.4L156.2 281.2L156.5 281.1L156.8 280.9L157.1 280.7L157.4 280.5L157.7 280.3L158.0 280.1L158.3 280.0L158.6 279.8L158.9 279.6L159.2 279.4L159.5 279.3L159.8 279.1L160.0 279.0L160.1 278.9L160.4 278.8L160.7 278.6L161.0 278.5L161.3 278.3L161.6 278.1L161.9 278.0L162.2 277.8L162.5 277.7L162.8 277.5L163.1 277.3L163.4 277.2L163.7 277.0L164.0 276.9L164.3 276.7L164.6 276.6L164.9 276.4L165.2 276.3L165.5 276.1L165.8 276.0L166.1 275.8L166.4 275.7L166.7 275.5L167.0 275.4L167.3 275.2L167.6 275.1L167.9 275.0L168.2 274.8L168.5 274.7L168.8 274.5L169.1 274.4L169.4 274.3L169.7 274.1L170.0 274.0L170.0 274.0L170.3 273.9L170.6 273.7L170.9 273.6L171.2 273.5L171.5 273.3L171.8 273.2L172.1 273.1L172.4 273.0L172.7 272.8L173.0 272.7L173.3 272.6L173.6 272.4L173.9 272.3L174.2 272.2L174.5 272.1L174.8 272.0L175.1 271.8L175.4 271.7L175.7 271.6L176.0 271.5L176.3 271.4L176.6 271.2L176.9 271.1L177.2 271.0L177.5 270.9L177.8 270.8L178.1 270.7L178.4 270.6L178.7 270.5L179.0 270.3L179.3 270.2L179.6 270.1L179.9 270.0L180.0 270.0L180.2 269.9L180.5 269.8L180.8 269.7L181.1 269.6L181.4 269.5L181.7 269.4L182.0 269.3L182.3 269.3L182.6 269.2L182.9 269.1L183.2 269.0L183.5 268.9L183.8 268.8L184.1 268.7L184.4 268.6L184.7 268.5L185.0 268.4L185.3 268.4L185.6 268.3L185.9 268.2L186.2 268.1L186.5 268.0L186.8 267.9L187.1 267.8L187.4 267.8L187.7 267.7L188.0 267.6L188.3 267.5L188.6 267.4L188.9 267.3L189.2 267.2L189.5 267.1L189.8 267.1L190.0 267.0L190.1 267.0L190.4 266.9L190.7 266.8L191.0 266.7L191.3 266.6L191.6 266.5L191.9 266.4L192.2 266.3L192.5 266.3L192.8 266.2L193.1 266.1L193.4 266.0L193.7 265.9L194.0 265.8L194.3 265.7L194.6 265.6L194.9 265.5L195.2 265.4L195.5 265.4L195.8 265.3L196.1 265.2L196.4 265.1L196.7 265.0L197.0 264.9L197.3 264.8L197.6 264.7L197.9 264.6L198.2 264.5L198.5 264.5L198.8 264.4L199.1 264.3L199.4 264.2L199.7 264.1L200.0 264.0L200.0 264.0L200.3 263.9L200.6 263.8L200.9 263.7L201.2 263.6L201.5 263.6L201.8 263.5L202.1 263.4L202.4 263.3L202.7 263.2L203.0 263.1L203.3 263.0L203.6 262.9L203.9 262.8L204.2 262.7L204.5 262.7L204.8 262.6L205.1 262.5L205.4 262.4L205.7 262.3L206.0 262.2L206.3 262.1L206.6 262.0L206.9 261.9L207.2 261.8L207.5 261.8L207.8 261.7L208.1 261.6L208.4 261.5L208.7 261.4L209.0 261.3L209.3 261.2L209.6 261.1L209.9 261.0L210.0 261.0L210.2 260.9L210.5 260.8L210.8 260.8L211.1 260.7L211.4 260.6L211.7 260.5L212.0 260.4L212.3 260.3L212.6 260.2L212.9 260.1L213.2 260.0L213.5 259.9L213.8 259.8L214.1 259.7L214.4 259.6L214.7 259.6L215.0 259.5L215.3 259.4L215.6 259.3L215.9 259.2L216.2 259.1L216.5 259.0L216.8 258.9L217.1 258.8L217.4 258.7L217.7 258.6L218.0 258.6L218.3 258.5L218.6 258.4L218.9 258.3L219.2 258.2L219.5 258.1L219.8 258.1L220.0 258.0L220.1 258.0L220.4 257.9L220.7 257.8L221.0 257.7L221.3 257.7L221.6 257.6L221.9 257.5L222.2 257.4L222.5 257.4L222.8 257.3L223.1 257.2L223.4 257.1L223.7 257.1L224.0 257.0L224.3 256.9L224.6 256.8L224.9 256.8L225.2 256.7L225.5 256.6L225.8 256.5L226.1 256.5L226.4 256.4L226.7 256.3L227.0 256.3L227.3 256.2L227.6 256.1L227.9 256.1L228.2 256.0L228.5 255.9L228.8 255.9L229.1 255.8L229.4 255.7L229.7 255.7L230.0 255.6L230.0 255.6L230.3 255.5L230.6 255.5L230.9 255.4L231.2 255.3L231.5 255.3L231.8 255.2L232.1 255.1L232.4 255.1L232.7 255.0L233.0 254.9L233.3 254.9L233.6 254.8L233.9 254.7L234.2 254.7L234.5 254.6L234.8 254.6L235.1 254.5L235.4 254.4L235.7 254.4L236.0 254.3L236.3 254.3L236.6 254.2L236.9 254.1L237.2 254.1L237.5 254.0L237.8 254.0L238.1 253.9L238.4 253.9L238.7 253.8L239.0 253.8L239.3 253.7L239.6 253.7L239.9 253.6L240.0 253.6L240.2 253.6L240.5 253.5L240.8 253.5L241.1 253.4L241.4 253.4L241.7 253.3L242.0 253.3L242.3 253.2L242.6 253.2L242.9 253.1L243.2 253.1L243.5 253.0L243.8 253.0L244.1 252.9L244.4 252.9L244.7 252.9L245.0 252.8L245.3 252.8L245.6 252.7L245.9 252.7L246.2 252.7L246.5 252.6L246.8 252.6L247.1 252.6L247.4 252.5L247.7 252.5L248.0 252.5L248.3 252.5L248.6 252.4L248.9 252.4L249.2 252.4L249.5 252.4L249.8 252.4L250.0 252.4L250.1 252.4L250.4 252.4L250.7 252.4L251.0 252.4L251.3 252.4L251.6 252.4L251.9 252.5L252.2 252.5L252.5 252.5L252.8 252.5L253.1 252.6L253.4 252.6L253.7 252.6L254.0 252.7L254.3 252.7L254.6 252.7L254.9 252.8L255.2 252.8L255.5 252.8L255.8 252.9L256.0 252.9L256.1 252.9L256.4 253.0L256.7 253.1L257.0 253.1L257.3 253.3L257.6 253.4L257.9 253.5L258.2 253.6L258.5 253.7L258.8 253.8L259.1 253.9L259.4 253.9L259.7 254.0L260.0 254.0L260.0 254.0L260.3 254.0L260.6 254.0L260.9 253.9L261.2 253.9L261.5 253.8L261.8 253.8L262.1 253.7L262.4 253.6L262.7 253.5L263.0 253.4L263.3 253.4L263.6 253.3L263.9 253.2L264.0 253.2L264.2 253.2L264.5 253.1L264.8 253.0L265.1 253.0L265.4 252.9L265.7 252.8L266.0 252.8L266.3 252.7L266.6 252.6L266.9 252.6L267.2 252.5L267.5 252.4L267.8 252.3L268.0 252.3L268.1 252.3L268.4 252.2L268.7 252.1L269.0 252.0L269.3 251.9L269.6 251.8L269.9 251.7L270.2 251.6L270.5 251.5L270.8 251.4L271.1 251.3L271.4 251.2L271.7 251.2L272.0 251.1L272.3 251.0L272.6 251.0L272.9 251.0L273.0 251.0L273.2 251.0L273.5 251.0L273.8 251.0L274.1 251.0L274.4 251.0L274.7 251.0L275.0 251.0L275.3 251.0L275.6 251.0L275.9 251.0L276.2 251.1L276.5 251.1L276.8 251.1L277.1 251.1L277.4 251.1L277.7 251.1L278.0 251.1L278.3 251.1L278.6 251.2L278.9 251.2L279.2 251.2L279.5 251.2L279.8 251.2L280.1 251.2L280.4 251.2L280.7 251.3L281.0 251.3L281.3 251.3L281.6 251.3L281.9 251.3L282.2 251.3L282.5 251.4L282.8 251.4L283.1 251.4L283.4 251.4L283.7 251.4L284.0 251.4L284.3 251.4L284.6 251.5L284.9 251.5L285.2 251.5L285.5 251.5L285.8 251.5L286.1 251.5L286.4 251.5L286.7 251.5L287.0 251.6L287.3 251.6L287.6 251.6L287.9 251.6L288.2 251.6L288.5 251.6L288.8 251.6L289.1 251.6L289.4 251.6L289.7 251.6L290.0 251.6L290.0 251.6L290.3 251.6L290.6 251.6L290.9 251.6L291.2 251.6L291.5 251.6L291.8 251.6L292.1 251.6L292.4 251.6L292.7 251.6L293.0 251.6L293.3 251.6L293.6 251.6L293.9 251.6L294.2 251.6L294.5 251.6L294.8 251.6L295.1 251.6L295.4 251.6L295.7 251.6L296.0 251.6L296.3 251.6L296.6 251.6L296.9 251.6L297.2 251.6L297.5 251.6L297.8 251.6L298.1 251.6L298.4 251.6L298.7 251.6L299.0 251.6L299.3 251.6L299.6 251.6L299.9 251.6L300.2 251.6L300.5 251.6L300.8 251.6L301.1 251.6L301.4 251.6L301.7 251.6L302.0 251.6L302.3 251.6L302.6 251.6L302.9 251.6L303.2 251.6L303.5 251.6L303.8 251.6L304.1 251.6L304.4 251.6L304.7 251.6L305.0 251.6L305.3 251.6L305.6 251.6L305.9 251.6L306.2 251.6L306.5 251.6L306.8 251.6L307.1 251.6L307.4 251.6L307.7 251.6L308.0 251.6L308.3 251.6L308.6 251.6L308.9 251.6L309.2 251.6L309.5 251.6L309.8 251.6L310.0 251.6L310.1 251.6L310.4 251.6L310.7 251.6L311.0 251.6L311.3 251.6L311.6 251.6L311.9 251.6L312.2 251.6L312.5 251.5L312.8 251.5L313.1 251.5L313.4 251.5L313.7 251.5L314.0 251.5L314.3 251.4L314.6 251.4L314.9 251.4L315.2 251.4L315.5 251.3L315.8 251.3L316.1 251.3L316.4 251.2L316.7 251.2L317.0 251.2L317.3 251.2L317.6 251.1L317.9 251.1L318.2 251.0L318.5 251.0L318.8 251.0L319.1 250.9L319.4 250.9L319.7 250.9L320.0 250.8L320.3 250.8L320.6 250.8L320.9 250.7L321.2 250.7L321.5 250.6L321.8 250.6L322.1 250.6L322.4 250.5L322.7 250.5L323.0 250.4L323.3 250.4L323.6 250.4L323.9 250.3L324.2 250.3L324.5 250.2L324.8 250.2L325.1 250.2L325.4 250.1L325.7 250.1L326.0 250.0L326.3 250.0L326.6 250.0L326.9 249.9L327.2 249.9L327.5 249.9L327.8 249.8L328.1 249.8L328.4 249.8L328.7 249.7L329.0 249.7L329.3 249.7L329.6 249.6L329.9 249.6L330.0 249.6L330.2 249.6L330.5 249.6L330.8 249.5L331.1 249.5L331.4 249.5L331.7 249.4L332.0 249.4L332.3 249.4L332.6 249.3L332.9 249.3L333.2 249.3L333.5 249.2L333.8 249.2L334.1 249.2L334.4 249.1L334.7 249.1L335.0 249.1L335.3 249.0L335.6 249.0L335.9 249.0L336.2 248.9L336.5 248.9L336.8 248.9L337.1 248.8L337.4 248.8L337.7 248.8L338.0 248.7L338.3 248.7L338.6 248.7L338.9 248.7L339.2 248.6L339.5 248.6L339.8 248.6L340.1 248.6L340.4 248.5L340.7 248.5L341.0 248.5L341.3 248.5L341.6 248.5L341.9 248.4L342.2 248.4L342.5 248.4L342.8 248.4L343.1 248.4L343.4 248.4L343.7 248.4L344.0 248.4L344.0 248.4L344.3 248.4L344.6 248.4L344.9 248.4L345.2 248.5L345.5 248.5L345.8 248.5L346.1 248.6L346.4 248.6L346.7 248.7L347.0 248.8L347.3 248.8L347.6 248.9L347.9 249.0L348.2 249.1L348.5 249.2L348.8 249.3L349.1 249.4L349.4 249.5L349.7 249.6L350.0 249.7L350.3 249.8L350.6 249.9L350.9 249.9L351.2 250.1L351.5 250.2L351.8 250.1L352.1 250.2L352.4 249.9L352.7 250.3L353.0 250.0L353.3 251.0L353.6 250.9L353.9 251.4L354.0 251.2L354.2 250.8L354.5 251.3L354.8 251.1L355.1 251.6L355.4 251.5L355.7 251.0L356.0 251.6L356.3 251.7L356.6 251.6L356.9 252.2L357.2 252.7L357.5 251.8L357.8 251.9L358.1 251.2L358.4 252.2L358.7 252.2L359.0 251.6L359.3 252.8L359.6 253.1L359.9 252.6L360.0 252.8L360.2 252.7L360.5 253.6L360.8 252.8L361.1 253.6L361.4 254.9L361.7 254.4L362.0 254.9L362.3 254.9L362.6 254.8L362.9 255.7L363.2 256.2L363.5 255.9L363.8 256.9L364.0 257.6L364.1 257.6L364.4 256.8L364.7 257.5L365.0 257.6L365.3 259.2L365.6 259.4L365.9 259.9L366.2 259.7L366.5 260.0L366.8 261.1L367.1 261.6L367.4 261.6L367.7 262.6L368.0 263.3L368.0 263.1L368.3 263.1L368.6 263.2L368.9 264.8L369.2 265.7L369.5 266.2L369.8 266.8L370.1 267.2L370.4 268.3L370.7 268.3L371.0 268.5L371.0 268.0L371.3 268.0L371.6 268.0L371.9 267.0L372.2 266.3L372.5 266.0L372.8 265.9L373.1 264.8L373.4 264.7L373.7 263.4L374.0 262.9L374.0 262.4L374.3 262.4L374.6 263.0L374.9 262.2L375.2 262.1L375.5 261.8L375.8 261.2L376.1 260.9L376.4 260.8L376.7 260.8L377.0 260.5L377.3 260.3L377.6 259.9L377.9 259.3L378.0 259.5L378.2 259.0L378.5 259.7L378.8 258.1L379.1 258.8L379.4 259.7L379.7 258.3L380.0 257.8L380.3 258.1L380.6 258.5L380.9 257.8L381.2 258.0L381.5 257.7L381.8 257.4L382.0 259.0L382.1 257.6L382.4 257.4L382.7 257.4L383.0 257.8L383.3 257.9L383.6 258.1L383.9 257.9L384.2 257.2L384.5 258.2L384.8 257.9L385.1 258.0L385.4 257.5L385.7 258.0L386.0 258.1L386.0 258.4L386.3 257.9L386.6 258.7L386.9 258.9L387.2 258.5L387.5 258.9L387.8 259.1L388.1 260.1L388.4 258.8L388.7 260.1L389.0 259.8L389.3 260.6L389.6 261.5L389.9 261.1L390.0 261.6L390.2 261.3L390.5 262.9L390.8 262.7L391.1 263.2L391.4 262.4L391.7 262.9L392.0 264.2L392.3 264.0L392.6 264.4L392.9 265.1L393.2 264.8L393.5 266.0L393.8 266.2L394.0 266.6L394.1 266.5L394.4 267.2L394.7 267.5L395.0 268.3L395.3 268.8L395.6 269.3L395.9 269.8L396.2 270.4L396.5 271.0L396.8 271.6L397.1 272.2L397.4 272.8L397.7 273.4L398.0 274.0L398.0 274.0L398.3 274.6L398.6 275.2L398.9 275.7L399.2 276.3L399.5 276.9L399.8 277.5L400.1 278.1L400.4 278.7L400.7 279.3L401.0 279.9L401.3 280.5L401.6 281.1L401.9 281.8L402.0 282.0L402.2 282.4L402.5 283.0L402.8 283.6L403.1 284.1L403.4 284.7L403.7 285.3L404.0 286.0L404.3 286.8L404.6 287.6L404.9 288.6L405.0 289.0L405.2 290.1L405.5 292.6L405.8 295.3L406.1 296.9L406.2 297.0L406.4 296.4L406.7 294.1L407.0 291.2L407.3 289.0L407.3 289.0L407.6 287.7L407.9 286.6L408.2 285.6L408.5 284.7L408.7 284.0L408.8 283.7L409.1 282.7L409.4 281.7L409.7 280.7L410.0 279.8L410.3 278.8L410.6 277.9L410.9 277.0L411.2 276.1L411.5 275.2L411.8 274.3L412.0 273.7L412.1 273.4L412.4 272.5L412.7 271.6L413.0 270.7L413.3 269.8L413.6 269.0L413.9 268.1L414.2 267.2L414.5 266.4L414.8 265.6L415.1 264.8L415.4 264.0L415.6 263.5L415.7 263.3L416.0 262.5L416.3 261.8L416.6 261.0L416.9 260.3L417.2 259.6L417.5 258.9L417.8 258.2L418.1 257.5L418.4 256.9L418.7 256.2L419.0 255.7L419.3 255.1L419.6 254.6L419.9 254.1L420.0 254.0L420.2 253.7L420.5 253.3L420.8 252.9L421.1 252.5L421.4 252.2L421.7 251.8L422.0 251.5L422.3 251.2L422.6 250.9L422.9 250.7L423.2 250.5L423.5 250.3L423.5 250.3L423.8 250.1L424.1 250.0L424.4 249.8L424.7 249.6L425.0 249.5L425.3 249.3L425.6 249.2L425.9 249.1L426.2 248.9L426.5 248.8L426.8 248.7L427.1 248.7L427.4 248.6L427.7 248.5L428.0 248.5L428.3 248.5L428.3 248.5L428.6 248.5L428.9 248.5L429.2 248.6L429.5 248.6L429.8 248.7L430.1 248.8L430.4 248.9L430.7 249.0L431.0 249.1L431.3 249.2L431.6 249.4L431.9 249.5L432.2 249.6L432.5 249.8L432.8 249.9L433.0 250.0L433.1 250.0L433.4 250.2L433.7 250.4L434.0 250.6L434.3 250.8L434.6 251.0L434.9 251.2L435.2 251.5L435.5 251.7L435.8 252.0L436.1 252.3L436.4 252.5L436.7 252.8L437.0 253.1L437.3 253.4L437.6 253.6L437.9 253.9L438.2 254.2L438.5 254.4L438.8 254.7L439.1 254.9L439.4 255.2L439.7 255.4L440.0 255.6L440.0 255.6L440.3 255.7L440.6 256.0L440.9 256.1L441.2 256.4L441.5 256.5L441.8 256.4L442.1 256.8L442.4 257.3L442.7 257.7L443.0 257.2L443.3 257.3L443.6 258.4L443.9 257.6L444.2 259.0L444.5 258.3L444.8 258.1L445.1 259.0L445.4 259.5L445.7 258.4L446.0 259.7L446.3 259.2L446.6 260.0L446.9 259.4L447.2 259.1L447.5 260.1L447.8 260.4L448.1 261.0L448.4 261.0L448.7 260.7L449.0 260.5L449.3 260.5L449.6 260.7L449.9 260.6L450.0 260.9L450.2 260.1L450.5 261.3L450.8 261.3L451.1 262.5L451.4 261.9L451.7 261.5L452.0 262.0L452.3 261.4L452.6 261.8L452.9 261.4L453.2 262.8L453.5 262.6L453.8 262.0L454.1 262.5L454.4 263.0L454.7 263.0L455.0 263.0L455.3 262.6L455.6 262.8L455.9 263.2L456.2 263.6L456.5 263.0L456.8 263.0L457.1 264.0L457.4 263.2L457.7 264.1L458.0 263.9L458.3 264.2L458.6 264.7L458.9 264.3L459.2 264.5L459.5 263.9L459.8 264.1L460.0 264.7L460.1 265.0L460.4 265.1L460.7 265.5L461.0 264.8L461.3 264.9L461.6 265.3L461.9 264.9L462.2 265.0L462.5 264.7L462.8 265.6L463.1 264.8L463.4 265.5L463.7 264.8L464.0 265.9L464.3 265.1L464.6 266.0L464.9 265.1L465.2 265.6L465.5 266.3L465.8 265.6L466.1 266.0L466.4 265.9L466.7 265.2L467.0 266.4L467.3 266.5L467.6 265.9L467.9 266.7L468.2 266.2L468.5 266.2L468.8 266.7L469.1 266.5L469.4 267.8L469.7 266.3L470.0 267.3L470.0 267.4L470.3 266.3L470.6 266.5L470.9 267.5L471.2 267.1L471.5 267.6L471.8 268.0L472.1 267.4L472.4 267.2L472.7 266.7L473.0 267.9L473.3 267.6L473.6 268.1L473.9 268.2L474.2 267.6L474.5 269.0L474.8 268.8L475.1 268.8L475.4 268.1L475.7 268.5L476.0 268.5L476.3 268.6L476.6 268.4L476.9 269.1L477.2 269.1L477.5 269.3L477.8 269.0L478.1 269.8L478.4 269.4L478.7 268.4L479.0 269.3L479.3 269.6L479.6 270.1L479.9 269.6L480.2 269.7L480.5 269.6L480.8 270.2L481.0 269.8L481.1 269.8L481.4 269.8L481.7 270.4L482.0 270.0L482.3 269.6L482.6 270.6L482.9 270.1L483.2 270.6L483.5 270.6L483.8 271.0L484.1 271.0L484.4 270.4L484.7 270.6L485.0 270.2L485.3 271.5L485.6 271.0L485.9 271.5L486.2 270.8L486.5 270.2L486.8 271.7L487.1 271.1L487.4 271.2L487.7 271.2L488.0 271.5L488.3 271.5L488.6 270.7L488.9 271.9L489.2 271.3L489.5 271.3L489.8 272.3L490.1 272.0L490.4 271.5L490.7 271.0L491.0 271.9L491.3 272.1L491.6 271.9L491.9 271.5L492.0 271.7L492.2 271.5L492.5 272.2L492.8 272.5L493.1 272.6L493.4 272.0L493.7 272.4L494.0 272.6L494.3 272.3L494.6 272.5L494.9 273.4L495.2 272.7L495.5 273.1L495.8 272.6L496.1 272.8L496.4 272.1L496.7 272.8L497.0 273.2L497.3 274.0L497.6 273.4L497.9 273.5L498.2 273.7L498.5 273.8L498.8 273.2L499.1 274.3L499.4 273.7L499.7 273.7L500.0 274.0L500.3 273.0L500.6 273.4L500.9 273.9L501.2 274.4L501.5 274.0L501.8 274.2L502.1 275.0L502.4 275.3L502.7 275.0L503.0 275.5L503.0 274.5L503.3 274.6L503.6 275.1L503.9 274.9L504.2 274.9L504.5 276.3L504.8 275.3L505.1 275.0L505.4 276.1L505.7 277.1L506.0 276.2L506.3 277.1L506.6 276.3L506.9 276.5L507.2 276.6L507.5 277.2L507.8 278.7L508.1 277.2L508.4 279.2L508.6 277.8L508.7 278.4L509.0 279.6L509.3 280.3L509.6 281.2L509.9 281.2L510.2 283.7L510.5 284.2L510.8 287.7L511.1 287.3L511.4 288.7L511.7 288.9L512.0 290.0L512.3 290.0L512.6 291.6L512.6 290.8L512.9 290.7L513.2 288.2L513.5 285.8L513.8 284.1L514.1 279.9L514.4 276.9L514.7 276.5L515.0 274.9L515.0 275.3L515.3 276.2L515.6 275.2L515.9 276.3L516.2 275.6L516.5 277.1L516.8 277.2L517.0 276.2L517.1 276.5L517.4 276.6L517.7 277.9L518.0 279.2L518.3 278.5L518.6 280.7L518.9 279.9L519.2 280.5L519.3 279.9L519.5 282.2L519.8 280.8L520.1 280.5L520.4 279.4L520.7 279.8L521.0 277.3L521.3 277.8L521.6 278.5L521.9 276.3L522.2 275.9L522.4 276.0L522.5 275.0L522.8 275.0L523.1 275.2L523.4 274.3L523.7 274.0L524.0 273.2L524.3 273.3L524.6 272.7L524.9 273.2L525.2 272.4L525.5 271.5L525.8 269.8L526.1 271.4L526.4 271.1L526.7 269.8L527.0 268.8L527.0 269.3L527.3 270.2L527.6 268.7L527.9 268.7L528.2 268.8L528.5 269.0L528.8 268.0L529.1 267.6L529.4 267.0L529.7 268.1L530.0 267.5L530.3 266.6L530.6 265.6L530.7 265.9L530.9 266.7L531.2 265.7L531.5 266.6L531.8 266.1L532.1 265.9L532.4 266.1L532.7 265.9L533.0 265.0L533.3 265.3L533.4 266.9L533.6 264.8L533.9 265.4L534.2 266.7L534.5 266.4L534.8 266.5L535.1 266.8L535.4 268.5L535.7 269.5L536.0 270.4L536.2 270.0L536.3 270.9L536.6 270.6L536.9 272.5L537.2 273.4L537.5 275.4L537.8 277.2L538.1 278.6L538.4 278.4L538.7 280.5L539.0 279.7L539.0 279.4L539.3 279.3L539.6 277.1L539.9 276.0L540.2 274.1L540.5 272.0L540.8 271.3L540.8 270.9L541.1 270.4L541.4 269.3L541.7 269.2L542.0 268.6L542.3 268.3L542.6 268.1L542.9 268.0L543.0 268.0"/>
</g>
<rect class="frame" x="41.0" y="4.2" width="502.30" height="354.50"/>
<g class="ticks">
<line x1="41.00" y1="358.70" x2="41.00" y2="365.40"/>
<line x1="75.90" y1="358.70" x2="75.90" y2="362.40"/>
<line x1="110.80" y1="358.70" x2="110.80" y2="365.40"/>
<line x1="145.70" y1="358.70" x2="145.70" y2="362.40"/>
<line x1="180.60" y1="358.70" x2="180.60" y2="365.40"/>
<line x1="215.50" y1="358.70" x2="215.50" y2="362.40"/>
<line x1="250.40" y1="358.70" x2="250.40" y2="365.40"/>
<line x1="285.30" y1="358.70" x2="285.30" y2="362.40"/>
<line x1="320.20" y1="358.70" x2="320.20" y2="365.40"/>
<line x1="355.10" y1="358.70" x2="355.10" y2="362.40"/>
<line x1="390.00" y1="358.70" x2="390.00" y2="365.40"/>
<line x1="424.90" y1="358.70" x2="424.90" y2="362.40"/>
<line x1="459.80" y1="358.70" x2="459.80" y2="365.40"/>
<line x1="494.70" y1="358.70" x2="494.70" y2="362.40"/>
<line x1="529.60" y1="358.70" x2="529.60" y2="365.40"/>
</g>
<g class="tl">
<text transform="translate(41.00 382.6) scale(0.963 1)">4000</text>
<text transform="translate(110.80 382.6) scale(0.963 1)">3500</text>
<text transform="translate(180.60 382.6) scale(0.963 1)">3000</text>
<text transform="translate(250.40 382.6) scale(0.963 1)">2500</text>
<text transform="translate(320.20 382.6) scale(0.963 1)">2000</text>
<text transform="translate(390.00 382.6) scale(0.963 1)">1500</text>
<text transform="translate(459.80 382.6) scale(0.963 1)">1000</text>
<text transform="translate(529.60 382.6) scale(0.963 1)">500</text>
</g>
<g class="sl">
<text transform="translate(200.3 69.3) scale(0.921 1)">RE5NASH-110-3</text>
<text transform="translate(200.5 109.8) scale(0.921 1)">RE1NASH-110-3</text>
<text transform="translate(202.8 143.2) scale(0.921 1)">RE1NAR-80-20</text>
<text transform="translate(212.3 184.6) scale(0.921 1)">5NASH-110-3</text>
<text transform="translate(207.1 208.3) scale(0.921 1)">1NASH-110-3</text>
<text transform="translate(210.8 247.6) scale(0.921 1)">1NAR-80-20</text>
</g>
<g class="pl">
<text transform="translate(112.4 345.3) rotate(-90)">3446</text>
<text transform="translate(374.4 310.5) rotate(-90)">1637</text>
<text transform="translate(407.5 348.6) rotate(-90)">1384</text>
<text transform="translate(405.1 193.0) rotate(-90)">1420</text>
<text transform="translate(451.6 192.4) rotate(-90)">1080</text>
<text transform="translate(538.3 230.5) rotate(-90)">460</text>
<text transform="translate(514.7 318.0) rotate(-90)">620</text>
<text transform="translate(527.3 307.7) rotate(-90)">565</text>
<text transform="translate(540.4 307.0) rotate(-90)">430</text>
</g>
<text class="ax" font-size="25.8" transform="translate(23 290.3) rotate(-90) scale(0.955 1)">Transmission (a. u.)</text>
<g class="xt"><text class="ax" font-size="24.8" transform="translate(182.2 418.6) scale(0.945 1)">Wavenumber</text><text class="ax" font-size="29.6" transform="translate(328.2 418.6) scale(0.9 1)">(</text><text class="ax" font-size="24.8" transform="translate(338.2 418.6) scale(0.945 1)">cm</text><text class="ax" font-size="23.6" transform="translate(372.9 410.9) scale(0.85 1)">-</text><text class="ax" font-size="23.6" transform="translate(380.3 410.9) scale(0.85 1)">1</text><text class="ax" font-size="29.6" transform="translate(394.2 418.6) scale(0.9 1)">)</text></g>
</svg>
</body>
</html>
